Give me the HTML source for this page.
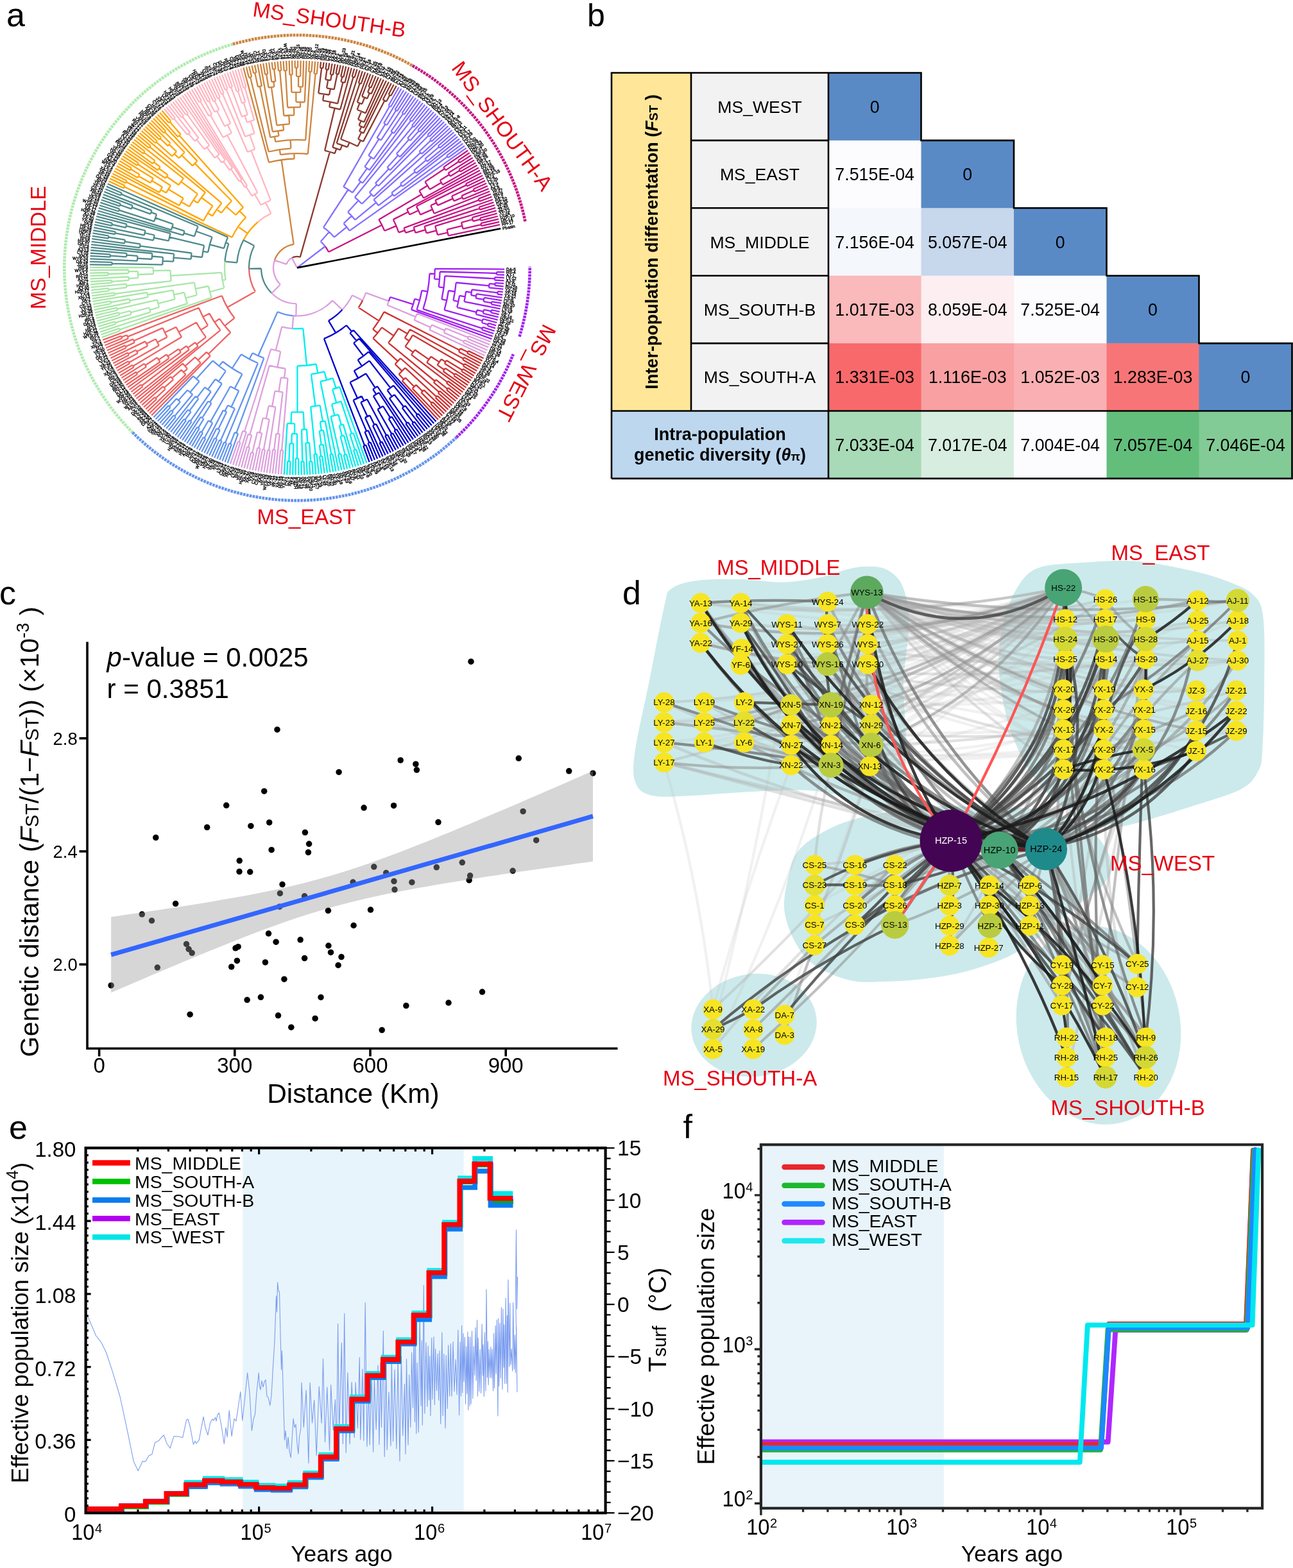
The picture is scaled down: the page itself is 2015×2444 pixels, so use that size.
<!DOCTYPE html>
<html><head><meta charset="utf-8"><style>
html,body{margin:0;padding:0;background:#fff;}
svg{display:block;}
text{font-family:'Liberation Sans', Arial, sans-serif;}
</style></head><body>
<svg xmlns="http://www.w3.org/2000/svg" width="2015" height="2444" viewBox="0 0 2015 2444" font-family="'Liberation Sans', Arial, sans-serif">
<rect width="2015" height="2444" fill="#fff"/>
<g id="pa">
<path d="M750.1,352.2L778.0,345.8M749.1,348.1L776.9,341.4M750.1,352.2A294.4,294.4 0 0 0 749.1,348.1M749.1,343.9L775.8,337.0M748.0,339.9L774.7,332.6M749.1,343.9A295.4,295.4 0 0 0 748.0,339.9M737.3,344.9L748.5,341.9M735.7,339.1L773.5,328.3M737.3,344.9A283.7,283.7 0 0 0 735.7,339.1M721.5,356.7L749.6,350.1M718.9,346.8L736.5,342.0M721.5,356.7A265.5,265.5 0 0 0 718.9,346.8M698.7,367.3L778.9,350.2M696.5,357.8L720.3,351.8M698.7,367.3A241.0,241.0 0 0 0 696.5,357.8M681.9,366.2L697.7,362.5M678.1,352.4L772.2,323.9M681.9,366.2A224.8,224.8 0 0 0 678.1,352.4M747.8,326.9L770.8,319.6M746.5,322.9L769.4,315.3M747.8,326.9A298.9,298.9 0 0 0 746.5,322.9M664.6,363.4L680.1,359.3M661.4,352.8L747.2,324.9M664.6,363.4A208.7,208.7 0 0 0 661.4,352.8M647.4,362.8L663.1,358.1M644.6,354.1L768.0,311.0M647.4,362.8A192.3,192.3 0 0 0 644.6,354.1M747.1,313.8L766.5,306.7M745.6,309.8L764.9,302.5M747.1,313.8A302.4,302.4 0 0 0 745.6,309.8M632.1,362.9L646.0,358.4M629.5,355.4L746.3,311.8M632.1,362.9A177.7,177.7 0 0 0 629.5,355.4M739.3,298.7L759.8,289.9M737.7,294.8L758.0,285.7M739.3,298.7A300.8,300.8 0 0 0 737.7,294.8M721.7,310.5L761.5,294.1M719.4,305.1L738.5,296.7M721.7,310.5A279.9,279.9 0 0 0 719.4,305.1M707.4,313.4L720.6,307.8M704.0,305.8L756.1,281.6M707.4,313.4A265.6,265.6 0 0 0 704.0,305.8M727.7,290.2L754.1,277.5M725.9,286.5L752.2,273.5M727.7,290.2A293.7,293.7 0 0 0 725.9,286.5M682.0,320.1L705.7,309.6M678.3,312.1L726.8,288.4M682.0,320.1A239.6,239.6 0 0 0 678.3,312.1M676.5,332.7L763.2,298.3M671.2,320.3L680.2,316.1M676.5,332.7A229.7,229.7 0 0 0 671.2,320.3M655.1,334.6L674.0,326.4M648.9,321.6L750.1,269.4M655.1,334.6A209.2,209.2 0 0 0 648.9,321.6M638.3,334.5L652.1,328.0M634.1,326.2L748.0,265.4M638.3,334.5A193.9,193.9 0 0 0 634.1,326.2M621.4,362.4L630.8,359.1M612.8,342.1L636.3,330.3M621.4,362.4A167.7,167.7 0 0 0 612.8,342.1M717.5,267.6L741.4,253.6M715.4,264.1L739.0,249.7M717.5,267.6A295.3,295.3 0 0 0 715.4,264.1M701.6,274.7L716.4,265.8M698.5,269.7L736.7,245.8M701.6,274.7A278.0,278.0 0 0 0 698.5,269.7M689.9,288.1L743.6,257.5M685.7,281.0L700.1,272.2M689.9,288.1A261.2,261.2 0 0 0 685.7,281.0M716.3,253.6L734.2,242.0M714.0,250.1L731.7,238.2M716.3,253.6A301.7,301.7 0 0 0 714.0,250.1M694.4,265.4L715.1,251.8M691.2,260.6L729.2,234.5M694.4,265.4A276.9,276.9 0 0 0 691.2,260.6M669.8,295.2L687.9,284.5M662.4,283.4L692.8,263.0M669.8,295.2A240.2,240.2 0 0 0 662.4,283.4M660.1,308.7L745.8,261.4M653.4,297.3L666.2,289.2M660.1,308.7A225.1,225.1 0 0 0 653.4,297.3M599.3,359.8L617.5,352.1M590.4,342.2L656.8,303.0M599.3,359.8A148.0,148.0 0 0 0 590.4,342.2M512.1,392.7L595.2,350.8M506.7,384.0A55.0,55.0 0 0 1 512.1,392.7" stroke="#C71585" stroke-width="2.3" fill="none" stroke-linecap="butt"/>
<path d="M698.4,245.8L724.0,227.2M696.0,242.6L721.4,223.6M698.4,245.8A291.3,291.3 0 0 0 696.0,242.6M685.3,230.6L710.3,209.6M682.7,227.6L707.4,206.2M685.3,230.6A290.3,290.3 0 0 0 682.7,227.6M665.8,251.7L713.1,213.0M662.3,247.6L684.0,229.1M665.8,251.7A261.8,261.8 0 0 0 662.3,247.6M648.6,270.0L715.9,216.5M645.0,265.6L664.0,249.7M648.6,270.0A237.0,237.0 0 0 0 645.0,265.6M627.3,290.6L718.7,220.0M623.9,286.4L646.8,267.8M627.3,290.6A207.5,207.5 0 0 0 623.9,286.4M614.1,305.7L697.2,244.2M610.2,300.7L625.6,288.5M614.1,305.7A187.9,187.9 0 0 0 610.2,300.7M589.8,320.3L612.2,303.2M582.4,311.3L704.5,202.9M589.8,320.3A159.7,159.7 0 0 0 582.4,311.3M672.8,220.4L698.4,196.3M670.0,217.5L695.4,193.0M672.8,220.4A287.8,287.8 0 0 0 670.0,217.5M657.2,239.9L701.5,199.5M653.5,236.0L671.4,218.9M657.2,239.9A263.1,263.1 0 0 0 653.5,236.0M669.0,212.9L692.2,189.9M666.2,210.1L689.1,186.7M669.0,212.9A290.3,290.3 0 0 0 666.2,210.1M654.2,205.4L679.3,177.6M651.3,202.8L676.0,174.6M654.2,205.4A285.5,285.5 0 0 0 651.3,202.8M639.3,219.2L652.8,204.1M635.1,215.6L672.6,171.7M639.3,219.2A265.2,265.2 0 0 0 635.1,215.6M623.2,244.6L682.6,180.6M617.8,239.7L637.2,217.4M623.2,244.6A235.7,235.7 0 0 0 617.8,239.7M608.0,265.3L685.9,183.6M603.5,261.1L620.5,242.1M608.0,265.3A210.2,210.2 0 0 0 603.5,261.1M589.6,290.0L667.6,211.5M585.0,285.6L605.8,263.2M589.6,290.0A179.6,179.6 0 0 0 585.0,285.6M582.1,306.3L655.4,237.9M575.8,299.8L587.3,287.8M582.1,306.3A162.9,162.9 0 0 0 575.8,299.8M644.9,198.1L669.2,168.8M641.9,195.6L665.8,166.0M644.9,198.1A285.0,285.0 0 0 0 641.9,195.6M564.0,317.7L579.0,303.0M552.9,307.5L643.4,196.8M564.0,317.7A141.9,141.9 0 0 0 552.9,307.5M553.5,342.7L586.2,315.7M542.1,330.6L558.6,312.5M553.5,342.7A117.4,117.4 0 0 0 542.1,330.6M544.7,359.6L726.6,230.8M535.5,348.4L548.0,336.4M544.7,359.6A100.0,100.0 0 0 0 535.5,348.4M641.8,189.4L662.3,163.2M638.6,186.9L658.8,160.5M641.8,189.4A289.7,289.7 0 0 0 638.6,186.9M629.9,178.4L648.0,152.6M626.6,176.1L644.3,150.1M629.9,178.4A291.5,291.5 0 0 0 626.6,176.1M613.7,207.9L651.6,155.2M609.3,204.8L628.3,177.2M613.7,207.9A258.0,258.0 0 0 0 609.3,204.8M618.9,173.2L636.8,145.2M615.5,171.1L633.1,142.8M618.9,173.2A289.7,289.7 0 0 0 615.5,171.1M602.9,195.0L617.2,172.2M598.2,192.2L629.2,140.5M602.9,195.0A262.7,262.7 0 0 0 598.2,192.2M593.7,218.7L640.6,147.6M587.5,214.8L600.5,193.6M593.7,218.7A237.8,237.8 0 0 0 587.5,214.8M582.3,247.8L611.5,206.4M574.3,242.4L590.6,216.7M582.3,247.8A207.4,207.4 0 0 0 574.3,242.4M575.8,265.1L655.2,157.8M568.4,259.9L578.4,245.1M575.8,265.1A189.5,189.5 0 0 0 568.4,259.9M565.0,285.4L640.2,188.2M559.0,281.0L572.1,262.4M565.0,285.4A166.8,166.8 0 0 0 559.0,281.0M608.9,166.5L625.4,138.2M605.5,164.5L621.5,136.0M608.9,166.5A290.2,290.2 0 0 0 605.5,164.5M549.4,300.3L562.0,283.2M535.3,291.1L607.2,165.5M549.4,300.3A145.6,145.6 0 0 0 535.3,291.1M520.9,369.7L540.3,353.8M504.0,354.6L542.5,295.5M520.9,369.7A75.0,75.0 0 0 0 504.0,354.6M499.7,376.4L513.0,361.5M506.7,384.0A55.0,55.0 0 0 0 499.7,376.4M463.0,417.4L506.7,384.0" stroke="#8470FF" stroke-width="2.3" fill="none" stroke-linecap="butt"/>
<path d="M609.3,149.2L617.7,133.8M605.6,147.2L613.7,131.7M609.3,149.2A305.5,305.5 0 0 0 605.6,147.2M602.1,158.2L607.4,148.2M596.7,155.4L609.8,129.7M602.1,158.2A294.1,294.1 0 0 0 596.7,155.4M578.3,136.6L585.7,118.6M574.4,135.1L581.5,116.9M578.3,136.6A303.5,303.5 0 0 0 574.4,135.1M578.7,146.2L589.7,120.3M573.1,143.9L576.3,135.8M578.7,146.2A294.8,294.8 0 0 0 573.1,143.9M572.3,153.6L575.9,145.1M564.1,150.4L577.4,115.3M572.3,153.6A285.5,285.5 0 0 0 564.1,150.4M564.2,162.1L568.2,152.0M556.7,159.3L573.3,113.8M564.2,162.1A274.6,274.6 0 0 0 556.7,159.3M569.7,176.4L593.8,122.1M556.6,171.0L560.5,160.7M569.7,176.4A263.6,263.6 0 0 0 556.6,171.0M567.3,190.3L597.8,123.9M558.0,186.2L563.2,173.6M567.3,190.3A249.9,249.9 0 0 0 558.0,186.2M567.0,199.0L601.9,125.8M559.5,195.5L562.7,188.2M567.0,199.0A241.9,241.9 0 0 0 559.5,195.5M566.5,207.6L605.9,127.7M560.0,204.5L563.3,197.2M566.5,207.6A233.9,233.9 0 0 0 560.0,204.5M566.0,220.6L599.4,156.8M558.1,216.7L563.2,206.0M566.0,220.6A222.1,222.1 0 0 0 558.1,216.7M562.7,130.7L569.1,112.3M558.8,129.3L564.9,110.9M562.7,130.7A303.6,303.6 0 0 0 558.8,129.3M557.4,228.0L562.1,218.6M531.1,217.0L560.7,130.0M557.4,228.0A211.7,211.7 0 0 0 531.1,217.0M541.4,229.4L544.5,222.0M524.6,223.3L560.7,109.5M541.4,229.4A203.7,203.7 0 0 0 524.6,223.3M552.6,120.7L556.4,108.2M548.6,119.5L552.2,107.0M552.6,120.7A309.9,309.9 0 0 0 548.6,119.5M530.3,233.7L533.1,226.2M518.3,229.7L550.6,120.1M530.3,233.7A195.7,195.7 0 0 0 518.3,229.7M535.3,120.2L539.3,103.5M531.2,119.2L535.0,102.5M535.3,120.2A305.9,305.9 0 0 0 531.2,119.2M537.4,128.9L543.6,104.6M531.4,127.5L533.2,119.7M537.4,128.9A297.9,297.9 0 0 0 531.4,127.5M527.6,115.8L530.7,101.6M523.5,114.9L526.3,100.7M527.6,115.8A308.4,308.4 0 0 0 523.5,114.9M518.9,116.7L522.0,99.8M514.7,115.9L517.6,99.1M518.9,116.7A305.9,305.9 0 0 0 514.7,115.9M511.6,108.7L513.3,98.3M507.4,108.1L508.9,97.7M511.6,108.7A312.5,312.5 0 0 0 507.4,108.1M515.2,125.3L516.8,116.3M507.2,124.0L509.5,108.4M515.2,125.3A296.7,296.7 0 0 0 507.2,124.0M520.6,139.4L525.6,115.4M509.1,137.3L511.2,124.7M520.6,139.4A283.9,283.9 0 0 0 509.1,137.3M503.3,106.3L504.5,97.1M499.0,105.8L500.1,96.5M503.3,106.3A313.7,313.7 0 0 0 499.0,105.8M513.1,147.9L514.9,138.3M496.3,145.4L501.2,106.0M513.1,147.9A274.1,274.1 0 0 0 496.3,145.4M526.2,161.4L534.4,128.2M503.1,156.8L504.7,146.5M526.2,161.4A263.7,263.7 0 0 0 503.1,156.8M530.2,170.7L547.9,105.8M513.2,166.6L514.7,158.8M530.2,170.7A255.7,255.7 0 0 0 513.2,166.6M521.8,239.2L524.3,231.6M506.1,234.7L521.7,168.5M521.8,239.2A187.7,187.7 0 0 0 506.1,234.7M467.8,400.6L514.0,236.8M454.8,401.9A17.5,17.5 0 0 1 467.8,400.6" stroke="#8B3A2F" stroke-width="2.3" fill="none" stroke-linecap="butt"/>
<path d="M493.7,115.2L495.6,96.1M489.5,114.8L491.2,95.6M493.7,115.2A303.8,303.8 0 0 0 489.5,114.8M485.4,112.0L486.7,95.3M481.2,111.7L482.2,95.0M485.4,112.0A306.2,306.2 0 0 0 481.2,111.7M464.1,105.6L464.1,94.4M459.7,105.7L459.6,94.4M464.1,105.6A311.8,311.8 0 0 0 459.7,105.7M468.2,119.1L468.6,94.4M462.0,119.0L461.9,105.6M468.2,119.1A298.4,298.4 0 0 0 462.0,119.0M471.9,135.3L473.1,94.6M465.0,135.2L465.1,119.0M471.9,135.3A282.2,282.2 0 0 0 465.0,135.2M455.6,116.6L455.1,94.5M451.4,116.7L450.6,94.6M455.6,116.6A300.9,300.9 0 0 0 451.4,116.7M468.3,143.9L468.4,135.2M454.4,143.9L453.5,116.6M468.3,143.9A273.6,273.6 0 0 0 454.4,143.9M474.7,159.3L477.7,94.7M461.4,159.0L461.3,143.8M474.7,159.3A258.4,258.4 0 0 0 461.4,159.0M446.9,110.2L446.1,94.8M442.6,110.4L441.6,95.1M446.9,110.2A307.7,307.7 0 0 0 442.6,110.4M467.9,167.1L468.1,159.1M448.2,167.5L444.8,110.3M467.9,167.1A250.4,250.4 0 0 0 448.2,167.5M438.3,110.0L437.1,95.4M434.0,110.4L432.6,95.8M438.3,110.0A308.4,308.4 0 0 0 434.0,110.4M458.3,179.5L458.0,167.1M442.3,180.4L436.1,110.2M458.3,179.5A237.9,237.9 0 0 0 442.3,180.4M429.3,107.5L428.1,96.3M425.0,108.0L423.6,96.8M429.3,107.5A311.7,311.7 0 0 0 425.0,108.0M429.4,127.0L427.2,107.8M423.3,127.7L419.2,97.4M429.4,127.0A292.4,292.4 0 0 0 423.3,127.7M417.3,115.4L414.7,98.0M413.1,116.0L410.2,98.7M417.3,115.4A305.5,305.5 0 0 0 413.1,116.0M427.4,135.3L426.4,127.3M418.5,136.5L415.2,115.7M427.4,135.3A284.4,284.4 0 0 0 418.5,136.5M451.0,193.4L450.3,179.8M431.4,195.4L422.9,135.9M451.0,193.4A224.3,224.3 0 0 0 431.4,195.4M442.0,203.0L441.2,194.2M424.8,205.3L405.8,99.5M442.0,203.0A215.5,215.5 0 0 0 424.8,205.3M399.5,113.2L396.9,101.2M395.2,114.2L392.5,102.2M399.5,113.2A310.7,310.7 0 0 0 395.2,114.2M407.9,134.2L401.4,100.3M402.0,135.4L397.3,113.7M407.9,134.2A288.5,288.5 0 0 0 402.0,135.4M434.5,211.9L433.4,204.0M421.3,214.2L405.0,134.8M434.5,211.9A207.5,207.5 0 0 0 421.3,214.2M476.2,218.4L483.3,111.8M429.2,220.8L427.9,212.9M476.2,218.4A199.5,199.5 0 0 0 429.2,220.8M392.1,119.8L388.1,103.2M387.9,120.8L383.8,104.3M392.1,119.8A306.0,306.0 0 0 0 387.9,120.8M453.3,231.4L452.7,218.2M418.6,236.5L390.0,120.3M453.3,231.4A186.2,186.2 0 0 0 418.6,236.5M479.8,240.0L491.6,115.0M437.0,241.1L435.8,233.2M479.8,240.0A178.2,178.2 0 0 0 437.0,241.1M458.6,247.5L458.4,239.2M419.0,253.2L379.4,105.4M458.6,247.5A170.0,170.0 0 0 0 419.0,253.2M457.7,380.8L438.6,249.2M427.9,405.7A37.0,37.0 0 0 1 457.7,380.8" stroke="#CD853F" stroke-width="2.3" fill="none" stroke-linecap="butt"/>
<path d="M383.5,136.1L375.1,106.6M379.7,137.2L370.9,107.8M383.5,136.1A292.3,292.3 0 0 0 379.7,137.2M372.7,141.4L362.5,110.4M368.9,142.7L358.4,111.8M372.7,141.4A290.4,290.4 0 0 0 368.9,142.7M382.3,159.2L366.7,109.1M377.1,160.9L370.8,142.0M382.3,159.2A270.5,270.5 0 0 0 377.1,160.9M362.1,135.3L354.2,113.3M358.3,136.7L350.1,114.8M362.1,135.3A299.6,299.6 0 0 0 358.3,136.7M385.8,178.8L379.7,160.0M376.9,181.8L360.2,136.0M385.8,178.8A250.8,250.8 0 0 0 376.9,181.8M396.2,187.1L381.6,136.7M384.9,190.6L381.4,180.3M396.2,187.1A239.8,239.8 0 0 0 384.9,190.6M354.6,138.4L346.0,116.3M350.8,139.9L341.9,117.9M354.6,138.4A299.3,299.3 0 0 0 350.8,139.9M396.5,207.8L390.5,188.8M382.0,213.0L352.7,139.1M396.5,207.8A219.9,219.9 0 0 0 382.0,213.0M348.7,145.4L337.9,119.6M345.0,146.9L333.8,121.3M348.7,145.4A295.1,295.1 0 0 0 345.0,146.9M397.2,232.6L389.2,210.2M385.8,237.0L346.8,146.1M397.2,232.6A196.2,196.2 0 0 0 385.8,237.0M342.9,152.1L329.8,123.1M339.3,153.7L325.8,125.0M342.9,152.1A291.2,291.2 0 0 0 339.3,153.7M336.4,156.7L321.9,126.9M332.8,158.4L318.0,128.8M336.4,156.7A289.9,289.9 0 0 0 332.8,158.4M327.5,156.8L314.1,130.8M324.0,158.6L310.2,132.8M327.5,156.8A293.7,293.7 0 0 0 324.0,158.6M341.4,171.2L334.6,157.5M334.7,174.6L325.8,157.7M341.4,171.2A274.6,274.6 0 0 0 334.7,174.6M359.3,192.3L341.1,152.9M350.2,196.7L338.0,172.9M359.3,192.3A247.8,247.8 0 0 0 350.2,196.7M313.9,157.1L302.5,137.1M310.4,159.1L298.7,139.3M313.9,157.1A300.0,300.0 0 0 0 310.4,159.1M330.2,178.0L306.3,134.9M325.4,180.7L312.2,158.1M330.2,178.0A273.8,273.8 0 0 0 325.4,180.7M361.0,207.3L354.7,194.5M347.6,214.3L327.8,179.4M361.0,207.3A233.6,233.6 0 0 0 347.6,214.3M293.2,177.0L276.6,153.6M289.9,179.3L273.1,156.2M293.2,177.0A294.3,294.3 0 0 0 289.9,179.3M286.2,181.0L269.5,158.8M283.0,183.4L266.0,161.4M286.2,181.0A295.2,295.2 0 0 0 283.0,183.4M272.9,183.8L259.1,166.9M269.7,186.4L255.8,169.6M272.9,183.8A301.2,301.2 0 0 0 269.7,186.4M296.1,206.5L262.6,164.1M291.8,209.9L271.3,185.1M296.1,206.5A269.0,269.0 0 0 0 291.8,209.9M309.6,215.2L284.6,182.2M303.5,220.0L293.9,208.2M309.6,215.2A253.8,253.8 0 0 0 303.5,220.0M326.3,226.7L291.5,178.2M318.3,232.7L306.5,217.6M326.3,226.7A234.6,234.6 0 0 0 318.3,232.7M341.8,240.8L280.2,151.1M334.6,246.0L322.3,229.6M341.8,240.8A214.2,214.2 0 0 0 334.6,246.0M351.1,249.5L283.9,148.6M345.4,253.5L338.2,243.4M351.1,249.5A201.7,201.7 0 0 0 345.4,253.5M362.3,261.8L287.5,146.2M357.6,265.0L348.2,251.5M362.3,261.8A185.3,185.3 0 0 0 357.6,265.0M376.9,280.3L291.2,143.9M372.9,282.8L359.9,263.4M376.9,280.3A162.0,162.0 0 0 0 372.9,282.8M385.2,289.8L294.9,141.6M381.7,292.0L374.9,281.5M385.2,289.8A149.5,149.5 0 0 0 381.7,292.0M401.4,300.3L354.2,210.7M392.6,305.4L383.5,290.9M401.4,300.3A132.3,132.3 0 0 0 392.6,305.4M421.8,312.2L391.4,234.7M406.6,319.5L396.9,302.7M421.8,312.2A113.0,113.0 0 0 0 406.6,319.5M422.3,332.7L414.0,315.6M402.0,345.8A94.0,94.0 0 0 1 422.3,332.7" stroke="#FFB6C1" stroke-width="2.3" fill="none" stroke-linecap="butt"/>
<path d="M266.1,188.5L252.4,172.5M263.0,191.3L249.0,175.5M266.1,188.5A301.9,301.9 0 0 0 263.0,191.3M281.6,209.4L264.6,189.9M277.3,213.2L245.7,178.4M281.6,209.4A276.0,276.0 0 0 0 277.3,213.2M258.2,204.3L239.1,184.6M255.2,207.2L235.9,187.7M258.2,204.3A295.6,295.6 0 0 0 255.2,207.2M251.0,214.5L229.7,194.1M248.2,217.4L226.6,197.3M251.0,214.5A293.5,293.5 0 0 0 248.2,217.4M265.7,223.3L232.8,190.8M261.7,227.4L249.6,216.0M265.7,223.3A276.8,276.8 0 0 0 261.7,227.4M245.0,220.0L223.6,200.6M242.3,223.0L220.6,203.9M245.0,220.0A294.1,294.1 0 0 0 242.3,223.0M275.0,236.2L263.7,225.3M268.2,243.5L243.6,221.5M275.0,236.2A261.1,261.1 0 0 0 268.2,243.5M287.7,237.5L256.7,205.8M278.8,246.5L271.6,239.8M287.7,237.5A251.2,251.2 0 0 0 278.8,246.5M307.5,251.1L242.4,181.5M300.0,258.4L283.2,242.0M307.5,251.1A227.7,227.7 0 0 0 300.0,258.4M234.8,227.4L214.8,210.7M232.2,230.6L211.9,214.2M234.8,227.4A296.9,296.9 0 0 0 232.2,230.6M225.6,235.9L206.4,221.2M223.2,239.3L203.7,224.8M225.6,235.9A298.8,298.8 0 0 0 223.2,239.3M241.4,250.4L224.4,237.6M238.0,255.1L201.1,228.4M241.4,250.4A277.4,277.4 0 0 0 238.0,255.1M249.6,260.1L239.7,252.8M245.9,265.3L198.5,232.1M249.6,260.1A265.1,265.1 0 0 0 245.9,265.3M261.5,272.6L247.7,262.7M257.8,277.8L195.9,235.7M261.5,272.6A248.1,248.1 0 0 0 257.8,277.8M285.9,278.1L209.1,217.7M278.4,288.3L259.7,275.2M285.9,278.1A225.3,225.3 0 0 0 278.4,288.3M215.9,254.3L193.4,239.5M213.7,257.8L191.0,243.2M215.9,254.3A296.0,296.0 0 0 0 213.7,257.8M204.9,262.0L186.3,250.8M202.8,265.6L184.0,254.7M204.9,262.0A301.2,301.2 0 0 0 202.8,265.6M217.6,272.0L203.9,263.8M214.6,277.1L181.8,258.5M217.6,272.0A285.3,285.3 0 0 0 214.6,277.1M238.7,278.1L188.6,247.0M234.4,285.1L216.1,274.5M238.7,278.1A264.1,264.1 0 0 0 234.4,285.1M253.1,291.6L236.5,281.6M248.3,300.0L179.6,262.5M253.1,291.6A244.7,244.7 0 0 0 248.3,300.0M265.9,289.3L214.8,256.0M259.0,300.6L250.7,295.8M265.9,289.3A235.0,235.0 0 0 0 259.0,300.6M285.7,309.1L262.4,294.9M279.4,320.3L177.5,266.4M285.7,309.1A207.7,207.7 0 0 0 279.4,320.3M308.0,302.4L282.1,283.1M295.2,321.9L282.5,314.7M308.0,302.4A193.1,193.1 0 0 0 295.2,321.9M320.0,300.0L233.5,229.0M308.0,316.3L301.3,311.9M320.0,300.0A185.1,185.1 0 0 0 308.0,316.3M197.6,281.7L175.4,270.4M195.7,285.4L173.4,274.4M197.6,281.7A298.1,298.1 0 0 0 195.7,285.4M331.4,320.9L313.8,308.0M317.2,344.1L196.7,283.6M331.4,320.9A163.2,163.2 0 0 0 317.2,344.1M345.4,316.7L217.7,207.3M331.0,336.6L323.8,332.2M345.4,316.7A154.8,154.8 0 0 0 331.0,336.6M361.0,313.2L303.7,254.7M345.1,331.7L337.8,326.4M361.0,313.2A145.8,145.8 0 0 0 345.1,331.7M379.1,323.2L279.5,211.3M367.6,335.0L352.6,322.1M379.1,323.2A126.1,126.1 0 0 0 367.6,335.0M194.6,289.4L171.4,278.4M192.8,293.2L169.5,282.4M194.6,289.4A297.4,297.4 0 0 0 192.8,293.2M383.2,338.8L373.2,328.9M361.6,369.9L193.7,291.3M383.2,338.8A112.0,112.0 0 0 0 361.6,369.9M385.8,363.7L371.1,353.4M402.0,345.8A94.0,94.0 0 0 0 385.8,363.7M379.4,374.3A94.0,94.0 0 0 1 402.0,345.8" stroke="#FFA500" stroke-width="2.3" fill="none" stroke-linecap="butt"/>
<path d="M189.6,300.7L165.9,290.6M188.0,304.5L164.2,294.7M189.6,300.7A297.3,297.3 0 0 0 188.0,304.5M187.9,317.6L159.4,307.3M186.6,321.4L157.9,311.5M187.9,317.6A292.6,292.6 0 0 0 186.6,321.4M206.7,320.4L160.9,303.1M204.7,325.7L187.3,319.5M206.7,320.4A274.0,274.0 0 0 0 204.7,325.7M236.6,328.1L162.5,298.9M234.5,333.6L205.7,323.1M236.6,328.1A243.3,243.3 0 0 0 234.5,333.6M186.3,325.6L156.4,315.7M185.1,329.5L155.0,320.0M186.3,325.6A291.5,291.5 0 0 0 185.1,329.5M244.1,334.1L235.6,330.9M240.2,345.2L185.7,327.6M244.1,334.1A234.2,234.2 0 0 0 240.2,345.2M269.8,349.4L242.1,339.6M266.9,358.3L153.7,324.2M269.8,349.4A204.8,204.8 0 0 0 266.9,358.3M287.6,360.1L268.3,353.8M285.6,366.6L152.5,328.5M287.6,360.1A184.5,184.5 0 0 0 285.6,366.6M308.6,352.8L188.8,302.6M303.0,368.4L286.5,363.4M308.6,352.8A167.3,167.3 0 0 0 303.0,368.4M175.0,347.8L149.0,341.5M174.1,351.8L148.0,345.9M175.0,347.8A296.3,296.3 0 0 0 174.1,351.8M197.4,349.3L150.1,337.2M196.1,354.8L174.5,349.8M197.4,349.3A274.2,274.2 0 0 0 196.1,354.8M226.5,359.4L196.7,352.1M224.8,366.7L147.1,350.2M226.5,359.4A243.6,243.6 0 0 0 224.8,366.7M179.9,361.3L146.2,354.6M179.1,365.2L145.3,359.0M179.9,361.3A288.6,288.6 0 0 0 179.1,365.2M240.7,366.5L225.6,363.0M239.0,374.6L179.5,363.3M240.7,366.5A228.0,228.0 0 0 0 239.0,374.6M265.6,363.9L151.3,332.8M262.8,375.4L239.8,370.6M265.6,363.9A204.5,204.5 0 0 0 262.8,375.4M169.5,367.6L144.5,363.4M168.8,371.7L143.8,367.8M169.5,367.6A297.7,297.7 0 0 0 168.8,371.7M195.0,373.9L169.1,369.7M194.1,379.4L143.2,372.2M195.0,373.9A271.5,271.5 0 0 0 194.1,379.4M218.6,380.3L194.5,376.6M217.8,386.2L142.6,376.7M218.6,380.3A247.2,247.2 0 0 0 217.8,386.2M172.0,396.7L140.8,394.5M171.8,400.7L140.5,398.9M172.0,396.7A291.7,291.7 0 0 0 171.8,400.7M197.5,394.8L141.2,390.0M197.1,400.3L171.9,398.7M197.5,394.8A266.5,266.5 0 0 0 197.1,400.3M214.4,398.8L197.3,397.6M213.9,406.6L140.3,403.4M214.4,398.8A249.3,249.3 0 0 0 213.9,406.6M237.3,395.0L141.6,385.6M236.6,404.0L214.1,402.7M237.3,395.0A226.8,226.8 0 0 0 236.6,404.0M174.7,408.9L140.1,407.9M174.6,412.9L140.0,412.3M174.7,408.9A288.5,288.5 0 0 0 174.6,412.9M253.9,400.9L236.9,399.5M253.3,412.7L174.6,410.9M253.9,400.9A209.8,209.8 0 0 0 253.3,412.7M271.1,395.7L142.0,381.1M270.2,407.6L253.5,406.8M271.1,395.7A193.1,193.1 0 0 0 270.2,407.6M298.6,394.5L218.2,383.3M297.6,403.9L270.6,401.7M298.6,394.5A165.9,165.9 0 0 0 297.6,403.9M318.2,382.6L264.1,369.6M315.0,401.0L298.1,399.2M318.2,382.6A148.9,148.9 0 0 0 315.0,401.0M330.5,369.5L305.6,360.5M324.2,393.2L316.3,391.8M330.5,369.5A140.9,140.9 0 0 0 324.2,393.2M355.1,369.6L167.7,286.5M349.0,387.1L326.9,381.2M355.1,369.6A118.0,118.0 0 0 0 349.0,387.1M356.4,379.9L351.7,378.2M350.4,407.7A113.0,113.0 0 0 1 356.4,379.9M369.3,409.3L350.4,407.7M379.4,374.3A94.0,94.0 0 0 0 369.3,409.3M396.3,383.0L379.4,374.3M388.0,418.9A75.0,75.0 0 0 1 396.3,383.0M407.0,418.5L388.0,418.9M423.4,457.0A56.0,56.0 0 0 1 407.0,418.5" stroke="#4F8A8B" stroke-width="2.3" fill="none" stroke-linecap="butt"/>
<path d="M168.8,425.0L140.1,425.7M168.9,429.0L140.3,430.1M168.8,425.0A294.3,294.3 0 0 0 168.9,429.0M200.2,420.5L140.0,421.2M200.3,426.0L168.8,427.0M200.2,420.5A262.8,262.8 0 0 0 200.3,426.0M174.1,436.8L140.7,439.0M174.4,440.7L141.1,443.4M174.1,436.8A289.6,289.6 0 0 0 174.4,440.7M200.5,431.4L140.5,434.6M200.8,436.8L174.2,438.8M200.5,431.4A262.9,262.9 0 0 0 200.8,436.8M214.8,422.9L200.3,423.2M215.3,433.2L200.6,434.1M214.8,422.9A248.2,248.2 0 0 0 215.3,433.2M238.8,417.0L140.0,416.8M239.0,427.0L215.0,428.0M238.8,417.0A224.2,224.2 0 0 0 239.0,427.0M169.2,449.3L141.9,452.3M169.7,453.4L142.4,456.7M169.2,449.3A295.5,295.5 0 0 0 169.7,453.4M196.9,442.6L141.4,447.9M197.4,448.1L169.4,451.3M196.9,442.6A267.3,267.3 0 0 0 197.4,448.1M265.6,421.5L238.9,422.0M266.7,438.1L197.1,445.4M265.6,421.5A197.4,197.4 0 0 0 266.7,438.1M178.6,456.3L143.0,461.1M179.2,460.2L143.6,465.5M178.6,456.3A287.0,287.0 0 0 0 179.2,460.2M172.3,469.4L145.0,474.3M173.0,473.4L145.9,478.7M172.3,469.4A295.3,295.3 0 0 0 173.0,473.4M201.7,466.0L172.7,471.4M202.7,471.4L146.7,483.0M201.7,466.0A265.8,265.8 0 0 0 202.7,471.4M229.3,455.9L144.3,469.9M230.6,463.1L202.2,468.7M229.3,455.9A236.9,236.9 0 0 0 230.6,463.1M182.5,479.6L147.7,487.4M183.3,483.5L148.7,491.7M182.5,479.6A287.4,287.4 0 0 0 183.3,483.5M185.1,487.1L149.7,496.0M186.1,491.0L150.8,500.3M185.1,487.1A286.5,286.5 0 0 0 186.1,491.0M203.0,484.5L185.6,489.0M204.4,489.9L152.0,504.6M203.0,484.5A268.5,268.5 0 0 0 204.4,489.9M179.0,501.3L153.2,508.9M180.2,505.2L154.5,513.1M179.0,501.3A296.1,296.1 0 0 0 180.2,505.2M232.4,479.5L203.7,487.2M234.4,486.6L179.6,503.2M232.4,479.5A238.8,238.8 0 0 0 234.4,486.6M245.0,467.3L182.9,481.6M248.0,478.9L233.4,483.1M245.0,467.3A223.7,223.7 0 0 0 248.0,478.9M269.6,452.3L229.9,459.5M272.7,466.4L246.4,473.1M269.6,452.3A196.5,196.5 0 0 0 272.7,466.4M287.2,455.9L271.0,459.4M291.9,473.1L155.9,517.4M287.2,455.9A180.0,180.0 0 0 0 291.9,473.1M302.9,440.4L178.9,458.2M306.9,459.8L289.3,464.5M302.9,440.4A161.8,161.8 0 0 0 306.9,459.8M185.8,511.8L157.3,521.6M187.2,515.7L158.7,525.8M185.8,511.8A292.8,292.8 0 0 0 187.2,515.7M324.8,446.0L304.6,450.1M329.7,463.8L186.5,513.8M324.8,446.0A141.1,141.1 0 0 0 329.7,463.8M345.2,424.8L266.0,429.8M349.3,448.8L327.0,455.0M345.2,424.8A118.0,118.0 0 0 0 349.3,448.8M351.6,436.1L346.6,436.9M350.4,407.7A113.0,113.0 0 0 0 351.6,436.1" stroke="#A8E6A8" stroke-width="2.3" fill="none" stroke-linecap="butt"/>
<path d="M188.9,523.6L161.8,534.1M190.3,527.3L163.4,538.2M188.9,523.6A294.0,294.0 0 0 0 190.3,527.3M197.7,522.2L189.6,525.4M199.9,527.6L165.1,542.2M197.7,522.2A285.2,285.2 0 0 0 199.9,527.6M195.1,538.4L168.6,550.3M196.8,542.0L170.5,554.3M195.1,538.4A294.0,294.0 0 0 0 196.8,542.0M207.4,528.6L166.8,546.3M209.7,533.9L195.9,540.2M207.4,528.6A278.8,278.8 0 0 0 209.7,533.9M199.1,549.8L174.3,562.3M200.9,553.4L176.3,566.2M199.1,549.8A295.3,295.3 0 0 0 200.9,553.4M212.1,545.4L200.0,551.6M214.8,550.6L178.4,570.1M212.1,545.4A281.7,281.7 0 0 0 214.8,550.6M226.4,532.1L172.4,558.3M230.1,539.3L213.4,548.0M226.4,532.1A262.9,262.9 0 0 0 230.1,539.3M200.1,563.1L180.5,573.9M202.1,566.6L182.6,577.8M200.1,563.1A300.6,300.6 0 0 0 202.1,566.6M242.6,528.5L228.2,535.7M247.9,538.5L201.1,564.9M242.6,528.5A246.9,246.9 0 0 0 247.9,538.5M253.5,511.1L208.5,531.3M260.5,525.4L245.2,533.5M253.5,511.1A229.5,229.5 0 0 0 260.5,525.4M206.4,568.9L184.8,581.6M208.5,572.3L187.1,585.4M206.4,568.9A297.9,297.9 0 0 0 208.5,572.3M274.5,509.7L256.9,518.3M283.0,525.3L207.5,570.6M274.5,509.7A209.9,209.9 0 0 0 283.0,525.3M212.1,579.7L191.8,592.8M214.3,583.1L194.2,596.5M212.1,579.7A298.8,298.8 0 0 0 214.3,583.1M225.0,566.8L189.4,589.1M228.1,571.6L213.2,581.4M225.0,566.8A281.0,281.0 0 0 0 228.1,571.6M245.1,557.3L226.6,569.2M249.5,564.0L196.7,600.2M245.1,557.3A259.0,259.0 0 0 0 249.5,564.0M259.6,552.5L247.2,560.7M263.6,558.3L199.2,603.8M259.6,552.5A244.2,244.2 0 0 0 263.6,558.3M278.3,544.0L261.5,555.4M281.9,549.1L201.8,607.4M278.3,544.0A223.9,223.9 0 0 0 281.9,549.1M219.8,599.4L204.4,610.9M222.3,602.7L207.1,614.4M219.8,599.4A303.7,303.7 0 0 0 222.3,602.7M290.5,539.2L280.1,546.6M294.8,545.0L221.1,601.0M290.5,539.2A211.1,211.1 0 0 0 294.8,545.0M304.2,533.7L292.7,542.1M308.7,539.6L209.8,617.9M304.2,533.7A196.8,196.8 0 0 0 308.7,539.6M306.1,502.6L278.5,517.6M321.0,525.6L306.4,536.7M306.1,502.6A178.5,178.5 0 0 0 321.0,525.6M309.7,479.8L198.8,524.9M324.0,507.3L313.1,514.4M309.7,479.8A165.5,165.5 0 0 0 324.0,507.3M326.4,488.6L316.2,493.9M343.5,514.7L212.5,621.3M326.4,488.6A154.1,154.1 0 0 0 343.5,514.7M241.2,619.1L224.0,634.7M244.0,622.1L227.0,637.9M241.2,619.1A299.8,299.8 0 0 0 244.0,622.1M254.0,602.3L221.1,631.4M257.8,606.5L242.6,620.6M254.0,602.3A279.0,279.0 0 0 0 257.8,606.5M266.0,587.0L218.2,628.1M270.1,591.6L255.9,604.4M266.0,587.0A260.0,260.0 0 0 0 270.1,591.6M282.7,576.4L268.0,589.3M289.6,583.9L230.0,641.1M282.7,576.4A240.4,240.4 0 0 0 289.6,583.9M284.8,566.6L215.3,624.7M292.0,574.8L286.1,580.2M284.8,566.6A232.4,232.4 0 0 0 292.0,574.8M304.3,556.7L288.4,570.7M312.8,565.7L233.1,644.3M304.3,556.7A211.1,211.1 0 0 0 312.8,565.7M322.0,548.7L308.5,561.3M327.7,554.6L236.2,647.4M322.0,548.7A192.7,192.7 0 0 0 327.7,554.6M342.2,496.8L334.3,502.1M359.3,518.1L324.8,551.7M342.2,496.8A144.5,144.5 0 0 0 359.3,518.1M345.8,461.0L160.2,529.9M365.5,495.7L350.3,507.9M345.8,461.0A125.0,125.0 0 0 0 365.5,495.7M397.8,454.4L354.3,479.1M388.0,418.9A75.0,75.0 0 0 0 397.8,454.4" stroke="#EE6363" stroke-width="2.3" fill="none" stroke-linecap="butt"/>
<path d="M262.6,632.1L242.6,653.5M265.5,634.9L245.8,656.5M262.6,632.1A293.8,293.8 0 0 0 265.5,634.9M266.8,639.4L249.1,659.4M269.9,642.1L252.4,662.3M266.8,639.4A296.3,296.3 0 0 0 269.9,642.1M275.2,621.3L264.0,633.5M280.9,626.4L268.3,640.7M275.2,621.3A277.2,277.2 0 0 0 280.9,626.4M270.7,647.3L255.8,665.2M273.9,649.9L259.2,668.0M270.7,647.3A299.7,299.7 0 0 0 273.9,649.9M292.2,608.0L278.0,623.9M300.2,614.8L272.3,648.6M292.2,608.0A255.9,255.9 0 0 0 300.2,614.8M301.2,586.1L239.4,650.5M310.6,594.6L296.2,611.5M301.2,586.1A233.7,233.7 0 0 0 310.6,594.6M286.8,653.1L269.6,676.1M290.0,655.5L273.2,678.7M286.8,653.1A294.3,294.3 0 0 0 290.0,655.5M292.9,638.6L266.1,673.4M297.5,642.0L288.4,654.3M292.9,638.6A279.0,279.0 0 0 0 297.5,642.0M304.7,617.6L262.6,670.7M309.5,621.3L295.2,640.3M304.7,617.6A255.2,255.2 0 0 0 309.5,621.3M295.3,655.0L276.7,681.3M298.5,657.3L280.4,683.8M295.3,655.0A290.9,290.9 0 0 0 298.5,657.3M319.3,603.6L307.1,619.5M328.7,610.5L296.9,656.2M319.3,603.6A235.2,235.2 0 0 0 328.7,610.5M307.3,665.7L291.4,691.0M310.7,667.8L295.2,693.4M307.3,665.7A293.1,293.1 0 0 0 310.7,667.8M312.8,649.9L287.7,688.7M317.5,652.9L309.0,666.8M312.8,649.9A276.8,276.8 0 0 0 317.5,652.9M324.5,625.4L284.0,686.3M329.5,628.6L315.1,651.4M324.5,625.4A249.9,249.9 0 0 0 329.5,628.6M335.7,591.0L323.9,607.1M345.8,598.0L327.0,627.0M335.7,591.0A215.3,215.3 0 0 0 345.8,598.0M331.5,562.2L305.9,590.4M351.9,578.4L340.7,594.6M331.5,562.2A195.6,195.6 0 0 0 351.9,578.4M312.6,672.4L298.9,695.6M316.1,674.4L302.7,697.8M312.6,672.4A296.0,296.0 0 0 0 316.1,674.4M316.7,681.7L306.6,700.0M320.3,683.7L310.4,702.1M316.7,681.7A302.1,302.1 0 0 0 320.3,683.7M324.8,655.5L314.4,673.4M331.3,659.2L318.5,682.7M324.8,655.5A275.3,275.3 0 0 0 331.3,659.2M334.5,682.8L322.2,708.1M338.1,684.5L326.2,710.0M334.5,682.8A294.9,294.9 0 0 0 338.1,684.5M337.5,667.7L318.3,706.2M342.7,670.3L336.3,683.7M337.5,667.7A280.0,280.0 0 0 0 342.7,670.3M347.9,639.4L314.3,704.2M353.2,642.1L340.1,669.0M347.9,639.4A250.1,250.1 0 0 0 353.2,642.1M341.9,685.9L330.2,711.8M345.6,687.5L334.2,713.6M341.9,685.9A294.5,294.5 0 0 0 345.6,687.5M355.1,631.7L350.5,640.8M365.9,636.7L343.7,686.7M355.1,631.7A239.9,239.9 0 0 0 365.9,636.7M359.0,602.3L328.0,657.4M372.3,609.1L360.5,634.3M359.0,602.3A212.1,212.1 0 0 0 372.3,609.1M347.1,563.5L341.4,570.6M377.4,583.1L365.6,605.8M347.1,563.5A186.5,186.5 0 0 0 377.4,583.1M349.2,689.2L338.3,715.3M353.0,690.7L342.3,717.0M349.2,689.2A294.6,294.6 0 0 0 353.0,690.7M375.8,552.3L361.8,574.0M402.0,566.0L351.1,689.9M375.8,552.3A160.7,160.7 0 0 0 402.0,566.0M357.2,690.9L346.4,718.6M360.9,692.3L350.6,720.2M357.2,690.9A293.3,293.3 0 0 0 360.9,692.3M365.8,673.9L359.0,691.6M371.0,675.8L354.7,721.7M365.8,673.9A274.3,274.3 0 0 0 371.0,675.8M393.5,550.3L388.6,559.8M411.3,558.2L368.4,674.9M393.5,550.3A150.0,150.0 0 0 0 411.3,558.2M432.6,486.0L402.3,554.5M461.3,492.4A75.0,75.0 0 0 1 432.6,486.0" stroke="#6495ED" stroke-width="2.3" fill="none" stroke-linecap="butt"/>
<path d="M370.7,688.5L358.9,723.2M374.5,689.7L363.2,724.6M370.7,688.5A286.3,286.3 0 0 0 374.5,689.7M378.4,671.6L372.6,689.1M383.8,673.3L367.5,726.0M378.4,671.6A267.9,267.9 0 0 0 383.8,673.3M385.1,696.4L376.1,728.5M389.0,697.4L380.5,729.7M385.1,696.4A289.6,289.6 0 0 0 389.0,697.4M386.7,676.6L371.8,727.3M392.2,678.1L387.1,696.9M386.7,676.6A270.2,270.2 0 0 0 392.2,678.1M391.3,705.1L384.9,730.8M395.3,706.1L389.2,731.9M391.3,705.1A296.5,296.5 0 0 0 395.3,706.1M401.3,697.9L393.6,732.9M405.3,698.7L398.1,733.8M401.3,697.9A287.2,287.2 0 0 0 405.3,698.7M401.0,673.6L393.3,705.6M408.2,675.2L403.3,698.3M401.0,673.6A263.6,263.6 0 0 0 408.2,675.2M409.1,700.1L402.5,734.7M413.0,700.8L406.9,735.5M409.1,700.1A287.8,287.8 0 0 0 413.0,700.8M409.8,651.5L404.6,674.4M419.7,653.6L411.0,700.5M409.8,651.5A240.1,240.1 0 0 0 419.7,653.6M417.0,701.7L411.4,736.2M420.9,702.3L415.8,736.9M417.0,701.7A288.0,288.0 0 0 0 420.9,702.3M418.8,632.5L414.7,652.6M429.4,634.4L418.9,702.0M418.8,632.5A219.6,219.6 0 0 0 429.4,634.4M425.2,700.9L420.3,737.6M429.1,701.4L424.8,738.1M425.2,700.9A286.0,286.0 0 0 0 429.1,701.4M430.3,675.9L427.2,701.2M435.8,676.5L429.2,738.6M430.3,675.9A260.6,260.6 0 0 0 435.8,676.5M428.5,609.4L424.1,633.5M440.6,611.2L433.1,676.2M428.5,609.4A195.1,195.1 0 0 0 440.6,611.2M437.1,701.7L433.7,739.1M441.1,702.0L438.2,739.4M437.1,701.7A285.4,285.4 0 0 0 441.1,702.0M437.8,588.3L434.5,610.4M448.5,589.6L439.1,701.8M437.8,588.3A172.8,172.8 0 0 0 448.5,589.6M419.9,569.6L389.4,677.4M444.8,574.5L443.1,589.0M419.9,569.6A158.2,158.2 0 0 0 444.8,574.5M422.3,544.0L381.1,672.5M437.2,547.9L432.3,572.5M422.3,544.0A133.0,133.0 0 0 0 437.2,547.9M721.9,534.0L757.5,550.1M723.6,530.3L759.4,545.8M721.9,534.0A284.0,284.0 0 0 0 723.6,530.3M728.6,527.9L761.2,541.4M730.2,524.0L763.0,537.1M728.6,527.9A287.7,287.7 0 0 0 730.2,524.0M691.6,518.4L722.8,532.2M694.5,511.7L729.4,525.9M691.6,518.4A249.9,249.9 0 0 0 694.5,511.7M669.3,514.0L755.5,554.3M672.7,506.4L693.1,515.1M669.3,514.0A227.8,227.8 0 0 0 672.7,506.4M645.6,498.9L671.1,510.2M649.8,488.8L764.7,532.7M645.6,498.9A200.0,200.0 0 0 0 649.8,488.8M439.2,509.4L429.7,546.2M455.7,512.1A95.0,95.0 0 0 1 439.2,509.4M603.5,475.5L647.8,493.9M605.9,469.3A152.0,152.0 0 0 1 603.5,475.5M570.1,456.3L605.9,469.3M565.1,468.2A114.0,114.0 0 0 0 570.1,456.3M548.9,460.2L565.1,468.2M533.4,482.7A96.0,96.0 0 0 0 548.9,460.2M457.2,492.2L455.7,512.1M490.3,487.3A75.0,75.0 0 0 1 457.2,492.2M518.0,468.4L533.4,482.7M490.3,487.3A75.0,75.0 0 0 0 518.0,468.4M461.3,492.4A75.0,75.0 0 0 0 490.3,487.3M461.8,473.4L461.3,492.4M423.4,457.0A56.0,56.0 0 0 0 461.8,473.4M436.8,443.5L423.4,457.0M427.9,405.7A37.0,37.0 0 0 0 436.8,443.5M446.4,411.9L427.9,405.7M454.8,401.9A17.5,17.5 0 0 0 446.4,411.9M463.0,417.4L454.8,401.9" stroke="#DDA0DD" stroke-width="2.3" fill="none" stroke-linecap="butt"/>
<path d="M448.3,718.9L447.2,740.0M452.5,719.1L451.7,740.2M448.3,718.9A301.8,301.8 0 0 0 452.5,719.1M451.5,691.3L450.4,719.0M457.3,691.4L456.2,740.3M451.5,691.3A274.1,274.1 0 0 0 457.3,691.4M460.9,714.5L460.7,740.4M465.1,714.5L465.3,740.4M460.9,714.5A297.1,297.1 0 0 0 465.1,714.5M454.9,676.0L454.4,691.4M463.0,676.1L463.0,714.5M454.9,676.0A258.7,258.7 0 0 0 463.0,676.1M447.7,659.8L442.7,739.8M459.2,660.3L458.9,676.1M447.7,659.8A242.9,242.9 0 0 0 459.2,660.3M469.3,719.5L469.8,740.3M473.5,719.3L474.3,740.2M469.3,719.5A302.1,302.1 0 0 0 473.5,719.3M482.0,719.4L483.3,739.8M486.2,719.1L487.8,739.4M482.0,719.4A302.6,302.6 0 0 0 486.2,719.1M476.3,690.4L478.8,740.0M482.1,690.0L484.1,719.3M476.3,690.4A273.3,273.3 0 0 0 482.1,690.0M470.0,669.5L471.4,719.4M478.0,669.1L479.2,690.2M470.0,669.5A252.2,252.2 0 0 0 478.0,669.1M454.2,642.3L453.5,660.1M472.8,642.2L474.0,669.3M454.2,642.3A225.0,225.0 0 0 0 472.8,642.2M489.4,707.9L492.3,739.1M493.5,707.5L496.8,738.6M489.4,707.9A291.7,291.7 0 0 0 493.5,707.5M498.1,711.4L501.2,738.1M502.2,710.9L505.7,737.6M498.1,711.4A296.1,296.1 0 0 0 502.2,710.9M497.9,693.7L500.1,711.2M503.7,692.9L510.2,736.9M497.9,693.7A278.5,278.5 0 0 0 503.7,692.9M497.8,671.6L500.8,693.3M504.0,670.6L514.6,736.2M497.8,671.6A256.5,256.5 0 0 0 504.0,670.6M514.3,708.3L519.1,735.5M518.4,707.6L523.5,734.7M514.3,708.3A295.4,295.4 0 0 0 518.4,707.6M498.9,657.5L500.9,671.1M506.8,656.2L516.3,707.9M498.9,657.5A242.8,242.8 0 0 0 506.8,656.2M484.2,633.8L491.5,707.7M498.7,631.9L502.9,656.9M484.2,633.8A217.4,217.4 0 0 0 498.7,631.9M526.9,707.8L532.4,732.9M530.9,706.9L536.8,731.9M526.9,707.8A297.4,297.4 0 0 0 530.9,706.9M535.7,709.2L541.1,730.8M539.8,708.1L545.5,729.7M535.7,709.2A300.7,300.7 0 0 0 539.8,708.1M530.5,680.2L537.8,708.6M536.0,678.7L549.9,728.5M530.5,680.2A271.3,271.3 0 0 0 536.0,678.7M528.8,663.1L533.2,679.5M534.8,661.4L554.2,727.3M528.8,663.1A254.4,254.4 0 0 0 534.8,661.4M515.6,649.1L528.9,707.4M527.3,646.1L531.8,662.3M515.6,649.1A237.6,237.6 0 0 0 527.3,646.1M551.0,701.6L558.5,726.0M554.9,700.4L562.8,724.6M551.0,701.6A297.5,297.5 0 0 0 554.9,700.4M545.3,676.8L553.0,701.0M550.7,675.0L567.1,723.2M545.3,676.8A272.1,272.1 0 0 0 550.7,675.0M517.0,630.0L521.5,647.7M531.5,625.7L548.0,675.9M517.0,630.0A219.3,219.3 0 0 0 531.5,625.7M518.1,606.8L524.3,628.0M529.2,603.2L571.4,721.7M518.1,606.8A197.3,197.3 0 0 0 529.2,603.2M499.3,594.5L527.9,733.8M518.6,589.4L523.7,605.1M499.3,594.5A180.8,180.8 0 0 0 518.6,589.4M484.9,583.3L491.5,633.0M505.6,579.2L509.0,592.2M484.9,583.3A167.3,167.3 0 0 0 505.6,579.2M463.3,570.4L463.5,642.4M492.6,567.5L495.3,581.5M463.3,570.4A153.0,153.0 0 0 0 492.6,567.5M472.3,511.9L478.0,569.7M455.7,512.1A95.0,95.0 0 0 0 472.3,511.9" stroke="#00EEEE" stroke-width="2.3" fill="none" stroke-linecap="butt"/>
<path d="M566.3,695.1L575.6,720.1M570.2,693.6L579.8,718.5M566.3,695.1A296.3,296.3 0 0 0 570.2,693.6M573.5,690.8L584.0,716.9M577.3,689.2L588.2,715.1M573.5,690.8A294.9,294.9 0 0 0 577.3,689.2M568.5,673.2L575.4,690.0M573.9,671.0L592.4,713.3M568.5,673.2A276.7,276.7 0 0 0 573.9,671.0M591.5,690.3L600.6,709.6M595.3,688.4L604.7,707.6M591.5,690.3A301.6,301.6 0 0 0 595.3,688.4M580.9,663.2L593.4,689.4M586.1,660.7L608.8,705.6M580.9,663.2A272.6,272.6 0 0 0 586.1,660.7M569.0,650.9L596.5,711.5M576.3,647.4L583.5,662.0M569.0,650.9A256.4,256.4 0 0 0 576.3,647.4M600.2,679.4L612.8,703.6M603.9,677.5L616.8,701.4M600.2,679.4A295.8,295.8 0 0 0 603.9,677.5M562.3,627.1L572.7,649.2M572.1,622.2L602.0,678.5M562.3,627.1A232.0,232.0 0 0 0 572.1,622.2M550.6,623.6L571.2,672.1M563.6,617.6L567.2,624.7M550.6,623.6A224.0,224.0 0 0 0 563.6,617.6M608.6,677.4L620.8,699.2M612.2,675.3L624.7,697.0M608.6,677.4A298.0,298.0 0 0 0 612.2,675.3M614.5,671.1L628.6,694.7M618.1,669.0L632.5,692.4M614.5,671.1A295.5,295.5 0 0 0 618.1,669.0M605.7,652.6L616.3,670.1M610.6,649.5L636.3,690.0M605.7,652.6A275.1,275.1 0 0 0 610.6,649.5M588.5,638.0L610.4,676.4M596.9,633.0L608.2,651.1M588.5,638.0A253.8,253.8 0 0 0 596.9,633.0M581.9,617.3L592.8,635.5M590.6,611.9L640.1,687.5M581.9,617.3A232.6,232.6 0 0 0 590.6,611.9M581.2,606.6L586.3,614.6M588.0,602.2L643.9,685.0M581.2,606.6A223.1,223.1 0 0 0 588.0,602.2M545.6,595.8L557.1,620.7M570.2,582.2L584.6,604.4M545.6,595.8A196.6,196.6 0 0 0 570.2,582.2M632.4,660.5L647.6,682.4M635.8,658.1L651.3,679.8M632.4,660.5A296.3,296.3 0 0 0 635.8,658.1M642.2,659.9L655.0,677.1M645.6,657.3L658.6,674.4M642.2,659.9A301.5,301.5 0 0 0 645.6,657.3M626.8,635.8L643.9,658.6M631.4,632.3L662.2,671.6M626.8,635.8A273.0,273.0 0 0 0 631.4,632.3M606.9,620.9L634.1,659.3M614.7,615.2L629.1,634.0M606.9,620.9A249.3,249.3 0 0 0 614.7,615.2M648.5,647.4L665.8,668.8M651.7,644.8L669.3,666.0M648.5,647.4A295.5,295.5 0 0 0 651.7,644.8M603.5,608.2L610.8,618.1M613.1,600.8L650.1,646.1M603.5,608.2A237.0,237.0 0 0 0 613.1,600.8M551.8,577.9L558.1,589.4M575.5,562.3L608.4,604.6M551.8,577.9A183.4,183.4 0 0 0 575.5,562.3M557.7,561.0L563.9,570.6M574.7,548.2L672.7,663.0M557.7,561.0A172.0,172.0 0 0 0 574.7,548.2M551.2,534.7L566.4,554.9M559.8,527.7L676.2,660.1M551.2,534.7A146.7,146.7 0 0 0 559.8,527.7M545.5,518.9L555.6,531.3M550.7,514.5L679.5,657.1M545.5,518.9A130.8,130.8 0 0 0 550.7,514.5M504.9,527.7L568.2,694.4M539.8,507.0L548.2,516.7M504.9,527.7A118.0,118.0 0 0 0 539.8,507.0M512.0,499.9L523.3,518.9M533.4,482.7A96.0,96.0 0 0 1 512.0,499.9" stroke="#0000CD" stroke-width="2.3" fill="none" stroke-linecap="butt"/>
<path d="M671.2,629.5L689.3,647.9M674.1,626.6L692.4,644.8M671.2,629.5A297.2,297.2 0 0 0 674.1,626.6M656.5,611.9L672.6,628.1M660.5,607.9L695.5,641.6M656.5,611.9A274.4,274.4 0 0 0 660.5,607.9M642.6,605.5L686.1,651.0M648.4,599.9L658.5,609.9M642.6,605.5A260.1,260.1 0 0 0 648.4,599.9M626.7,593.6L682.8,654.0M631.8,588.8L645.5,602.7M626.7,593.6A240.6,240.6 0 0 0 631.8,588.8M678.7,619.8L698.5,638.4M681.5,616.8L701.5,635.2M678.7,619.8A295.8,295.8 0 0 0 681.5,616.8M621.6,583.3L629.3,591.2M631.4,573.3L680.1,618.3M621.6,583.3A229.5,229.5 0 0 0 631.4,573.3M682.8,612.6L704.5,631.9M685.5,609.6L707.4,628.5M682.8,612.6A294.0,294.0 0 0 0 685.5,609.6M615.6,567.5L626.6,578.4M624.0,558.5L684.2,611.1M615.6,567.5A214.1,214.1 0 0 0 624.0,558.5M695.9,607.7L713.1,621.8M698.5,604.5L715.9,618.3M695.9,607.7A300.8,300.8 0 0 0 698.5,604.5M675.9,596.2L710.3,625.2M679.5,591.8L697.2,606.1M675.9,596.2A278.0,278.0 0 0 0 679.5,591.8M695.9,597.2L718.6,614.8M698.3,594.0L721.3,611.3M695.9,597.2A294.2,294.2 0 0 0 698.3,594.0M707.3,585.5L729.1,600.5M709.5,582.1L731.6,596.8M707.3,585.5A296.5,296.5 0 0 0 709.5,582.1M690.6,578.7L726.5,604.1M693.8,573.9L708.4,583.8M690.6,578.7A278.9,278.9 0 0 0 693.8,573.9M719.2,578.6L736.4,589.4M721.4,575.1L738.7,585.7M719.2,578.6A302.7,302.7 0 0 0 721.4,575.1M692.8,566.5L734.0,593.1M695.8,561.7L720.3,576.8M692.8,566.5A273.9,273.9 0 0 0 695.8,561.7M681.5,568.9L692.2,576.3M687.6,559.8L694.4,564.1M681.5,568.9A265.9,265.9 0 0 0 687.6,559.8M665.2,564.9L724.0,607.7M671.6,555.7L684.6,564.4M665.2,564.9A250.3,250.3 0 0 0 671.6,555.7M641.0,552.9L697.1,595.6M646.7,545.2L668.5,560.4M641.0,552.9A223.7,223.7 0 0 0 646.7,545.2M721.8,570.5L741.0,581.9M723.9,566.9L743.2,578.0M721.8,570.5A300.7,300.7 0 0 0 723.9,566.9M631.5,540.1L643.9,549.1M643.1,522.3L722.9,568.7M631.5,540.1A208.4,208.4 0 0 0 643.1,522.3M721.1,560.7L745.4,574.2M723.0,557.1L747.5,570.3M721.1,560.7A295.1,295.1 0 0 0 723.0,557.1M630.8,526.9L637.5,531.3M638.9,513.5L722.0,558.9M630.8,526.9A200.4,200.4 0 0 0 638.9,513.5M605.2,534.4L677.7,594.0M621.0,511.9L635.0,520.3M605.2,534.4A184.1,184.1 0 0 0 621.0,511.9M581.4,527.3L619.9,563.1M595.0,510.4L613.5,523.4M581.4,527.3A161.5,161.5 0 0 0 595.0,510.4M728.0,550.5L751.6,562.4M729.8,546.9L753.6,558.5M728.0,550.5A296.5,296.5 0 0 0 729.8,546.9M714.8,548.3L749.6,566.4M717.4,543.1L728.9,548.7M714.8,548.3A283.7,283.7 0 0 0 717.4,543.1M581.1,513.1L588.5,519.1M598.6,486.1L716.1,545.7M581.1,513.1A152.0,152.0 0 0 0 598.6,486.1M558.7,479.4L590.6,500.1M565.1,468.2A114.0,114.0 0 0 1 558.7,479.4" stroke="#CD3333" stroke-width="2.3" fill="none" stroke-linecap="butt"/>
<path d="M750.9,513.9L769.3,520.0M752.2,509.9L770.6,515.8M750.9,513.9A303.6,303.6 0 0 0 752.2,509.9M759.9,507.9L772.0,511.6M761.1,503.8L773.2,507.3M759.9,507.9A310.3,310.3 0 0 0 761.1,503.8M750.9,503.0L760.5,505.8M752.6,497.0L774.4,503.0M750.9,503.0A300.3,300.3 0 0 0 752.6,497.0M764.9,487.2L777.7,490.1M765.9,483.0L778.7,485.8M764.9,487.2A309.9,309.9 0 0 0 765.9,483.0M752.7,488.5L776.7,494.4M754.1,482.6L765.4,485.1M752.7,488.5A298.3,298.3 0 0 0 754.1,482.6M741.7,489.9L775.6,498.7M743.4,483.2L753.4,485.6M741.7,489.9A288.0,288.0 0 0 0 743.4,483.2M765.6,474.3L780.4,477.1M766.4,470.1L781.2,472.7M765.6,474.3A307.9,307.9 0 0 0 766.4,470.1M753.5,469.9L766.0,472.2M754.6,463.9L782.0,468.3M753.5,469.9A295.2,295.2 0 0 0 754.6,463.9M741.5,464.8L754.1,466.9M742.5,458.1L782.6,463.9M741.5,464.8A282.5,282.5 0 0 0 742.5,458.1M775.3,458.5L783.2,459.5M775.8,454.2L783.8,455.1M775.3,458.5A315.0,315.0 0 0 0 775.8,454.2M734.1,460.2L742.0,461.4M735.4,451.3L775.6,456.3M734.1,460.2A274.5,274.5 0 0 0 735.4,451.3M723.4,470.1L779.6,481.4M726.1,454.5L734.8,455.8M723.4,470.1A265.7,265.7 0 0 0 726.1,454.5M712.2,479.1L742.6,486.6M716.1,460.8L724.9,462.3M712.2,479.1A256.8,256.8 0 0 0 716.1,460.8M771.3,445.0L784.7,446.3M771.6,440.8L785.1,441.8M771.3,445.0A309.5,309.5 0 0 0 771.6,440.8M761.9,448.4L784.3,450.7M762.5,442.2L771.5,442.9M761.9,448.4A300.5,300.5 0 0 0 762.5,442.2M706.5,468.3L714.3,470.0M710.7,440.5L762.2,445.3M706.5,468.3A248.8,248.8 0 0 0 710.7,440.5M692.5,483.1L751.8,500.0M699.0,453.0L709.0,454.5M692.5,483.1A238.7,238.7 0 0 0 699.0,453.0M770.8,436.5L785.4,437.4M771.1,432.2L785.6,433.0M770.8,436.5A308.4,308.4 0 0 0 771.1,432.2M688.4,466.4L696.2,468.1M693.3,430.1L771.0,434.4M688.4,466.4A230.7,230.7 0 0 0 693.3,430.1M774.0,428.1L785.8,428.5M774.1,423.8L785.9,424.1M774.0,428.1A311.2,311.2 0 0 0 774.1,423.8M683.7,447.3L691.6,448.4M685.6,423.5L774.0,426.0M683.7,447.3A222.7,222.7 0 0 0 685.6,423.5M677.0,434.8L684.9,435.4M677.7,418.9L786.0,419.6M677.0,434.8A214.7,214.7 0 0 0 677.7,418.9M659.4,481.7L751.5,511.9M669.5,426.5L677.5,426.8M659.4,481.7A206.7,206.7 0 0 0 669.5,426.5M649.5,482.8L767.8,524.2M657.4,452.8L666.3,454.4M649.5,482.8A197.6,197.6 0 0 0 657.4,452.8M641.1,482.6L766.3,528.4M646.3,465.9L654.0,468.0M641.1,482.6A189.6,189.6 0 0 0 646.3,465.9M608.0,463.0L643.9,474.3M605.9,469.3A152.0,152.0 0 0 0 608.0,463.0" stroke="#A020F0" stroke-width="2.3" fill="none" stroke-linecap="butt"/>
<line x1="463.0" y1="417.4" x2="780.2" y2="356.3" stroke="#000" stroke-width="2.6"/>
<g font-size="6.5" fill="#000" stroke="#000" stroke-width="0.4" dominant-baseline="central"><text transform="translate(781.9,349.6) rotate(-12.0)">RH-17</text><text transform="translate(780.9,345.1) rotate(-12.8)">HS-14</text><text transform="translate(779.8,340.7) rotate(-13.6)">HZP-10</text><text transform="translate(778.7,336.3) rotate(-14.4)">LY-24</text><text transform="translate(777.6,331.8) rotate(-15.2)">YF-12</text><text transform="translate(776.3,327.4) rotate(-16.0)">JZ-20</text><text transform="translate(775.0,323.1) rotate(-16.8)">JZ-25</text><text transform="translate(773.7,318.7) rotate(-17.6)">DA-15</text><text transform="translate(772.3,314.3) rotate(-18.4)">DA-22</text><text transform="translate(770.8,310.0) rotate(-19.2)">XA-2</text><text transform="translate(769.3,305.7) rotate(-20.0)">RH-9</text><text transform="translate(767.7,301.4) rotate(-20.8)">JZ-27</text><text transform="translate(766.0,297.2) rotate(-21.6)">YA-5</text><text transform="translate(764.3,292.9) rotate(-22.4)">AJ-2</text><text transform="translate(762.5,288.7) rotate(-23.2)">YX-1</text><text transform="translate(760.7,284.5) rotate(-24.1)">LY-25</text><text transform="translate(758.8,280.4) rotate(-24.9)">LY-4</text><text transform="translate(756.8,276.2) rotate(-25.7)">WYS-15</text><text transform="translate(754.8,272.1) rotate(-26.5)">RH-15</text><text transform="translate(752.8,268.0) rotate(-27.3)">RH-26</text><text transform="translate(750.7,264.0) rotate(-28.1)">YX-16</text><text transform="translate(748.5,260.0) rotate(-28.9)">XN-17</text><text transform="translate(746.2,256.0) rotate(-29.7)">YF-1</text><text transform="translate(743.9,252.0) rotate(-30.5)">DA-26</text><text transform="translate(741.6,248.1) rotate(-31.3)">XA-25</text><text transform="translate(739.2,244.2) rotate(-32.1)">HZP-20</text><text transform="translate(736.7,240.4) rotate(-32.9)">YX-27</text><text transform="translate(734.2,236.5) rotate(-33.7)">HZP-20</text><text transform="translate(731.7,232.8) rotate(-34.5)">HZP-23</text><text transform="translate(729.1,229.0) rotate(-35.3)">RH-28</text><text transform="translate(726.5,225.4) rotate(-36.1)">CY-20</text><text transform="translate(723.8,221.8) rotate(-36.9)">LY-1</text><text transform="translate(721.0,218.2) rotate(-37.7)">CS-29</text><text transform="translate(718.3,214.6) rotate(-38.5)">YX-17</text><text transform="translate(715.5,211.1) rotate(-39.2)">LY-3</text><text transform="translate(712.6,207.7) rotate(-40.0)">XA-11</text><text transform="translate(709.7,204.2) rotate(-40.8)">LY-4</text><text transform="translate(706.7,200.9) rotate(-41.6)">JZ-12</text><text transform="translate(703.7,197.5) rotate(-42.4)">RH-3</text><text transform="translate(700.6,194.2) rotate(-43.2)">WYS-8</text><text transform="translate(697.5,191.0) rotate(-44.0)">AJ-1</text><text transform="translate(694.4,187.7) rotate(-44.8)">YA-14</text><text transform="translate(691.2,184.6) rotate(-45.6)">YA-10</text><text transform="translate(687.9,181.4) rotate(-46.4)">LY-24</text><text transform="translate(684.7,178.4) rotate(-47.2)">CY-13</text><text transform="translate(681.3,175.3) rotate(-48.0)">AJ-6</text><text transform="translate(678.0,172.3) rotate(-48.7)">DA-4</text><text transform="translate(674.6,169.4) rotate(-49.5)">RH-13</text><text transform="translate(671.1,166.5) rotate(-50.3)">XA-7</text><text transform="translate(667.7,163.6) rotate(-51.1)">LY-5</text><text transform="translate(664.1,160.8) rotate(-51.9)">AJ-29</text><text transform="translate(660.6,158.1) rotate(-52.7)">YX-5</text><text transform="translate(657.0,155.4) rotate(-53.5)">AJ-1</text><text transform="translate(653.3,152.7) rotate(-54.3)">XN-15</text><text transform="translate(649.7,150.1) rotate(-55.1)">JZ-25</text><text transform="translate(646.0,147.6) rotate(-55.9)">LY-23</text><text transform="translate(642.2,145.1) rotate(-56.7)">XA-28</text><text transform="translate(638.4,142.6) rotate(-57.4)">CY-22</text><text transform="translate(634.6,140.2) rotate(-58.2)">XN-25</text><text transform="translate(630.8,137.9) rotate(-59.0)">YF-28</text><text transform="translate(626.9,135.6) rotate(-59.8)">LY-30</text><text transform="translate(623.0,133.4) rotate(-60.6)">AJ-26</text><text transform="translate(619.1,131.2) rotate(-61.4)">CY-14</text><text transform="translate(615.1,129.1) rotate(-62.2)">CY-22</text><text transform="translate(611.2,127.0) rotate(-63.0)">RH-22</text><text transform="translate(607.2,125.0) rotate(-63.8)">JZ-29</text><text transform="translate(603.2,123.1) rotate(-64.5)">CY-23</text><text transform="translate(599.1,121.2) rotate(-65.3)">XA-15</text><text transform="translate(595.0,119.3) rotate(-66.1)">XA-7</text><text transform="translate(590.9,117.5) rotate(-66.9)">LY-11</text><text transform="translate(586.8,115.8) rotate(-67.7)">HZP-9</text><text transform="translate(582.6,114.1) rotate(-68.5)">XA-22</text><text transform="translate(578.5,112.5) rotate(-69.3)">CY-25</text><text transform="translate(574.3,111.0) rotate(-70.0)">YA-7</text><text transform="translate(570.1,109.5) rotate(-70.8)">CY-18</text><text transform="translate(565.8,108.0) rotate(-71.6)">CY-6</text><text transform="translate(561.6,106.7) rotate(-72.4)">HS-21</text><text transform="translate(557.3,105.3) rotate(-73.2)">YF-23</text><text transform="translate(553.0,104.1) rotate(-74.0)">HZP-14</text><text transform="translate(548.7,102.9) rotate(-74.8)">HS-27</text><text transform="translate(544.4,101.7) rotate(-75.5)">WYS-21</text><text transform="translate(540.0,100.6) rotate(-76.3)">XN-6</text><text transform="translate(535.7,99.6) rotate(-77.1)">YA-18</text><text transform="translate(531.3,98.6) rotate(-77.9)">WYS-23</text><text transform="translate(526.9,97.7) rotate(-78.7)">AJ-4</text><text transform="translate(522.5,96.9) rotate(-79.5)">XA-1</text><text transform="translate(518.1,96.1) rotate(-80.3)">XA-18</text><text transform="translate(513.7,95.4) rotate(-81.0)">YX-27</text><text transform="translate(509.3,94.7) rotate(-81.8)">CY-29</text><text transform="translate(504.9,94.1) rotate(-82.6)">HS-24</text><text transform="translate(500.4,93.6) rotate(-83.4)">RH-29</text><text transform="translate(495.9,93.1) rotate(-84.2)">YF-16</text><text transform="translate(491.4,92.6) rotate(-85.0)">WYS-12</text><text transform="translate(486.9,92.3) rotate(-85.8)">YA-2</text><text transform="translate(482.3,92.0) rotate(-86.6)">XA-20</text><text transform="translate(477.8,91.7) rotate(-87.4)">HS-25</text><text transform="translate(473.2,91.6) rotate(-88.2)">RH-16</text><text transform="translate(468.7,91.4) rotate(-89.0)">XN-26</text><text transform="translate(464.1,91.4) rotate(-89.8)">HZP-15</text><text transform="translate(459.6,91.4) rotate(89.4)" text-anchor="end">RH-30</text><text transform="translate(455.0,91.5) rotate(88.6)" text-anchor="end">HS-20</text><text transform="translate(450.5,91.6) rotate(87.8)" text-anchor="end">JZ-14</text><text transform="translate(445.9,91.8) rotate(87.0)" text-anchor="end">WYS-13</text><text transform="translate(441.4,92.1) rotate(86.2)" text-anchor="end">AJ-18</text><text transform="translate(436.9,92.5) rotate(85.4)" text-anchor="end">YX-27</text><text transform="translate(432.3,92.8) rotate(84.6)" text-anchor="end">YA-8</text><text transform="translate(427.8,93.3) rotate(83.8)" text-anchor="end">YX-10</text><text transform="translate(423.3,93.8) rotate(83.0)" text-anchor="end">YF-27</text><text transform="translate(418.8,94.4) rotate(82.2)" text-anchor="end">JZ-3</text><text transform="translate(414.3,95.1) rotate(81.4)" text-anchor="end">DA-18</text><text transform="translate(409.8,95.8) rotate(80.6)" text-anchor="end">YX-8</text><text transform="translate(405.3,96.6) rotate(79.8)" text-anchor="end">YF-22</text><text transform="translate(400.8,97.4) rotate(79.0)" text-anchor="end">CS-20</text><text transform="translate(396.3,98.3) rotate(78.2)" text-anchor="end">HS-4</text><text transform="translate(391.9,99.3) rotate(77.4)" text-anchor="end">YF-24</text><text transform="translate(387.5,100.3) rotate(76.6)" text-anchor="end">HS-14</text><text transform="translate(383.0,101.4) rotate(75.8)" text-anchor="end">WYS-11</text><text transform="translate(378.6,102.5) rotate(75.0)" text-anchor="end">HS-28</text><text transform="translate(374.3,103.7) rotate(74.2)" text-anchor="end">DA-25</text><text transform="translate(370.0,104.9) rotate(73.4)" text-anchor="end">YA-10</text><text transform="translate(365.8,106.2) rotate(72.7)" text-anchor="end">CS-22</text><text transform="translate(361.6,107.6) rotate(71.9)" text-anchor="end">DA-4</text><text transform="translate(357.4,109.0) rotate(71.1)" text-anchor="end">RH-17</text><text transform="translate(353.2,110.4) rotate(70.3)" text-anchor="end">RH-3</text><text transform="translate(349.1,112.0) rotate(69.5)" text-anchor="end">DA-21</text><text transform="translate(344.9,113.5) rotate(68.8)" text-anchor="end">CY-30</text><text transform="translate(340.8,115.2) rotate(68.0)" text-anchor="end">CS-21</text><text transform="translate(336.7,116.9) rotate(67.2)" text-anchor="end">YF-2</text><text transform="translate(332.6,118.6) rotate(66.4)" text-anchor="end">YX-17</text><text transform="translate(328.6,120.4) rotate(65.7)" text-anchor="end">RH-16</text><text transform="translate(324.6,122.2) rotate(64.9)" text-anchor="end">LY-15</text><text transform="translate(320.6,124.2) rotate(64.1)" text-anchor="end">XN-5</text><text transform="translate(316.6,126.1) rotate(63.3)" text-anchor="end">AJ-9</text><text transform="translate(312.7,128.1) rotate(62.5)" text-anchor="end">HZP-15</text><text transform="translate(308.8,130.2) rotate(61.8)" text-anchor="end">HZP-3</text><text transform="translate(304.9,132.3) rotate(61.0)" text-anchor="end">CS-17</text><text transform="translate(301.0,134.5) rotate(60.2)" text-anchor="end">LY-29</text><text transform="translate(297.2,136.7) rotate(59.4)" text-anchor="end">XN-27</text><text transform="translate(293.4,139.0) rotate(58.6)" text-anchor="end">YF-19</text><text transform="translate(289.6,141.3) rotate(57.9)" text-anchor="end">XN-3</text><text transform="translate(285.9,143.7) rotate(57.1)" text-anchor="end">RH-13</text><text transform="translate(282.2,146.1) rotate(56.3)" text-anchor="end">XN-14</text><text transform="translate(278.5,148.6) rotate(55.5)" text-anchor="end">YF-6</text><text transform="translate(274.9,151.1) rotate(54.8)" text-anchor="end">HS-21</text><text transform="translate(271.3,153.7) rotate(54.0)" text-anchor="end">AJ-3</text><text transform="translate(267.7,156.4) rotate(53.2)" text-anchor="end">HS-28</text><text transform="translate(264.2,159.0) rotate(52.4)" text-anchor="end">LY-12</text><text transform="translate(260.7,161.8) rotate(51.6)" text-anchor="end">CS-4</text><text transform="translate(257.3,164.5) rotate(50.9)" text-anchor="end">YX-11</text><text transform="translate(253.8,167.3) rotate(50.1)" text-anchor="end">YF-27</text><text transform="translate(250.4,170.2) rotate(49.3)" text-anchor="end">CY-16</text><text transform="translate(247.0,173.2) rotate(48.5)" text-anchor="end">HS-2</text><text transform="translate(243.7,176.2) rotate(47.7)" text-anchor="end">CS-15</text><text transform="translate(240.3,179.3) rotate(46.9)" text-anchor="end">XA-28</text><text transform="translate(237.1,182.4) rotate(46.1)" text-anchor="end">RH-2</text><text transform="translate(233.8,185.5) rotate(45.3)" text-anchor="end">HZP-8</text><text transform="translate(230.6,188.7) rotate(44.5)" text-anchor="end">RH-10</text><text transform="translate(227.5,192.0) rotate(43.7)" text-anchor="end">XN-9</text><text transform="translate(224.4,195.3) rotate(43.0)" text-anchor="end">YX-27</text><text transform="translate(221.3,198.6) rotate(42.2)" text-anchor="end">RH-17</text><text transform="translate(218.3,202.0) rotate(41.4)" text-anchor="end">JZ-12</text><text transform="translate(215.4,205.4) rotate(40.6)" text-anchor="end">JZ-17</text><text transform="translate(212.5,208.8) rotate(39.8)" text-anchor="end">YF-28</text><text transform="translate(209.6,212.3) rotate(39.0)" text-anchor="end">JZ-19</text><text transform="translate(206.8,215.8) rotate(38.2)" text-anchor="end">RH-15</text><text transform="translate(204.0,219.4) rotate(37.4)" text-anchor="end">AJ-22</text><text transform="translate(201.3,223.0) rotate(36.6)" text-anchor="end">LY-20</text><text transform="translate(198.6,226.7) rotate(35.8)" text-anchor="end">XA-13</text><text transform="translate(196.0,230.3) rotate(35.0)" text-anchor="end">RH-14</text><text transform="translate(193.4,234.1) rotate(34.2)" text-anchor="end">YF-5</text><text transform="translate(190.9,237.8) rotate(33.4)" text-anchor="end">YF-15</text><text transform="translate(188.5,241.6) rotate(32.6)" text-anchor="end">HS-29</text><text transform="translate(186.1,245.4) rotate(31.8)" text-anchor="end">YA-10</text><text transform="translate(183.7,249.3) rotate(31.0)" text-anchor="end">DA-12</text><text transform="translate(181.4,253.2) rotate(30.3)" text-anchor="end">AJ-20</text><text transform="translate(179.2,257.1) rotate(29.5)" text-anchor="end">HZP-4</text><text transform="translate(177.0,261.0) rotate(28.7)" text-anchor="end">WYS-1</text><text transform="translate(174.8,265.0) rotate(27.9)" text-anchor="end">YX-5</text><text transform="translate(172.7,269.0) rotate(27.1)" text-anchor="end">XA-10</text><text transform="translate(170.7,273.0) rotate(26.3)" text-anchor="end">YA-19</text><text transform="translate(168.7,277.1) rotate(25.5)" text-anchor="end">YF-19</text><text transform="translate(166.8,281.2) rotate(24.7)" text-anchor="end">DA-23</text><text transform="translate(165.0,285.3) rotate(23.9)" text-anchor="end">RH-2</text><text transform="translate(163.2,289.4) rotate(23.1)" text-anchor="end">YF-30</text><text transform="translate(161.4,293.6) rotate(22.3)" text-anchor="end">YF-10</text><text transform="translate(159.7,297.8) rotate(21.5)" text-anchor="end">CS-10</text><text transform="translate(158.1,302.0) rotate(20.7)" text-anchor="end">XN-14</text><text transform="translate(156.5,306.2) rotate(19.9)" text-anchor="end">CS-8</text><text transform="translate(155.0,310.5) rotate(19.1)" text-anchor="end">YA-14</text><text transform="translate(153.6,314.8) rotate(18.4)" text-anchor="end">YX-10</text><text transform="translate(152.2,319.1) rotate(17.6)" text-anchor="end">WYS-23</text><text transform="translate(150.9,323.4) rotate(16.8)" text-anchor="end">HS-17</text><text transform="translate(149.6,327.7) rotate(16.0)" text-anchor="end">XA-17</text><text transform="translate(148.4,332.1) rotate(15.2)" text-anchor="end">HZP-28</text><text transform="translate(147.2,336.4) rotate(14.4)" text-anchor="end">AJ-27</text><text transform="translate(146.1,340.8) rotate(13.6)" text-anchor="end">YX-20</text><text transform="translate(145.1,345.2) rotate(12.8)" text-anchor="end">YX-28</text><text transform="translate(144.1,349.6) rotate(12.0)" text-anchor="end">YA-6</text><text transform="translate(143.2,354.0) rotate(11.2)" text-anchor="end">HS-16</text><text transform="translate(142.4,358.5) rotate(10.4)" text-anchor="end">HS-28</text><text transform="translate(141.6,362.9) rotate(9.6)" text-anchor="end">HZP-3</text><text transform="translate(140.9,367.4) rotate(8.8)" text-anchor="end">YF-15</text><text transform="translate(140.2,371.8) rotate(8.0)" text-anchor="end">RH-9</text><text transform="translate(139.6,376.3) rotate(7.2)" text-anchor="end">HS-30</text><text transform="translate(139.1,380.8) rotate(6.4)" text-anchor="end">DA-11</text><text transform="translate(138.6,385.3) rotate(5.7)" text-anchor="end">CS-4</text><text transform="translate(138.2,389.8) rotate(4.9)" text-anchor="end">AJ-13</text><text transform="translate(137.8,394.3) rotate(4.1)" text-anchor="end">CY-15</text><text transform="translate(137.5,398.8) rotate(3.3)" text-anchor="end">XN-5</text><text transform="translate(137.3,403.3) rotate(2.5)" text-anchor="end">WYS-24</text><text transform="translate(137.1,407.8) rotate(1.7)" text-anchor="end">DA-24</text><text transform="translate(137.0,412.3) rotate(0.9)" text-anchor="end">JZ-15</text><text transform="translate(137.0,416.8) rotate(0.1)" text-anchor="end">HS-9</text><text transform="translate(137.0,421.3) rotate(-0.7)" text-anchor="end">WYS-6</text><text transform="translate(137.1,425.8) rotate(-1.5)" text-anchor="end">AJ-1</text><text transform="translate(137.3,430.3) rotate(-2.3)" text-anchor="end">RH-22</text><text transform="translate(137.5,434.7) rotate(-3.0)" text-anchor="end">AJ-11</text><text transform="translate(137.7,439.2) rotate(-3.8)" text-anchor="end">XN-7</text><text transform="translate(138.1,443.7) rotate(-4.6)" text-anchor="end">HZP-5</text><text transform="translate(138.5,448.2) rotate(-5.4)" text-anchor="end">AJ-30</text><text transform="translate(138.9,452.6) rotate(-6.2)" text-anchor="end">HZP-17</text><text transform="translate(139.4,457.1) rotate(-7.0)" text-anchor="end">YX-4</text><text transform="translate(140.0,461.5) rotate(-7.8)" text-anchor="end">XN-13</text><text transform="translate(140.6,466.0) rotate(-8.6)" text-anchor="end">YA-7</text><text transform="translate(141.3,470.4) rotate(-9.4)" text-anchor="end">CY-7</text><text transform="translate(142.1,474.8) rotate(-10.1)" text-anchor="end">CS-13</text><text transform="translate(142.9,479.2) rotate(-10.9)" text-anchor="end">LY-23</text><text transform="translate(143.8,483.6) rotate(-11.7)" text-anchor="end">YX-29</text><text transform="translate(144.7,488.0) rotate(-12.5)" text-anchor="end">HZP-22</text><text transform="translate(145.7,492.4) rotate(-13.3)" text-anchor="end">JZ-1</text><text transform="translate(146.8,496.7) rotate(-14.1)" text-anchor="end">RH-4</text><text transform="translate(147.9,501.1) rotate(-14.9)" text-anchor="end">DA-18</text><text transform="translate(149.1,505.4) rotate(-15.7)" text-anchor="end">XN-4</text><text transform="translate(150.3,509.7) rotate(-16.5)" text-anchor="end">HS-11</text><text transform="translate(151.6,514.0) rotate(-17.2)" text-anchor="end">HZP-12</text><text transform="translate(153.0,518.3) rotate(-18.0)" text-anchor="end">WYS-28</text><text transform="translate(154.4,522.6) rotate(-18.8)" text-anchor="end">RH-1</text><text transform="translate(155.9,526.8) rotate(-19.6)" text-anchor="end">YA-7</text><text transform="translate(157.4,531.0) rotate(-20.4)" text-anchor="end">YX-2</text><text transform="translate(159.0,535.1) rotate(-21.2)" text-anchor="end">XN-16</text><text transform="translate(160.6,539.3) rotate(-22.0)" text-anchor="end">JZ-7</text><text transform="translate(162.3,543.4) rotate(-22.7)" text-anchor="end">YA-30</text><text transform="translate(164.1,547.5) rotate(-23.5)" text-anchor="end">LY-11</text><text transform="translate(165.9,551.6) rotate(-24.3)" text-anchor="end">DA-11</text><text transform="translate(167.7,555.6) rotate(-25.1)" text-anchor="end">LY-12</text><text transform="translate(169.7,559.6) rotate(-25.9)" text-anchor="end">YX-1</text><text transform="translate(171.6,563.6) rotate(-26.6)" text-anchor="end">YA-23</text><text transform="translate(173.6,567.6) rotate(-27.4)" text-anchor="end">YF-25</text><text transform="translate(175.7,571.5) rotate(-28.2)" text-anchor="end">LY-4</text><text transform="translate(177.8,575.4) rotate(-29.0)" text-anchor="end">XA-10</text><text transform="translate(180.0,579.3) rotate(-29.8)" text-anchor="end">YF-8</text><text transform="translate(182.3,583.1) rotate(-30.6)" text-anchor="end">RH-3</text><text transform="translate(184.6,586.9) rotate(-31.3)" text-anchor="end">CS-4</text><text transform="translate(186.9,590.7) rotate(-32.1)" text-anchor="end">DA-29</text><text transform="translate(189.3,594.5) rotate(-32.9)" text-anchor="end">XA-19</text><text transform="translate(191.7,598.2) rotate(-33.7)" text-anchor="end">RH-30</text><text transform="translate(194.2,601.9) rotate(-34.5)" text-anchor="end">CY-12</text><text transform="translate(196.8,605.5) rotate(-35.2)" text-anchor="end">DA-11</text><text transform="translate(199.4,609.1) rotate(-36.0)" text-anchor="end">XN-14</text><text transform="translate(202.0,612.7) rotate(-36.8)" text-anchor="end">WYS-25</text><text transform="translate(204.7,616.3) rotate(-37.6)" text-anchor="end">XN-10</text><text transform="translate(207.4,619.8) rotate(-38.4)" text-anchor="end">YF-13</text><text transform="translate(210.2,623.2) rotate(-39.2)" text-anchor="end">WYS-8</text><text transform="translate(213.0,626.7) rotate(-39.9)" text-anchor="end">XA-16</text><text transform="translate(215.9,630.1) rotate(-40.7)" text-anchor="end">CY-1</text><text transform="translate(218.8,633.4) rotate(-41.5)" text-anchor="end">DA-10</text><text transform="translate(221.8,636.7) rotate(-42.3)" text-anchor="end">YX-28</text><text transform="translate(224.8,640.0) rotate(-43.1)" text-anchor="end">LY-28</text><text transform="translate(227.9,643.2) rotate(-43.8)" text-anchor="end">YA-24</text><text transform="translate(231.0,646.4) rotate(-44.6)" text-anchor="end">XA-24</text><text transform="translate(234.1,649.6) rotate(-45.4)" text-anchor="end">DA-30</text><text transform="translate(237.3,652.7) rotate(-46.2)" text-anchor="end">JZ-7</text><text transform="translate(240.6,655.7) rotate(-47.0)" text-anchor="end">AJ-22</text><text transform="translate(243.8,658.7) rotate(-47.8)" text-anchor="end">HZP-4</text><text transform="translate(247.1,661.7) rotate(-48.5)" text-anchor="end">XN-16</text><text transform="translate(250.5,664.6) rotate(-49.3)" text-anchor="end">YA-23</text><text transform="translate(253.9,667.5) rotate(-50.1)" text-anchor="end">XN-1</text><text transform="translate(257.3,670.3) rotate(-50.9)" text-anchor="end">YX-5</text><text transform="translate(260.8,673.1) rotate(-51.7)" text-anchor="end">YF-24</text><text transform="translate(264.3,675.8) rotate(-52.4)" text-anchor="end">YF-30</text><text transform="translate(267.8,678.5) rotate(-53.2)" text-anchor="end">LY-11</text><text transform="translate(271.4,681.1) rotate(-54.0)" text-anchor="end">HS-8</text><text transform="translate(275.0,683.7) rotate(-54.8)" text-anchor="end">HZP-16</text><text transform="translate(278.7,686.3) rotate(-55.6)" text-anchor="end">YA-27</text><text transform="translate(282.3,688.8) rotate(-56.3)" text-anchor="end">XA-24</text><text transform="translate(286.1,691.2) rotate(-57.1)" text-anchor="end">YA-19</text><text transform="translate(289.8,693.6) rotate(-57.9)" text-anchor="end">HS-17</text><text transform="translate(293.6,695.9) rotate(-58.7)" text-anchor="end">AJ-12</text><text transform="translate(297.4,698.2) rotate(-59.5)" text-anchor="end">HS-9</text><text transform="translate(301.2,700.4) rotate(-60.3)" text-anchor="end">CS-7</text><text transform="translate(305.1,702.6) rotate(-61.0)" text-anchor="end">CY-27</text><text transform="translate(309.0,704.7) rotate(-61.8)" text-anchor="end">DA-19</text><text transform="translate(313.0,706.8) rotate(-62.6)" text-anchor="end">XN-15</text><text transform="translate(316.9,708.8) rotate(-63.4)" text-anchor="end">WYS-22</text><text transform="translate(320.9,710.8) rotate(-64.2)" text-anchor="end">YA-19</text><text transform="translate(324.9,712.7) rotate(-64.9)" text-anchor="end">HZP-7</text><text transform="translate(329.0,714.6) rotate(-65.7)" text-anchor="end">LY-30</text><text transform="translate(333.0,716.4) rotate(-66.5)" text-anchor="end">YA-19</text><text transform="translate(337.1,718.1) rotate(-67.3)" text-anchor="end">XN-3</text><text transform="translate(341.2,719.8) rotate(-68.1)" text-anchor="end">LY-8</text><text transform="translate(345.4,721.4) rotate(-68.8)" text-anchor="end">LY-13</text><text transform="translate(349.5,723.0) rotate(-69.6)" text-anchor="end">CS-21</text><text transform="translate(353.7,724.5) rotate(-70.4)" text-anchor="end">HZP-7</text><text transform="translate(357.9,726.0) rotate(-71.2)" text-anchor="end">XN-27</text><text transform="translate(362.3,727.4) rotate(-72.0)" text-anchor="end">XA-5</text><text transform="translate(366.6,728.8) rotate(-72.8)" text-anchor="end">LY-25</text><text transform="translate(371.0,730.1) rotate(-73.6)" text-anchor="end">RH-6</text><text transform="translate(375.3,731.4) rotate(-74.4)" text-anchor="end">YF-20</text><text transform="translate(379.7,732.6) rotate(-75.2)" text-anchor="end">HZP-20</text><text transform="translate(384.1,733.7) rotate(-76.0)" text-anchor="end">XA-27</text><text transform="translate(388.6,734.8) rotate(-76.8)" text-anchor="end">XA-20</text><text transform="translate(393.0,735.8) rotate(-77.6)" text-anchor="end">YX-8</text><text transform="translate(397.4,736.7) rotate(-78.4)" text-anchor="end">CY-15</text><text transform="translate(401.9,737.6) rotate(-79.2)" text-anchor="end">CS-10</text><text transform="translate(406.4,738.4) rotate(-80.0)" text-anchor="end">XA-9</text><text transform="translate(410.9,739.2) rotate(-80.8)" text-anchor="end">YF-20</text><text transform="translate(415.4,739.9) rotate(-81.6)" text-anchor="end">WYS-19</text><text transform="translate(419.9,740.5) rotate(-82.4)" text-anchor="end">YX-26</text><text transform="translate(424.4,741.1) rotate(-83.2)" text-anchor="end">JZ-21</text><text transform="translate(428.9,741.6) rotate(-84.0)" text-anchor="end">YF-22</text><text transform="translate(433.5,742.1) rotate(-84.8)" text-anchor="end">XA-21</text><text transform="translate(438.0,742.4) rotate(-85.6)" text-anchor="end">HS-19</text><text transform="translate(442.5,742.8) rotate(-86.4)" text-anchor="end">YX-17</text><text transform="translate(447.1,743.0) rotate(-87.2)" text-anchor="end">CY-1</text><text transform="translate(451.6,743.2) rotate(-88.0)" text-anchor="end">XN-1</text><text transform="translate(456.2,743.3) rotate(-88.8)" text-anchor="end">JZ-6</text><text transform="translate(460.7,743.4) rotate(-89.6)" text-anchor="end">HZP-6</text><text transform="translate(465.3,743.4) rotate(-270.4)">CS-26</text><text transform="translate(469.8,743.3) rotate(-271.2)">XN-13</text><text transform="translate(474.4,743.2) rotate(-272.0)">XN-27</text><text transform="translate(478.9,743.0) rotate(-272.8)">YX-28</text><text transform="translate(483.5,742.8) rotate(-273.6)">HZP-20</text><text transform="translate(488.0,742.4) rotate(-274.4)">CS-11</text><text transform="translate(492.5,742.1) rotate(-275.2)">WYS-7</text><text transform="translate(497.1,741.6) rotate(-276.0)">YX-18</text><text transform="translate(501.6,741.1) rotate(-276.8)">JZ-21</text><text transform="translate(506.1,740.5) rotate(-277.6)">LY-24</text><text transform="translate(510.6,739.9) rotate(-278.4)">YF-20</text><text transform="translate(515.1,739.2) rotate(-279.2)">RH-27</text><text transform="translate(519.6,738.4) rotate(-280.0)">YA-30</text><text transform="translate(524.1,737.6) rotate(-280.8)">YX-6</text><text transform="translate(528.6,736.7) rotate(-281.6)">XN-18</text><text transform="translate(533.0,735.8) rotate(-282.4)">YA-7</text><text transform="translate(537.4,734.8) rotate(-283.2)">XN-23</text><text transform="translate(541.9,733.7) rotate(-284.0)">WYS-9</text><text transform="translate(546.3,732.6) rotate(-284.8)">AJ-27</text><text transform="translate(550.7,731.4) rotate(-285.6)">RH-9</text><text transform="translate(555.0,730.1) rotate(-286.4)">YF-21</text><text transform="translate(559.4,728.8) rotate(-287.2)">HS-10</text><text transform="translate(563.7,727.4) rotate(-288.0)">XA-4</text><text transform="translate(568.1,726.0) rotate(-288.8)">HZP-8</text><text transform="translate(572.4,724.5) rotate(-289.6)">YA-20</text><text transform="translate(576.6,723.0) rotate(-290.4)">LY-9</text><text transform="translate(580.9,721.3) rotate(-291.2)">DA-29</text><text transform="translate(585.2,719.6) rotate(-292.0)">AJ-15</text><text transform="translate(589.4,717.9) rotate(-292.8)">DA-9</text><text transform="translate(593.6,716.1) rotate(-293.6)">YF-16</text><text transform="translate(597.8,714.2) rotate(-294.4)">AJ-16</text><text transform="translate(601.9,712.3) rotate(-295.2)">WYS-13</text><text transform="translate(606.0,710.3) rotate(-296.0)">CS-29</text><text transform="translate(610.1,708.3) rotate(-296.8)">XA-16</text><text transform="translate(614.2,706.2) rotate(-297.6)">JZ-2</text><text transform="translate(618.2,704.1) rotate(-298.4)">DA-13</text><text transform="translate(622.2,701.9) rotate(-299.2)">HZP-20</text><text transform="translate(626.2,699.6) rotate(-300.0)">YA-7</text><text transform="translate(630.2,697.3) rotate(-300.8)">JZ-25</text><text transform="translate(634.1,694.9) rotate(-301.7)">CS-9</text><text transform="translate(637.9,692.5) rotate(-302.5)">HS-17</text><text transform="translate(641.8,690.0) rotate(-303.3)">CS-6</text><text transform="translate(645.6,687.5) rotate(-304.1)">HS-14</text><text transform="translate(649.4,684.9) rotate(-304.9)">HZP-26</text><text transform="translate(653.1,682.2) rotate(-305.7)">HZP-22</text><text transform="translate(656.8,679.5) rotate(-306.5)">CS-6</text><text transform="translate(660.4,676.8) rotate(-307.3)">RH-13</text><text transform="translate(664.1,674.0) rotate(-308.1)">XA-27</text><text transform="translate(667.6,671.2) rotate(-308.9)">XA-28</text><text transform="translate(671.2,668.3) rotate(-309.7)">XA-30</text><text transform="translate(674.7,665.3) rotate(-310.5)">LY-19</text><text transform="translate(678.1,662.3) rotate(-311.3)">HZP-26</text><text transform="translate(681.6,659.3) rotate(-312.1)">HZP-22</text><text transform="translate(684.9,656.2) rotate(-312.9)">YA-10</text><text transform="translate(688.1,653.2) rotate(-313.7)">DA-8</text><text transform="translate(691.4,650.1) rotate(-314.5)">AJ-16</text><text transform="translate(694.5,646.9) rotate(-315.2)">YX-17</text><text transform="translate(697.6,643.7) rotate(-316.0)">CY-24</text><text transform="translate(700.7,640.5) rotate(-316.8)">WYS-25</text><text transform="translate(703.8,637.2) rotate(-317.6)">DA-15</text><text transform="translate(706.8,633.9) rotate(-318.4)">YX-16</text><text transform="translate(709.7,630.5) rotate(-319.2)">YX-21</text><text transform="translate(712.6,627.1) rotate(-320.0)">HZP-8</text><text transform="translate(715.5,623.7) rotate(-320.8)">LY-11</text><text transform="translate(718.3,620.2) rotate(-321.5)">XA-23</text><text transform="translate(721.0,616.7) rotate(-322.3)">LY-5</text><text transform="translate(723.7,613.1) rotate(-323.1)">YF-4</text><text transform="translate(726.4,609.5) rotate(-323.9)">DA-15</text><text transform="translate(729.0,605.9) rotate(-324.7)">CS-15</text><text transform="translate(731.5,602.2) rotate(-325.5)">JZ-21</text><text transform="translate(734.1,598.5) rotate(-326.2)">DA-1</text><text transform="translate(736.5,594.8) rotate(-327.0)">CY-22</text><text transform="translate(738.9,591.0) rotate(-327.8)">WYS-1</text><text transform="translate(741.3,587.2) rotate(-328.6)">YX-23</text><text transform="translate(743.6,583.4) rotate(-329.4)">HZP-22</text><text transform="translate(745.8,579.5) rotate(-330.2)">XA-5</text><text transform="translate(748.0,575.6) rotate(-331.0)">YF-26</text><text transform="translate(750.2,571.7) rotate(-331.8)">YA-27</text><text transform="translate(752.3,567.7) rotate(-332.5)">DA-3</text><text transform="translate(754.3,563.8) rotate(-333.3)">CY-14</text><text transform="translate(756.3,559.8) rotate(-334.1)">YX-30</text><text transform="translate(758.3,555.6) rotate(-334.9)">WYS-4</text><text transform="translate(760.2,551.3) rotate(-335.8)">DA-1</text><text transform="translate(762.2,547.0) rotate(-336.6)">HS-26</text><text transform="translate(764.0,542.6) rotate(-337.4)">DA-14</text><text transform="translate(765.8,538.2) rotate(-338.2)">JZ-22</text><text transform="translate(767.5,533.8) rotate(-339.1)">JZ-21</text><text transform="translate(769.1,529.5) rotate(-339.9)">DA-28</text><text transform="translate(770.6,525.2) rotate(-340.7)">HS-23</text><text transform="translate(772.1,521.0) rotate(-341.5)">LY-6</text><text transform="translate(773.5,516.7) rotate(-342.3)">YX-17</text><text transform="translate(774.8,512.5) rotate(-343.0)">YX-28</text><text transform="translate(776.1,508.2) rotate(-343.8)">CS-29</text><text transform="translate(777.3,503.8) rotate(-344.6)">JZ-11</text><text transform="translate(778.5,499.5) rotate(-345.4)">YA-25</text><text transform="translate(779.6,495.2) rotate(-346.2)">HZP-11</text><text transform="translate(780.6,490.8) rotate(-347.0)">YA-16</text><text transform="translate(781.6,486.4) rotate(-347.8)">YA-7</text><text transform="translate(782.5,482.0) rotate(-348.6)">LY-18</text><text transform="translate(783.4,477.6) rotate(-349.4)">RH-9</text><text transform="translate(784.2,473.2) rotate(-350.1)">XN-10</text><text transform="translate(784.9,468.8) rotate(-350.9)">LY-26</text><text transform="translate(785.6,464.3) rotate(-351.7)">CS-8</text><text transform="translate(786.2,459.9) rotate(-352.5)">YX-22</text><text transform="translate(786.8,455.4) rotate(-353.3)">YF-19</text><text transform="translate(787.3,451.0) rotate(-354.1)">YX-29</text><text transform="translate(787.7,446.5) rotate(-354.9)">RH-16</text><text transform="translate(788.1,442.1) rotate(-355.7)">LY-11</text><text transform="translate(788.4,437.6) rotate(-356.5)">AJ-9</text><text transform="translate(788.6,433.1) rotate(-357.2)">LY-12</text><text transform="translate(788.8,428.6) rotate(-358.0)">AJ-1</text><text transform="translate(788.9,424.1) rotate(-358.8)">HS-4</text><text transform="translate(789.0,419.6) rotate(-359.6)">DA-5</text><text transform="translate(783.1,355.8) rotate(-10.9)">Pbasin</text></g>
<path d="M363.0,68.8A362.7,362.7 0 0 0 206.5,673.9" stroke="#AFEBAF" stroke-width="4.6" stroke-dasharray="3.8 1.2" fill="none"/>
<path d="M642.2,102.0A362.7,362.7 0 0 0 363.0,68.8" stroke="#CD853F" stroke-width="4.6" stroke-dasharray="3.8 1.2" fill="none"/>
<path d="M818.4,345.1A362.7,362.7 0 0 0 642.2,102.0" stroke="#C71585" stroke-width="4.6" stroke-dasharray="3.8 1.2" fill="none"/>
<path d="M809.5,524.7A362.7,362.7 0 0 0 825.7,415.5" stroke="#A020F0" stroke-width="4.6" stroke-dasharray="3.8 1.2" fill="none"/>
<path d="M711.3,681.8A362.7,362.7 0 0 0 799.8,552.1" stroke="#A020F0" stroke-width="4.6" stroke-dasharray="3.8 1.2" fill="none"/>
<path d="M206.5,673.9A362.7,362.7 0 0 0 711.3,681.8" stroke="#6495ED" stroke-width="4.6" stroke-dasharray="3.8 1.2" fill="none"/>
<text transform="translate(511.6,41.7) rotate(7.9)" font-size="33" fill="#E60012" text-anchor="middle">MS_SHOUTH-B</text>
<text transform="translate(773.5,203) rotate(53.7)" font-size="33" fill="#E60012" text-anchor="middle">MS_SHOUTH-A</text>
<text transform="translate(810.2,576) rotate(117)" font-size="33" fill="#E60012" text-anchor="middle">MS_WEST</text>
<text transform="translate(70.8,386) rotate(-90)" font-size="33" fill="#E60012" text-anchor="middle">MS_MIDDLE</text>
<text x="477.5" y="817.4" font-size="33" fill="#E60012" text-anchor="middle">MS_EAST</text>
</g><g id="pb">
<rect x="953" y="113.5" width="124" height="527.0" fill="#FFE699"/>
<rect x="1077" y="113.5" width="214" height="527.0" fill="#F2F2F2"/>
<rect x="953" y="640.5" width="338" height="105.40000000000009" fill="#BDD7EE"/>
<text x="1184.0" y="175.8" font-size="26.6" text-anchor="middle">MS_WEST</text>
<rect x="1291" y="113.5" width="145.0" height="105.9" fill="#5a8ac6"/>
<text x="1184.0" y="281.2" font-size="26.6" text-anchor="middle">MS_EAST</text>
<rect x="1291" y="218.9" width="145.0" height="105.9" fill="#fcfcff"/>
<rect x="1435.5" y="218.9" width="145.0" height="105.9" fill="#5a8ac6"/>
<text x="1184.0" y="386.6" font-size="26.6" text-anchor="middle">MS_MIDDLE</text>
<rect x="1291" y="324.3" width="145.0" height="105.90000000000003" fill="#f4f7fc"/>
<rect x="1435.5" y="324.3" width="145.0" height="105.90000000000003" fill="#c7d7ec"/>
<rect x="1580" y="324.3" width="145.0" height="105.90000000000003" fill="#5a8ac6"/>
<text x="1184.0" y="492.0" font-size="26.6" text-anchor="middle">MS_SOUTH-B</text>
<rect x="1291" y="429.70000000000005" width="145.0" height="105.89999999999998" fill="#fab9bb"/>
<rect x="1435.5" y="429.70000000000005" width="145.0" height="105.89999999999998" fill="#fceef1"/>
<rect x="1580" y="429.70000000000005" width="145.0" height="105.89999999999998" fill="#fcfcff"/>
<rect x="1724.5" y="429.70000000000005" width="144.5" height="105.89999999999998" fill="#5a8ac6"/>
<text x="1184.0" y="597.4" font-size="26.6" text-anchor="middle">MS_SOUTH-A</text>
<rect x="1291" y="535.1" width="145.0" height="105.89999999999998" fill="#f8696b"/>
<rect x="1435.5" y="535.1" width="145.0" height="105.89999999999998" fill="#f9a0a2"/>
<rect x="1580" y="535.1" width="145.0" height="105.89999999999998" fill="#fab0b2"/>
<rect x="1724.5" y="535.1" width="144.5" height="105.89999999999998" fill="#f87577"/>
<rect x="1868.5" y="535.1" width="145.5" height="105.89999999999998" fill="#5a8ac6"/>
<text x="1363.2" y="175.8" font-size="26.8" text-anchor="middle">0</text>
<text x="1363.2" y="281.2" font-size="26.8" text-anchor="middle">7.515E-04</text>
<text x="1507.8" y="281.2" font-size="26.8" text-anchor="middle">0</text>
<text x="1363.2" y="386.6" font-size="26.8" text-anchor="middle">7.156E-04</text>
<text x="1507.8" y="386.6" font-size="26.8" text-anchor="middle">5.057E-04</text>
<text x="1652.2" y="386.6" font-size="26.8" text-anchor="middle">0</text>
<text x="1363.2" y="492.0" font-size="26.8" text-anchor="middle">1.017E-03</text>
<text x="1507.8" y="492.0" font-size="26.8" text-anchor="middle">8.059E-04</text>
<text x="1652.2" y="492.0" font-size="26.8" text-anchor="middle">7.525E-04</text>
<text x="1796.5" y="492.0" font-size="26.8" text-anchor="middle">0</text>
<text x="1363.2" y="597.4" font-size="26.8" text-anchor="middle">1.331E-03</text>
<text x="1507.8" y="597.4" font-size="26.8" text-anchor="middle">1.116E-03</text>
<text x="1652.2" y="597.4" font-size="26.8" text-anchor="middle">1.052E-03</text>
<text x="1796.5" y="597.4" font-size="26.8" text-anchor="middle">1.283E-03</text>
<text x="1941.0" y="597.4" font-size="26.8" text-anchor="middle">0</text>
<rect x="1291" y="640.5" width="145.0" height="105.40000000000009" fill="#a8dab7"/>
<text x="1363.2" y="702.8" font-size="26.8" text-anchor="middle">7.033E-04</text>
<rect x="1435.5" y="640.5" width="145.0" height="105.40000000000009" fill="#d6eddf"/>
<text x="1507.8" y="702.8" font-size="26.8" text-anchor="middle">7.017E-04</text>
<rect x="1580" y="640.5" width="145.0" height="105.40000000000009" fill="#fcfcff"/>
<text x="1652.2" y="702.8" font-size="26.8" text-anchor="middle">7.004E-04</text>
<rect x="1724.5" y="640.5" width="144.5" height="105.40000000000009" fill="#63be7b"/>
<text x="1796.5" y="702.8" font-size="26.8" text-anchor="middle">7.057E-04</text>
<rect x="1868.5" y="640.5" width="145.5" height="105.40000000000009" fill="#83cb96"/>
<text x="1941.0" y="702.8" font-size="26.8" text-anchor="middle">7.046E-04</text>
<polyline points="953,745.9 953,113.5 1435.5,113.5 1435.5,218.9 1580,218.9 1580,324.3 1724.5,324.3 1724.5,429.7 1868.5,429.7 1868.5,535.1 2013.5,535.1 2013.5,640.5 2013.5,745.9 953,745.9" stroke="#000" stroke-width="2.6" fill="none" stroke-linejoin="miter"/>
<line x1="1077" y1="113.5" x2="1077" y2="640.5" stroke="#000" stroke-width="2.6" fill="none"/>
<line x1="1291" y1="113.5" x2="1291" y2="745.9000000000001" stroke="#000" stroke-width="2.6" fill="none"/>
<line x1="1077" y1="218.9" x2="1291" y2="218.9" stroke="#000" stroke-width="2.6" fill="none"/>
<line x1="1077" y1="324.3" x2="1291" y2="324.3" stroke="#000" stroke-width="2.6" fill="none"/>
<line x1="1077" y1="429.7" x2="1291" y2="429.7" stroke="#000" stroke-width="2.6" fill="none"/>
<line x1="1077" y1="535.1" x2="1291" y2="535.1" stroke="#000" stroke-width="2.6" fill="none"/>
<line x1="953" y1="640.5" x2="2013.5" y2="640.5" stroke="#000" stroke-width="2.6" fill="none"/>
<text transform="translate(1025.0,377.0) rotate(-90)" font-size="27" font-weight="bold" text-anchor="middle">Inter-population differentation (<tspan font-style="italic">F</tspan><tspan font-size="19" dy="0">ST</tspan> )</text>
<text x="1122.0" y="685.9" font-size="27" font-weight="bold" text-anchor="middle">Intra-population</text>
<text x="1122.0" y="718" font-size="27" font-weight="bold" text-anchor="middle">genetic diversity (<tspan font-style="italic">θ</tspan><tspan font-size="19">π</tspan>)</text>
</g><g id="pc">
<g fill="#000"><circle cx="432.0" cy="1137.2" r="4.75"/><circle cx="528.1" cy="1203.5" r="4.75"/><circle cx="411.7" cy="1233.2" r="4.75"/><circle cx="352.7" cy="1255.3" r="4.75"/><circle cx="322.7" cy="1289.6" r="4.75"/><circle cx="390.9" cy="1287.4" r="4.75"/><circle cx="419.7" cy="1281.9" r="4.75"/><circle cx="242.8" cy="1305.6" r="4.75"/><circle cx="475.4" cy="1297.6" r="4.75"/><circle cx="481.6" cy="1315.3" r="4.75"/><circle cx="734.0" cy="1031.2" r="4.75"/><circle cx="624.2" cy="1184.9" r="4.75"/><circle cx="647.9" cy="1190.9" r="4.75"/><circle cx="649.4" cy="1200.1" r="4.75"/><circle cx="808.3" cy="1182.0" r="4.75"/><circle cx="886.7" cy="1201.8" r="4.75"/><circle cx="924.0" cy="1205.2" r="4.75"/><circle cx="567.1" cy="1259.1" r="4.75"/><circle cx="613.6" cy="1255.7" r="4.75"/><circle cx="683.0" cy="1281.6" r="4.75"/><circle cx="815.1" cy="1264.7" r="4.75"/><circle cx="835.7" cy="1309.7" r="4.75"/><circle cx="423.1" cy="1324.7" r="4.75"/><circle cx="480.4" cy="1328.6" r="4.75"/><circle cx="373.2" cy="1341.6" r="4.75"/><circle cx="373.0" cy="1358.6" r="4.75"/><circle cx="389.7" cy="1359.0" r="4.75"/><circle cx="440.0" cy="1378.6" r="4.75"/><circle cx="436.4" cy="1392.4" r="4.75"/><circle cx="474.6" cy="1396.8" r="4.75"/><circle cx="550.1" cy="1375.0" r="4.75"/><circle cx="273.6" cy="1408.6" r="4.75"/><circle cx="221.3" cy="1425.1" r="4.75"/><circle cx="236.5" cy="1435.0" r="4.75"/><circle cx="435.7" cy="1413.2" r="4.75"/><circle cx="511.4" cy="1419.3" r="4.75"/><circle cx="551.1" cy="1442.5" r="4.75"/><circle cx="418.5" cy="1455.1" r="4.75"/><circle cx="430.1" cy="1468.2" r="4.75"/><circle cx="468.1" cy="1464.8" r="4.75"/><circle cx="290.5" cy="1471.5" r="4.75"/><circle cx="294.1" cy="1479.3" r="4.75"/><circle cx="299.2" cy="1485.3" r="4.75"/><circle cx="367.0" cy="1477.8" r="4.75"/><circle cx="371.1" cy="1475.7" r="4.75"/><circle cx="511.9" cy="1474.0" r="4.75"/><circle cx="515.5" cy="1484.4" r="4.75"/><circle cx="532.0" cy="1491.6" r="4.75"/><circle cx="369.4" cy="1497.4" r="4.75"/><circle cx="413.4" cy="1499.9" r="4.75"/><circle cx="474.6" cy="1493.6" r="4.75"/><circle cx="360.7" cy="1506.9" r="4.75"/><circle cx="527.1" cy="1504.5" r="4.75"/><circle cx="245.3" cy="1508.1" r="4.75"/><circle cx="173.1" cy="1535.9" r="4.75"/><circle cx="442.9" cy="1526.2" r="4.75"/><circle cx="385.1" cy="1558.6" r="4.75"/><circle cx="406.4" cy="1554.3" r="4.75"/><circle cx="500.0" cy="1554.5" r="4.75"/><circle cx="296.1" cy="1581.2" r="4.75"/><circle cx="433.5" cy="1582.8" r="4.75"/><circle cx="491.1" cy="1587.4" r="4.75"/><circle cx="453.8" cy="1601.2" r="4.75"/><circle cx="582.8" cy="1351.1" r="4.75"/><circle cx="601.7" cy="1360.5" r="4.75"/><circle cx="614.0" cy="1373.6" r="4.75"/><circle cx="615.0" cy="1386.6" r="4.75"/><circle cx="641.9" cy="1375.2" r="4.75"/><circle cx="680.3" cy="1351.8" r="4.75"/><circle cx="720.3" cy="1344.3" r="4.75"/><circle cx="732.6" cy="1364.8" r="4.75"/><circle cx="731.1" cy="1371.9" r="4.75"/><circle cx="799.1" cy="1357.3" r="4.75"/><circle cx="577.5" cy="1418.1" r="4.75"/><circle cx="751.5" cy="1546.1" r="4.75"/><circle cx="699.0" cy="1563.0" r="4.75"/><circle cx="632.9" cy="1567.6" r="4.75"/><circle cx="595.2" cy="1605.6" r="4.75"/></g>
<polygon points="173.1,1429.2 185.6,1427.4 198.1,1425.6 210.6,1423.8 223.2,1421.9 235.7,1420.1 248.2,1418.2 260.7,1416.3 273.2,1414.4 285.7,1412.4 298.2,1410.4 310.8,1408.4 323.3,1406.4 335.8,1404.3 348.3,1402.1 360.8,1400.0 373.3,1397.7 385.9,1395.4 398.4,1393.0 410.9,1390.5 423.4,1387.9 435.9,1385.2 448.4,1382.4 460.9,1379.5 473.5,1376.4 486.0,1373.1 498.5,1369.8 511.0,1366.2 523.5,1362.5 536.0,1358.7 548.5,1354.7 561.1,1350.5 573.6,1346.2 586.1,1341.8 598.6,1337.2 611.1,1332.6 623.6,1327.9 636.2,1323.0 648.7,1318.1 661.2,1313.2 673.7,1308.2 686.2,1303.1 698.7,1298.0 711.2,1292.8 723.8,1287.6 736.3,1282.4 748.8,1277.1 761.3,1271.8 773.8,1266.5 786.3,1261.2 798.9,1255.9 811.4,1250.5 823.9,1245.1 836.4,1239.7 848.9,1234.3 861.4,1228.9 873.9,1223.5 886.5,1218.0 899.0,1212.6 911.5,1207.1 924.0,1201.7 924.0,1342.7 911.5,1344.4 899.0,1346.1 886.5,1347.9 873.9,1349.7 861.4,1351.4 848.9,1353.2 836.4,1355.0 823.9,1356.8 811.4,1358.6 798.9,1360.5 786.3,1362.3 773.8,1364.2 761.3,1366.1 748.8,1368.0 736.3,1370.0 723.8,1371.9 711.2,1373.9 698.7,1376.0 686.2,1378.1 673.7,1380.2 661.2,1382.4 648.7,1384.6 636.2,1386.9 623.6,1389.3 611.1,1391.8 598.6,1394.3 586.1,1397.0 573.6,1399.8 561.1,1402.7 548.5,1405.7 536.0,1408.9 523.5,1412.2 511.0,1415.7 498.5,1419.4 486.0,1423.2 473.5,1427.2 460.9,1431.3 448.4,1435.6 435.9,1440.0 423.4,1444.5 410.9,1449.1 398.4,1453.8 385.9,1458.6 373.3,1463.5 360.8,1468.4 348.3,1473.4 335.8,1478.5 323.3,1483.6 310.8,1488.8 298.2,1493.9 285.7,1499.2 273.2,1504.4 260.7,1509.7 248.2,1515.0 235.7,1520.3 223.2,1525.7 210.6,1531.0 198.1,1536.4 185.6,1541.8 173.1,1547.2" fill="#999999" fill-opacity="0.4"/>
<line x1="173.1" y1="1488.2" x2="924.0" y2="1272.2" stroke="#3366FF" stroke-width="7"/>
<path d="M136,1000.5 V1634.2 H962.5" stroke="#000" stroke-width="3.6" fill="none"/>
<line x1="154.6" y1="1634" x2="154.6" y2="1646.5" stroke="#000" stroke-width="3.6"/>
<text x="154.6" y="1671.8" font-size="33" text-anchor="middle">0</text>
<line x1="365.8" y1="1634" x2="365.8" y2="1646.5" stroke="#000" stroke-width="3.6"/>
<text x="365.8" y="1671.8" font-size="33" text-anchor="middle">300</text>
<line x1="577.0" y1="1634" x2="577.0" y2="1646.5" stroke="#000" stroke-width="3.6"/>
<text x="577.0" y="1671.8" font-size="33" text-anchor="middle">600</text>
<line x1="788.2" y1="1634" x2="788.2" y2="1646.5" stroke="#000" stroke-width="3.6"/>
<text x="788.2" y="1671.8" font-size="33" text-anchor="middle">900</text>
<line x1="123.5" y1="1503.2" x2="136" y2="1503.2" stroke="#000" stroke-width="3.6"/>
<text x="120.8" y="1513.0" font-size="27.5" text-anchor="end">2.0</text>
<line x1="123.5" y1="1327.0" x2="136" y2="1327.0" stroke="#000" stroke-width="3.6"/>
<text x="120.8" y="1336.8" font-size="27.5" text-anchor="end">2.4</text>
<line x1="123.5" y1="1150.8" x2="136" y2="1150.8" stroke="#000" stroke-width="3.6"/>
<text x="120.8" y="1160.6" font-size="27.5" text-anchor="end">2.8</text>
<text x="550.4" y="1718.9" font-size="42.4" text-anchor="middle">Distance (Km)</text>
<text transform="translate(59.5,1296.5) rotate(-90)" font-size="41.3" text-anchor="middle" xml:space="preserve">Genetic distance (<tspan font-style="italic">F</tspan><tspan font-size="29">ST</tspan>/(1−<tspan font-style="italic">F</tspan><tspan font-size="29">ST</tspan>)) (×10<tspan font-size="27" dy="-15">-3</tspan><tspan dy="15"> )</tspan></text>
<text x="166.6" y="1038.7" font-size="42"><tspan font-style="italic">p</tspan>-value = 0.0025</text>
<text x="166.6" y="1088.3" font-size="42">r = 0.3851</text>
</g><g id="pd">
<path d="M1046.4,917.6C1055.5,910.6 1070.4,907.0 1089.6,904.6C1108.8,902.2 1140.0,902.7 1161.6,903.2C1183.2,903.7 1200.0,908.0 1219.2,907.5C1238.4,907.0 1260.0,903.6 1276.8,900.3C1293.6,896.9 1308.0,890.3 1320.0,887.4C1332.0,884.5 1339.2,883.2 1348.8,883.0C1358.4,882.8 1368.9,882.6 1377.6,886.0C1386.2,889.4 1394.9,895.5 1400.7,903.2C1406.5,910.9 1409.6,920.0 1412.2,932.0C1414.8,944.0 1417.2,953.6 1416.5,975.2C1415.8,996.8 1409.0,1037.6 1408.0,1061.6C1407.0,1085.6 1409.6,1100.0 1410.3,1119.2C1411.0,1138.4 1413.9,1157.5 1412.2,1176.8C1410.5,1196.1 1405.4,1220.8 1400.0,1235.0C1394.6,1249.2 1387.1,1256.8 1380.0,1262.0C1372.9,1267.2 1365.8,1267.7 1357.5,1266.0C1349.2,1264.3 1339.6,1256.7 1330.0,1252.0C1320.4,1247.3 1313.7,1241.4 1300.0,1238.0C1286.3,1234.6 1271.1,1232.1 1248.0,1231.5C1224.9,1230.9 1190.4,1233.0 1161.6,1234.4C1132.8,1235.9 1099.2,1239.2 1075.2,1240.2C1051.2,1241.2 1031.5,1243.1 1017.6,1240.2C1003.7,1237.3 996.5,1233.5 991.7,1222.9C986.9,1212.3 985.4,1203.7 988.8,1176.8C992.1,1149.9 1004.1,1100.0 1011.8,1061.6C1019.5,1023.2 1029.1,970.4 1034.9,946.4C1040.7,922.4 1037.3,924.6 1046.4,917.6Z" fill="#CCEAEB"/>
<path d="M1618.7,884.9C1633.5,879.5 1653.3,879.2 1678.0,877.5C1702.7,875.8 1737.3,872.5 1767.0,874.5C1796.7,876.5 1831.3,883.9 1856.0,889.3C1880.7,894.7 1899.0,900.7 1915.3,907.1C1931.6,913.5 1945.0,918.5 1953.9,927.9C1962.8,937.3 1966.0,940.3 1968.7,963.5C1971.4,986.7 1970.5,1032.7 1970.2,1067.3C1970.0,1101.9 1968.9,1148.3 1967.2,1171.1C1965.5,1193.8 1965.5,1193.9 1959.8,1203.8C1954.1,1213.7 1950.4,1221.6 1933.1,1230.5C1915.8,1239.4 1883.7,1248.3 1856.0,1257.2C1828.3,1266.1 1787.8,1278.7 1767.0,1283.9C1746.2,1289.1 1744.2,1289.8 1731.4,1288.3C1718.6,1286.8 1703.8,1281.2 1690.0,1275.0C1676.2,1268.8 1662.7,1263.6 1648.3,1251.2C1633.9,1238.8 1616.6,1221.6 1603.8,1200.8C1591.0,1180.0 1579.1,1153.8 1571.2,1126.6C1563.3,1099.4 1557.4,1064.9 1556.4,1037.7C1555.4,1010.5 1559.9,984.8 1565.3,963.5C1570.7,942.2 1580.1,923.2 1589.0,910.1C1597.9,897.0 1603.9,890.3 1618.7,884.9Z" fill="#CCEAEB"/>
<path d="M1300.3,1288.0C1321.0,1278.6 1345.7,1273.1 1370.0,1268.0C1394.3,1262.9 1417.7,1259.2 1446.0,1257.5C1474.3,1255.8 1509.6,1256.9 1540.0,1258.0C1570.4,1259.1 1601.8,1257.8 1628.5,1264.0C1655.2,1270.2 1682.8,1281.9 1700.0,1295.0C1717.2,1308.1 1728.5,1328.8 1731.8,1342.6C1735.1,1356.4 1727.1,1367.9 1720.0,1378.0C1712.9,1388.1 1709.3,1387.0 1689.0,1403.4C1668.7,1419.8 1626.2,1458.5 1598.0,1476.3C1569.8,1494.1 1545.3,1501.9 1520.0,1510.0C1494.7,1518.1 1469.9,1521.7 1446.0,1525.0C1422.1,1528.3 1397.0,1529.5 1376.8,1530.0C1356.6,1530.5 1342.4,1532.2 1324.6,1528.0C1306.8,1523.8 1284.1,1514.7 1270.0,1505.0C1255.9,1495.3 1247.9,1484.2 1240.0,1470.0C1232.1,1455.8 1224.5,1436.7 1222.5,1420.0C1220.5,1403.3 1224.2,1385.9 1228.0,1370.0C1231.8,1354.1 1233.5,1338.1 1245.6,1324.4C1257.6,1310.7 1279.6,1297.4 1300.3,1288.0Z" fill="#CCEAEB"/>
<ellipse cx="1175" cy="1598" rx="98" ry="80" transform="rotate(-8 1175 1598)" fill="#CCEAEB"/>
<ellipse cx="1712" cy="1598" rx="127" ry="156" transform="rotate(-12 1712 1598)" fill="#CCEAEB"/>
<path d="M1350.9,923.4Q1525.8,1014.2 1722.5,1027.3" stroke="#c0c0c0" stroke-opacity="0.22" stroke-width="4.2" fill="none"/>
<path d="M1350.9,923.4Q1561.0,1005.4 1785.4,1027.3" stroke="#c0c0c0" stroke-opacity="0.22" stroke-width="4.2" fill="none"/>
<path d="M1350.9,923.4Q1492.1,1023.3 1657.2,1074.7" stroke="#c0c0c0" stroke-opacity="0.22" stroke-width="4.2" fill="none"/>
<path d="M1350.9,923.4Q1517.3,1043.3 1720.1,1074.7" stroke="#c0c0c0" stroke-opacity="0.22" stroke-width="4.2" fill="none"/>
<path d="M1350.9,923.4Q1546.6,1062.1 1782.4,1105.9" stroke="#c0c0c0" stroke-opacity="0.22" stroke-width="4.2" fill="none"/>
<path d="M1350.9,923.4Q1472.0,1085.9 1657.2,1168.2" stroke="#c0c0c0" stroke-opacity="0.22" stroke-width="4.2" fill="none"/>
<path d="M1350.9,923.4Q1502.3,1095.9 1720.1,1168.2" stroke="#c0c0c0" stroke-opacity="0.22" stroke-width="4.2" fill="none"/>
<path d="M1350.9,923.4Q1503.4,1104.3 1720.1,1199.3" stroke="#c0c0c0" stroke-opacity="0.22" stroke-width="4.2" fill="none"/>
<path d="M1350.9,923.4Q1539.0,1104.5 1782.4,1199.3" stroke="#c0c0c0" stroke-opacity="0.22" stroke-width="4.2" fill="none"/>
<path d="M1350.9,923.4Q1592.5,1050.4 1864.3,1076.2" stroke="#c0c0c0" stroke-opacity="0.22" stroke-width="4.2" fill="none"/>
<path d="M1350.9,923.4Q1616.6,1083.1 1926.6,1076.2" stroke="#c0c0c0" stroke-opacity="0.22" stroke-width="4.2" fill="none"/>
<path d="M1350.9,923.4Q1592.6,1057.5 1864.3,1108.0" stroke="#c0c0c0" stroke-opacity="0.22" stroke-width="4.2" fill="none"/>
<path d="M1350.9,923.4Q1619.0,1077.3 1926.6,1108.0" stroke="#c0c0c0" stroke-opacity="0.22" stroke-width="4.2" fill="none"/>
<path d="M1350.9,923.4Q1613.6,1098.4 1926.6,1139.1" stroke="#c0c0c0" stroke-opacity="0.22" stroke-width="4.2" fill="none"/>
<path d="M1350.9,923.4Q1573.5,1117.8 1864.3,1170.6" stroke="#c0c0c0" stroke-opacity="0.22" stroke-width="4.2" fill="none"/>
<path d="M1350.9,923.4Q1567.2,969.3 1785.4,933.8" stroke="#c0c0c0" stroke-opacity="0.22" stroke-width="4.2" fill="none"/>
<path d="M1350.9,923.4Q1498.8,988.6 1660.2,996.1" stroke="#c0c0c0" stroke-opacity="0.22" stroke-width="4.2" fill="none"/>
<path d="M1350.9,923.4Q1562.8,991.7 1785.4,996.1" stroke="#c0c0c0" stroke-opacity="0.22" stroke-width="4.2" fill="none"/>
<path d="M1350.9,923.4Q1597.3,1031.4 1866.4,1029.6" stroke="#c0c0c0" stroke-opacity="0.22" stroke-width="4.2" fill="none"/>
<path d="M1657.2,916.0Q1383.1,1015.2 1091.9,1002.0" stroke="#c0c0c0" stroke-opacity="0.22" stroke-width="4.2" fill="none"/>
<path d="M1657.2,916.0Q1412.3,993.7 1155.9,1011.2" stroke="#c0c0c0" stroke-opacity="0.22" stroke-width="4.2" fill="none"/>
<path d="M1657.2,916.0Q1475.3,956.7 1289.8,937.8" stroke="#c0c0c0" stroke-opacity="0.22" stroke-width="4.2" fill="none"/>
<path d="M1657.2,916.0Q1508.4,964.0 1352.3,972.9" stroke="#c0c0c0" stroke-opacity="0.22" stroke-width="4.2" fill="none"/>
<path d="M1657.2,916.0Q1449.0,995.0 1226.4,1004.0" stroke="#c0c0c0" stroke-opacity="0.22" stroke-width="4.2" fill="none"/>
<path d="M1657.2,916.0Q1478.9,982.4 1289.8,1004.0" stroke="#c0c0c0" stroke-opacity="0.22" stroke-width="4.2" fill="none"/>
<path d="M1657.2,916.0Q1453.5,1018.0 1226.4,1035.1" stroke="#c0c0c0" stroke-opacity="0.22" stroke-width="4.2" fill="none"/>
<path d="M1657.2,916.0Q1513.0,996.6 1352.3,1035.1" stroke="#c0c0c0" stroke-opacity="0.22" stroke-width="4.2" fill="none"/>
<path d="M1657.2,916.0Q1398.8,1072.6 1097.4,1094.7" stroke="#c0c0c0" stroke-opacity="0.22" stroke-width="4.2" fill="none"/>
<path d="M1657.2,916.0Q1430.2,1066.2 1159.6,1094.7" stroke="#c0c0c0" stroke-opacity="0.22" stroke-width="4.2" fill="none"/>
<path d="M1657.2,916.0Q1378.8,1117.9 1034.9,1125.8" stroke="#c0c0c0" stroke-opacity="0.22" stroke-width="4.2" fill="none"/>
<path d="M1657.2,916.0Q1381.4,1127.9 1034.9,1157.2" stroke="#c0c0c0" stroke-opacity="0.22" stroke-width="4.2" fill="none"/>
<path d="M1657.2,916.0Q1406.9,1105.3 1097.4,1157.2" stroke="#c0c0c0" stroke-opacity="0.22" stroke-width="4.2" fill="none"/>
<path d="M1657.2,916.0Q1444.8,1111.7 1159.6,1157.2" stroke="#c0c0c0" stroke-opacity="0.22" stroke-width="4.2" fill="none"/>
<path d="M1657.2,916.0Q1521.2,1030.0 1357.5,1098.5" stroke="#c0c0c0" stroke-opacity="0.22" stroke-width="4.2" fill="none"/>
<path d="M1657.2,916.0Q1503.6,1069.6 1295.0,1129.9" stroke="#c0c0c0" stroke-opacity="0.22" stroke-width="4.2" fill="none"/>
<path d="M1657.2,916.0Q1464.5,1084.2 1232.8,1192.7" stroke="#c0c0c0" stroke-opacity="0.22" stroke-width="4.2" fill="none"/>
<path d="M1657.2,916.0Q1537.3,1088.6 1355.5,1194.1" stroke="#c0c0c0" stroke-opacity="0.22" stroke-width="4.2" fill="none"/>
<path d="M1657.2,916.0Q1426.0,1062.6 1159.6,1125.8" stroke="#c0c0c0" stroke-opacity="0.22" stroke-width="4.2" fill="none"/>
<path d="M1657.2,916.0Q1499.0,1084.4 1295.0,1192.7" stroke="#c0c0c0" stroke-opacity="0.22" stroke-width="4.2" fill="none"/>
<path d="M1091.9,1002.0Q1370.3,1077.3 1657.2,1105.9" stroke="#c0c0c0" stroke-opacity="0.22" stroke-width="4.2" fill="none"/>
<path d="M1154.4,939.8Q1468.7,982.0 1785.4,965.0" stroke="#c0c0c0" stroke-opacity="0.22" stroke-width="4.2" fill="none"/>
<path d="M1352.3,1035.1Q1539.1,1009.2 1722.5,965.0" stroke="#c0c0c0" stroke-opacity="0.22" stroke-width="4.2" fill="none"/>
<path d="M1159.6,1157.2Q1544.5,1207.4 1926.6,1139.1" stroke="#c0c0c0" stroke-opacity="0.22" stroke-width="4.2" fill="none"/>
<path d="M1155.9,1011.2Q1401.2,1106.7 1657.2,1168.2" stroke="#c0c0c0" stroke-opacity="0.22" stroke-width="4.2" fill="none"/>
<path d="M1034.9,1157.2Q1482.2,1218.1 1926.6,1139.1" stroke="#c0c0c0" stroke-opacity="0.22" stroke-width="4.2" fill="none"/>
<path d="M1357.5,1161.0Q1530.9,1097.0 1660.2,965.0" stroke="#c0c0c0" stroke-opacity="0.22" stroke-width="4.2" fill="none"/>
<path d="M1097.4,1157.2Q1445.9,1211.2 1782.4,1105.9" stroke="#c0c0c0" stroke-opacity="0.22" stroke-width="4.2" fill="none"/>
<path d="M1295.0,1192.7Q1585.2,1126.9 1866.4,1029.6" stroke="#c0c0c0" stroke-opacity="0.22" stroke-width="4.2" fill="none"/>
<path d="M1034.9,1125.8Q1345.7,1152.3 1657.2,1137.0" stroke="#c0c0c0" stroke-opacity="0.22" stroke-width="4.2" fill="none"/>
<path d="M1091.9,970.9Q1482.6,1030.3 1866.4,935.9" stroke="#c0c0c0" stroke-opacity="0.22" stroke-width="4.2" fill="none"/>
<path d="M1097.4,1157.2Q1390.3,1142.1 1660.2,1027.3" stroke="#c0c0c0" stroke-opacity="0.22" stroke-width="4.2" fill="none"/>
<path d="M1091.9,939.8Q1510.6,1010.0 1928.7,935.9" stroke="#c0c0c0" stroke-opacity="0.22" stroke-width="4.2" fill="none"/>
<path d="M1357.5,1161.0Q1527.2,1062.7 1657.2,916.0" stroke="#c0c0c0" stroke-opacity="0.22" stroke-width="4.2" fill="none"/>
<path d="M1155.9,1011.2Q1510.6,1042.8 1866.4,1029.6" stroke="#c0c0c0" stroke-opacity="0.22" stroke-width="4.2" fill="none"/>
<path d="M1155.9,1011.2Q1529.1,1148.4 1926.6,1139.1" stroke="#c0c0c0" stroke-opacity="0.22" stroke-width="4.2" fill="none"/>
<path d="M1034.9,1125.8Q1413.9,1082.5 1785.4,996.1" stroke="#c0c0c0" stroke-opacity="0.22" stroke-width="4.2" fill="none"/>
<path d="M1355.5,1194.1Q1582.0,1181.2 1782.4,1074.7" stroke="#c0c0c0" stroke-opacity="0.22" stroke-width="4.2" fill="none"/>
<path d="M1034.9,1125.8Q1464.6,1119.4 1866.4,967.0" stroke="#c0c0c0" stroke-opacity="0.22" stroke-width="4.2" fill="none"/>
<path d="M1232.8,1098.5Q1593.3,1099.1 1928.7,967.0" stroke="#c0c0c0" stroke-opacity="0.22" stroke-width="4.2" fill="none"/>
<path d="M1232.8,1161.0Q1585.5,1210.2 1926.6,1108.0" stroke="#c0c0c0" stroke-opacity="0.22" stroke-width="4.2" fill="none"/>
<path d="M1357.5,1098.5Q1570.9,1103.5 1782.4,1074.7" stroke="#c0c0c0" stroke-opacity="0.22" stroke-width="4.2" fill="none"/>
<path d="M1097.4,1125.8Q1516.3,1105.6 1928.7,1029.6" stroke="#c0c0c0" stroke-opacity="0.22" stroke-width="4.2" fill="none"/>
<path d="M1111.0,1573.2Q1090.5,1377.3 1034.9,1188.3" stroke="#c0c0c0" stroke-opacity="0.22" stroke-width="4.2" fill="none"/>
<path d="M1111.0,1573.2Q1163.2,1380.2 1232.8,1192.7" stroke="#c0c0c0" stroke-opacity="0.22" stroke-width="4.2" fill="none"/>
<path d="M1111.0,1604.3Q1184.5,1322.9 1226.4,1035.1" stroke="#c0c0c0" stroke-opacity="0.22" stroke-width="4.2" fill="none"/>
<path d="M1269.4,1410.8Q1462.7,1303.9 1657.2,1199.3" stroke="#c0c0c0" stroke-opacity="0.22" stroke-width="4.2" fill="none"/>
<path d="M1111.0,1635.2Q1224.9,1406.6 1295.0,1161.0" stroke="#c0c0c0" stroke-opacity="0.22" stroke-width="4.2" fill="none"/>
<path d="M1222.7,1581.9Q1288.4,1387.7 1355.5,1194.1" stroke="#c0c0c0" stroke-opacity="0.22" stroke-width="4.2" fill="none"/>
<path d="M1350.9,923.4Q1535.2,983.1 1722.5,933.8" stroke="#a8a8a8" stroke-opacity="0.35" stroke-width="4.2" fill="none"/>
<path d="M1350.9,923.4Q1501.2,976.7 1660.2,965.0" stroke="#a8a8a8" stroke-opacity="0.35" stroke-width="4.2" fill="none"/>
<path d="M1350.9,923.4Q1533.4,973.6 1722.5,965.0" stroke="#a8a8a8" stroke-opacity="0.35" stroke-width="4.2" fill="none"/>
<path d="M1350.9,923.4Q1563.7,990.9 1785.4,965.0" stroke="#a8a8a8" stroke-opacity="0.35" stroke-width="4.2" fill="none"/>
<path d="M1350.9,923.4Q1491.1,1018.4 1660.2,1027.3" stroke="#a8a8a8" stroke-opacity="0.35" stroke-width="4.2" fill="none"/>
<path d="M1350.9,923.4Q1601.8,1026.8 1866.4,967.0" stroke="#a8a8a8" stroke-opacity="0.35" stroke-width="4.2" fill="none"/>
<path d="M1350.9,923.4Q1634.3,1017.7 1928.7,967.0" stroke="#a8a8a8" stroke-opacity="0.35" stroke-width="4.2" fill="none"/>
<path d="M1350.9,923.4Q1599.3,1025.4 1866.4,998.5" stroke="#a8a8a8" stroke-opacity="0.35" stroke-width="4.2" fill="none"/>
<path d="M1350.9,923.4Q1635.2,996.5 1928.7,998.5" stroke="#a8a8a8" stroke-opacity="0.35" stroke-width="4.2" fill="none"/>
<path d="M1350.9,923.4Q1632.8,1014.8 1928.7,1029.6" stroke="#a8a8a8" stroke-opacity="0.35" stroke-width="4.2" fill="none"/>
<path d="M1350.9,923.4Q1552.6,1039.0 1782.4,1074.7" stroke="#a8a8a8" stroke-opacity="0.35" stroke-width="4.2" fill="none"/>
<path d="M1350.9,923.4Q1477.7,1058.8 1657.2,1105.9" stroke="#a8a8a8" stroke-opacity="0.35" stroke-width="4.2" fill="none"/>
<path d="M1350.9,923.4Q1520.3,1045.4 1720.1,1105.9" stroke="#a8a8a8" stroke-opacity="0.35" stroke-width="4.2" fill="none"/>
<path d="M1350.9,923.4Q1532.6,1099.1 1782.4,1137.0" stroke="#a8a8a8" stroke-opacity="0.35" stroke-width="4.2" fill="none"/>
<path d="M1350.9,923.4Q1479.5,1088.6 1657.2,1199.3" stroke="#a8a8a8" stroke-opacity="0.35" stroke-width="4.2" fill="none"/>
<path d="M1350.9,923.4Q1527.1,1010.3 1723.1,996.1" stroke="#a8a8a8" stroke-opacity="0.35" stroke-width="4.2" fill="none"/>
<path d="M1350.9,923.4Q1547.6,1079.4 1782.4,1168.2" stroke="#a8a8a8" stroke-opacity="0.35" stroke-width="4.2" fill="none"/>
<path d="M1657.2,916.0Q1376.4,972.5 1091.9,939.8" stroke="#a8a8a8" stroke-opacity="0.35" stroke-width="4.2" fill="none"/>
<path d="M1657.2,916.0Q1407.7,967.7 1154.4,939.8" stroke="#a8a8a8" stroke-opacity="0.35" stroke-width="4.2" fill="none"/>
<path d="M1657.2,916.0Q1412.6,1006.0 1154.4,970.9" stroke="#a8a8a8" stroke-opacity="0.35" stroke-width="4.2" fill="none"/>
<path d="M1657.2,916.0Q1416.7,1021.6 1154.4,1036.3" stroke="#a8a8a8" stroke-opacity="0.35" stroke-width="4.2" fill="none"/>
<path d="M1657.2,916.0Q1450.9,1013.2 1226.4,972.9" stroke="#a8a8a8" stroke-opacity="0.35" stroke-width="4.2" fill="none"/>
<path d="M1657.2,916.0Q1480.6,990.1 1289.8,972.9" stroke="#a8a8a8" stroke-opacity="0.35" stroke-width="4.2" fill="none"/>
<path d="M1657.2,916.0Q1512.9,988.3 1352.3,1004.0" stroke="#a8a8a8" stroke-opacity="0.35" stroke-width="4.2" fill="none"/>
<path d="M1657.2,916.0Q1368.1,1082.3 1034.9,1094.7" stroke="#a8a8a8" stroke-opacity="0.35" stroke-width="4.2" fill="none"/>
<path d="M1657.2,916.0Q1407.4,1101.1 1097.4,1125.8" stroke="#a8a8a8" stroke-opacity="0.35" stroke-width="4.2" fill="none"/>
<path d="M1657.2,916.0Q1369.2,1105.0 1034.9,1188.3" stroke="#a8a8a8" stroke-opacity="0.35" stroke-width="4.2" fill="none"/>
<path d="M1657.2,916.0Q1481.3,1101.4 1232.8,1161.0" stroke="#a8a8a8" stroke-opacity="0.35" stroke-width="4.2" fill="none"/>
<path d="M1657.2,916.0Q1492.7,1063.1 1295.0,1161.0" stroke="#a8a8a8" stroke-opacity="0.35" stroke-width="4.2" fill="none"/>
<path d="M1657.2,916.0Q1537.8,1065.6 1357.5,1129.9" stroke="#a8a8a8" stroke-opacity="0.35" stroke-width="4.2" fill="none"/>
<path d="M1657.2,916.0Q1486.5,1015.6 1289.8,1035.1" stroke="#a8a8a8" stroke-opacity="0.35" stroke-width="4.2" fill="none"/>
<path d="M1657.2,916.0Q1490.3,1035.3 1295.0,1098.5" stroke="#a8a8a8" stroke-opacity="0.35" stroke-width="4.2" fill="none"/>
<path d="M1289.8,1035.1Q1522.1,1153.5 1782.4,1168.2" stroke="#a8a8a8" stroke-opacity="0.35" stroke-width="4.2" fill="none"/>
<path d="M1091.9,1002.0Q1472.6,1096.7 1864.3,1076.2" stroke="#a8a8a8" stroke-opacity="0.35" stroke-width="4.2" fill="none"/>
<path d="M1232.8,1129.9Q1498.5,1083.9 1722.5,933.8" stroke="#a8a8a8" stroke-opacity="0.35" stroke-width="4.2" fill="none"/>
<path d="M1232.8,1129.9Q1476.0,1162.1 1720.1,1137.0" stroke="#a8a8a8" stroke-opacity="0.35" stroke-width="4.2" fill="none"/>
<path d="M1357.5,1161.0Q1647.5,1155.1 1926.6,1076.2" stroke="#a8a8a8" stroke-opacity="0.35" stroke-width="4.2" fill="none"/>
<path d="M1226.4,1035.1Q1506.4,1070.2 1785.4,1027.3" stroke="#a8a8a8" stroke-opacity="0.35" stroke-width="4.2" fill="none"/>
<path d="M1289.8,1004.0Q1607.8,1054.1 1928.7,1029.6" stroke="#a8a8a8" stroke-opacity="0.35" stroke-width="4.2" fill="none"/>
<path d="M1034.9,1094.7Q1326.5,1225.1 1630.3,1323.6" stroke="#a8a8a8" stroke-opacity="0.35" stroke-width="4.6" fill="none"/>
<path d="M1097.4,1094.7Q1347.4,1247.5 1630.3,1323.6" stroke="#a8a8a8" stroke-opacity="0.35" stroke-width="4.6" fill="none"/>
<path d="M1034.9,1157.2Q1321.4,1280.6 1630.3,1323.6" stroke="#a8a8a8" stroke-opacity="0.35" stroke-width="4.6" fill="none"/>
<path d="M1034.9,1188.3Q1331.4,1261.4 1630.3,1323.6" stroke="#a8a8a8" stroke-opacity="0.35" stroke-width="4.6" fill="none"/>
<path d="M1034.9,1188.3Q1296.0,1257.8 1557.7,1325.0" stroke="#a8a8a8" stroke-opacity="0.35" stroke-width="4.6" fill="none"/>
<path d="M1269.4,1348.0Q1377.7,1340.5 1482.0,1310.5" stroke="#a8a8a8" stroke-opacity="0.35" stroke-width="4.2" fill="none"/>
<path d="M1269.4,1441.6Q1385.4,1391.7 1482.0,1310.5" stroke="#a8a8a8" stroke-opacity="0.35" stroke-width="4.2" fill="none"/>
<path d="M1479.8,1379.8Q1481.0,1345.2 1482.0,1310.5" stroke="#a8a8a8" stroke-opacity="0.35" stroke-width="4.2" fill="none"/>
<path d="M1605.0,1411.4Q1551.3,1351.4 1482.0,1310.5" stroke="#a8a8a8" stroke-opacity="0.35" stroke-width="4.2" fill="none"/>
<path d="M1605.0,1442.8Q1546.8,1373.6 1482.0,1310.5" stroke="#a8a8a8" stroke-opacity="0.35" stroke-width="4.2" fill="none"/>
<path d="M1479.8,1473.9Q1530.4,1405.5 1557.7,1325.0" stroke="#a8a8a8" stroke-opacity="0.35" stroke-width="4.2" fill="none"/>
<path d="M1542.8,1442.8Q1545.3,1383.3 1557.7,1325.0" stroke="#a8a8a8" stroke-opacity="0.35" stroke-width="4.2" fill="none"/>
<path d="M1782.4,1074.7Q1729.9,1378.5 1662.0,1679.2" stroke="#a8a8a8" stroke-opacity="0.35" stroke-width="4.2" fill="none"/>
<path d="M1720.1,1199.3Q1686.2,1382.9 1654.8,1566.9" stroke="#a8a8a8" stroke-opacity="0.35" stroke-width="4.2" fill="none"/>
<path d="M1720.1,1199.3Q1719.6,1443.8 1785.7,1679.2" stroke="#a8a8a8" stroke-opacity="0.35" stroke-width="4.2" fill="none"/>
<path d="M1782.4,1168.2Q1711.7,1349.6 1654.8,1535.8" stroke="#a8a8a8" stroke-opacity="0.35" stroke-width="4.2" fill="none"/>
<path d="M1657.2,1199.3Q1676.3,1441.1 1722.9,1679.2" stroke="#a8a8a8" stroke-opacity="0.35" stroke-width="4.2" fill="none"/>
<path d="M1111.0,1635.2Q1240.4,1479.3 1394.7,1348.0" stroke="#a8a8a8" stroke-opacity="0.35" stroke-width="4.2" fill="none"/>
<path d="M1111.0,1573.2Q1227.1,1466.0 1332.2,1348.0" stroke="#a8a8a8" stroke-opacity="0.35" stroke-width="4.2" fill="none"/>
<path d="M1269.4,1441.6Q1319.2,1320.2 1355.5,1194.1" stroke="#a8a8a8" stroke-opacity="0.35" stroke-width="4.2" fill="none"/>
<path d="M1269.4,1348.0Q1276.5,1269.4 1295.0,1192.7" stroke="#a8a8a8" stroke-opacity="0.35" stroke-width="4.2" fill="none"/>
<path d="M1350.9,923.4Q1607.1,993.3 1866.4,935.9" stroke="#8c8c8c" stroke-opacity="0.55" stroke-width="4.2" fill="none"/>
<path d="M1350.9,923.4Q1489.4,1051.2 1657.2,1137.0" stroke="#8c8c8c" stroke-opacity="0.55" stroke-width="4.2" fill="none"/>
<path d="M1350.9,923.4Q1516.7,1062.6 1720.1,1137.0" stroke="#8c8c8c" stroke-opacity="0.55" stroke-width="4.2" fill="none"/>
<path d="M1350.9,923.4Q1586.1,1082.5 1864.3,1139.1" stroke="#8c8c8c" stroke-opacity="0.55" stroke-width="4.2" fill="none"/>
<path d="M1350.9,923.4Q1638.9,970.2 1928.7,935.9" stroke="#8c8c8c" stroke-opacity="0.55" stroke-width="4.2" fill="none"/>
<path d="M1657.2,916.0Q1382.1,1020.9 1091.9,970.9" stroke="#8c8c8c" stroke-opacity="0.55" stroke-width="4.2" fill="none"/>
<path d="M1657.2,916.0Q1477.9,1088.3 1232.8,1129.9" stroke="#8c8c8c" stroke-opacity="0.55" stroke-width="4.2" fill="none"/>
<path d="M1657.2,916.0Q1463.1,1049.3 1232.8,1098.5" stroke="#8c8c8c" stroke-opacity="0.55" stroke-width="4.2" fill="none"/>
<path d="M1657.2,916.0Q1546.0,1085.8 1357.5,1161.0" stroke="#8c8c8c" stroke-opacity="0.55" stroke-width="4.2" fill="none"/>
<path d="M1154.4,939.8Q1276.1,1216.1 1557.7,1325.0" stroke="#8c8c8c" stroke-opacity="0.55" stroke-width="4.6" fill="none"/>
<path d="M1289.8,937.8Q1405.7,1178.7 1630.3,1323.6" stroke="#8c8c8c" stroke-opacity="0.55" stroke-width="4.6" fill="none"/>
<path d="M1352.3,972.9Q1448.9,1181.8 1630.3,1323.6" stroke="#8c8c8c" stroke-opacity="0.55" stroke-width="4.6" fill="none"/>
<path d="M1226.4,1035.1Q1347.2,1231.3 1557.7,1325.0" stroke="#8c8c8c" stroke-opacity="0.55" stroke-width="4.6" fill="none"/>
<path d="M1159.6,1157.2Q1382.1,1276.9 1630.3,1323.6" stroke="#8c8c8c" stroke-opacity="0.55" stroke-width="4.6" fill="none"/>
<path d="M1357.5,1098.5Q1451.8,1262.1 1630.3,1323.6" stroke="#8c8c8c" stroke-opacity="0.55" stroke-width="4.6" fill="none"/>
<path d="M1232.8,1129.9Q1399.4,1292.8 1630.3,1323.6" stroke="#8c8c8c" stroke-opacity="0.55" stroke-width="4.6" fill="none"/>
<path d="M1295.0,1129.9Q1428.0,1286.7 1630.3,1323.6" stroke="#8c8c8c" stroke-opacity="0.55" stroke-width="4.6" fill="none"/>
<path d="M1295.0,1129.9Q1390.5,1275.8 1557.7,1325.0" stroke="#8c8c8c" stroke-opacity="0.55" stroke-width="4.6" fill="none"/>
<path d="M1295.0,1129.9Q1352.6,1257.4 1482.0,1310.5" stroke="#8c8c8c" stroke-opacity="0.55" stroke-width="4.6" fill="none"/>
<path d="M1355.5,1194.1Q1462.9,1322.6 1630.3,1323.6" stroke="#8c8c8c" stroke-opacity="0.55" stroke-width="4.6" fill="none"/>
<path d="M1289.8,1035.1Q1390.3,1211.0 1557.7,1325.0" stroke="#8c8c8c" stroke-opacity="0.55" stroke-width="4.6" fill="none"/>
<path d="M1295.0,1192.7Q1374.0,1274.7 1482.0,1310.5" stroke="#8c8c8c" stroke-opacity="0.55" stroke-width="4.6" fill="none"/>
<path d="M1657.2,916.0Q1687.9,1140.1 1557.7,1325.0" stroke="#8c8c8c" stroke-opacity="0.55" stroke-width="4.6" fill="none"/>
<path d="M1660.2,965.0Q1634.9,1170.7 1482.0,1310.5" stroke="#8c8c8c" stroke-opacity="0.55" stroke-width="4.6" fill="none"/>
<path d="M1722.5,1027.3Q1643.0,1203.5 1482.0,1310.5" stroke="#8c8c8c" stroke-opacity="0.55" stroke-width="4.6" fill="none"/>
<path d="M1785.4,1027.3Q1712.7,1207.6 1557.7,1325.0" stroke="#8c8c8c" stroke-opacity="0.55" stroke-width="4.6" fill="none"/>
<path d="M1928.7,1029.6Q1764.6,1264.2 1482.0,1310.5" stroke="#8c8c8c" stroke-opacity="0.55" stroke-width="4.6" fill="none"/>
<path d="M1720.1,1105.9Q1641.1,1254.8 1482.0,1310.5" stroke="#8c8c8c" stroke-opacity="0.55" stroke-width="4.6" fill="none"/>
<path d="M1720.1,1168.2Q1670.6,1279.4 1557.7,1325.0" stroke="#8c8c8c" stroke-opacity="0.55" stroke-width="4.6" fill="none"/>
<path d="M1720.1,1199.3Q1621.7,1299.1 1482.0,1310.5" stroke="#8c8c8c" stroke-opacity="0.55" stroke-width="4.6" fill="none"/>
<path d="M1785.4,996.1Q1688.3,1206.0 1482.0,1310.5" stroke="#8c8c8c" stroke-opacity="0.55" stroke-width="4.6" fill="none"/>
<path d="M1782.4,1168.2Q1704.9,1296.6 1557.7,1325.0" stroke="#8c8c8c" stroke-opacity="0.55" stroke-width="4.6" fill="none"/>
<path d="M1482.0,1310.5Q1614.0,1390.4 1718.3,1504.2" stroke="#8c8c8c" stroke-opacity="0.55" stroke-width="4.4" fill="none"/>
<path d="M1630.3,1323.6Q1680.0,1411.1 1718.3,1504.2" stroke="#8c8c8c" stroke-opacity="0.55" stroke-width="4.4" fill="none"/>
<path d="M1482.0,1310.5Q1574.7,1434.5 1654.8,1566.9" stroke="#8c8c8c" stroke-opacity="0.55" stroke-width="4.4" fill="none"/>
<path d="M1557.7,1325.0Q1650.6,1437.6 1718.3,1566.9" stroke="#8c8c8c" stroke-opacity="0.55" stroke-width="4.4" fill="none"/>
<path d="M1630.3,1323.6Q1682.5,1442.3 1718.3,1566.9" stroke="#8c8c8c" stroke-opacity="0.55" stroke-width="4.4" fill="none"/>
<path d="M1630.3,1323.6Q1695.5,1464.3 1722.9,1617.0" stroke="#8c8c8c" stroke-opacity="0.55" stroke-width="4.4" fill="none"/>
<path d="M1482.0,1310.5Q1656.3,1441.5 1785.7,1617.0" stroke="#8c8c8c" stroke-opacity="0.55" stroke-width="4.4" fill="none"/>
<path d="M1630.3,1323.6Q1716.3,1497.8 1785.7,1679.2" stroke="#8c8c8c" stroke-opacity="0.55" stroke-width="4.4" fill="none"/>
<path d="M1332.2,1379.7Q1407.3,1345.6 1482.0,1310.5" stroke="#8c8c8c" stroke-opacity="0.55" stroke-width="4.2" fill="none"/>
<path d="M1394.7,1379.7Q1507.2,1329.2 1630.3,1323.6" stroke="#8c8c8c" stroke-opacity="0.55" stroke-width="4.2" fill="none"/>
<path d="M1269.4,1473.3Q1372.0,1387.0 1482.0,1310.5" stroke="#8c8c8c" stroke-opacity="0.55" stroke-width="4.2" fill="none"/>
<path d="M1394.7,1441.6Q1519.4,1396.3 1630.3,1323.6" stroke="#8c8c8c" stroke-opacity="0.55" stroke-width="4.2" fill="none"/>
<path d="M1542.0,1379.8Q1517.9,1340.1 1482.0,1310.5" stroke="#8c8c8c" stroke-opacity="0.55" stroke-width="4.2" fill="none"/>
<path d="M1479.8,1411.4Q1477.4,1360.9 1482.0,1310.5" stroke="#8c8c8c" stroke-opacity="0.55" stroke-width="4.2" fill="none"/>
<path d="M1542.0,1411.4Q1521.8,1355.1 1482.0,1310.5" stroke="#8c8c8c" stroke-opacity="0.55" stroke-width="4.2" fill="none"/>
<path d="M1605.0,1442.8Q1611.6,1381.9 1630.3,1323.6" stroke="#8c8c8c" stroke-opacity="0.55" stroke-width="4.2" fill="none"/>
<path d="M1479.8,1473.9Q1553.2,1396.9 1630.3,1323.6" stroke="#8c8c8c" stroke-opacity="0.55" stroke-width="4.2" fill="none"/>
<path d="M1542.8,1442.8Q1597.6,1391.3 1630.3,1323.6" stroke="#8c8c8c" stroke-opacity="0.55" stroke-width="4.2" fill="none"/>
<path d="M1657.2,1137.0Q1689.1,1327.7 1772.2,1502.4" stroke="#8c8c8c" stroke-opacity="0.55" stroke-width="4.2" fill="none"/>
<path d="M1660.2,1027.3Q1638.9,1281.4 1654.8,1535.8" stroke="#8c8c8c" stroke-opacity="0.55" stroke-width="4.2" fill="none"/>
<path d="M1720.1,1137.0Q1758.7,1376.2 1785.7,1617.0" stroke="#8c8c8c" stroke-opacity="0.55" stroke-width="4.2" fill="none"/>
<path d="M1785.4,996.1Q1743.9,1280.6 1718.3,1566.9" stroke="#8c8c8c" stroke-opacity="0.55" stroke-width="4.2" fill="none"/>
<path d="M1782.4,1137.0Q1708.6,1349.0 1654.8,1566.9" stroke="#8c8c8c" stroke-opacity="0.55" stroke-width="4.2" fill="none"/>
<path d="M1034.9,1188.3Q1164.7,1203.0 1295.0,1192.7" stroke="#8c8c8c" stroke-opacity="0.55" stroke-width="4.2" fill="none"/>
<path d="M1097.4,1125.8Q1164.8,1110.7 1232.8,1098.5" stroke="#8c8c8c" stroke-opacity="0.55" stroke-width="4.2" fill="none"/>
<path d="M1159.6,1125.8Q1198.1,1117.1 1232.8,1098.5" stroke="#8c8c8c" stroke-opacity="0.55" stroke-width="4.2" fill="none"/>
<path d="M1034.9,1125.8Q1195.9,1145.7 1357.5,1161.0" stroke="#8c8c8c" stroke-opacity="0.55" stroke-width="4.2" fill="none"/>
<path d="M1091.9,939.8Q1180.6,1062.2 1295.0,1161.0" stroke="#8c8c8c" stroke-opacity="0.55" stroke-width="4.2" fill="none"/>
<path d="M1091.9,1002.0Q1189.4,1027.0 1289.8,1035.1" stroke="#8c8c8c" stroke-opacity="0.55" stroke-width="4.2" fill="none"/>
<path d="M1154.4,1036.3Q1247.3,1125.0 1355.5,1194.1" stroke="#8c8c8c" stroke-opacity="0.55" stroke-width="4.2" fill="none"/>
<path d="M1289.8,1035.1Q1321.7,1083.9 1357.5,1129.9" stroke="#8c8c8c" stroke-opacity="0.55" stroke-width="4.2" fill="none"/>
<path d="M1155.9,1011.2Q1218.2,1107.5 1295.0,1192.7" stroke="#8c8c8c" stroke-opacity="0.55" stroke-width="4.2" fill="none"/>
<path d="M1159.6,1157.2Q1255.4,1187.3 1355.5,1194.1" stroke="#8c8c8c" stroke-opacity="0.55" stroke-width="4.2" fill="none"/>
<path d="M1352.3,1004.0Q1347.7,1082.7 1357.5,1161.0" stroke="#8c8c8c" stroke-opacity="0.55" stroke-width="4.2" fill="none"/>
<path d="M1350.9,923.4Q1316.4,1040.7 1295.0,1161.0" stroke="#8c8c8c" stroke-opacity="0.55" stroke-width="4.2" fill="none"/>
<path d="M1350.9,923.4Q1320.1,979.1 1289.8,1035.1" stroke="#8c8c8c" stroke-opacity="0.55" stroke-width="4.2" fill="none"/>
<path d="M1350.9,923.4Q1219.7,938.1 1091.9,970.9" stroke="#8c8c8c" stroke-opacity="0.55" stroke-width="4.2" fill="none"/>
<path d="M1657.2,916.0Q1690.9,921.0 1722.5,933.8" stroke="#8c8c8c" stroke-opacity="0.55" stroke-width="4.2" fill="none"/>
<path d="M1657.2,916.0Q1663.3,940.2 1660.2,965.0" stroke="#8c8c8c" stroke-opacity="0.55" stroke-width="4.2" fill="none"/>
<path d="M1657.2,916.0Q1696.7,950.7 1723.1,996.1" stroke="#8c8c8c" stroke-opacity="0.55" stroke-width="4.2" fill="none"/>
<path d="M1785.4,933.8Q1825.9,934.4 1866.4,935.9" stroke="#8c8c8c" stroke-opacity="0.55" stroke-width="4.2" fill="none"/>
<path d="M1785.4,996.1Q1778.5,1050.9 1782.4,1105.9" stroke="#8c8c8c" stroke-opacity="0.55" stroke-width="4.2" fill="none"/>
<path d="M1866.4,1029.6Q1782.8,1105.5 1720.1,1199.3" stroke="#8c8c8c" stroke-opacity="0.55" stroke-width="4.2" fill="none"/>
<path d="M1866.4,998.5Q1782.8,1074.3 1720.1,1168.2" stroke="#8c8c8c" stroke-opacity="0.55" stroke-width="4.2" fill="none"/>
<path d="M1926.6,1076.2Q1837.3,1161.2 1720.1,1199.3" stroke="#8c8c8c" stroke-opacity="0.55" stroke-width="4.2" fill="none"/>
<path d="M1864.3,1108.0Q1792.8,1139.7 1720.1,1168.2" stroke="#8c8c8c" stroke-opacity="0.55" stroke-width="4.2" fill="none"/>
<path d="M1722.5,1027.3Q1699.5,1087.9 1657.2,1137.0" stroke="#8c8c8c" stroke-opacity="0.55" stroke-width="4.2" fill="none"/>
<path d="M1660.2,996.1Q1651.4,1050.8 1657.2,1105.9" stroke="#8c8c8c" stroke-opacity="0.55" stroke-width="4.2" fill="none"/>
<path d="M1722.5,933.8Q1748.3,970.6 1785.4,996.1" stroke="#8c8c8c" stroke-opacity="0.55" stroke-width="4.2" fill="none"/>
<path d="M1772.2,1502.4Q1658.6,1438.4 1542.0,1379.8" stroke="#8c8c8c" stroke-opacity="0.55" stroke-width="4.2" fill="none"/>
<path d="M1772.2,1538.7Q1743.1,1524.9 1718.3,1504.2" stroke="#8c8c8c" stroke-opacity="0.55" stroke-width="4.2" fill="none"/>
<path d="M1785.7,1617.0Q1755.1,1573.8 1718.3,1535.8" stroke="#8c8c8c" stroke-opacity="0.55" stroke-width="4.2" fill="none"/>
<path d="M1722.9,1648.0Q1678.6,1537.0 1605.0,1442.8" stroke="#8c8c8c" stroke-opacity="0.55" stroke-width="4.2" fill="none"/>
<path d="M1269.4,1348.0Q1333.3,1359.1 1394.7,1379.7" stroke="#8c8c8c" stroke-opacity="0.55" stroke-width="4.2" fill="none"/>
<path d="M1332.2,1348.0Q1405.0,1321.0 1482.0,1310.5" stroke="#8c8c8c" stroke-opacity="0.55" stroke-width="4.2" fill="none"/>
<path d="M1332.2,1410.8Q1364.1,1380.0 1394.7,1348.0" stroke="#8c8c8c" stroke-opacity="0.55" stroke-width="4.2" fill="none"/>
<path d="M1173.8,1604.3Q1286.5,1494.2 1394.7,1379.7" stroke="#8c8c8c" stroke-opacity="0.55" stroke-width="4.2" fill="none"/>
<path d="M1173.8,1635.2Q1340.8,1485.1 1482.0,1310.5" stroke="#8c8c8c" stroke-opacity="0.55" stroke-width="4.2" fill="none"/>
<path d="M1222.7,1613.0Q1242.4,1541.9 1269.4,1473.3" stroke="#8c8c8c" stroke-opacity="0.55" stroke-width="4.2" fill="none"/>
<path d="M1269.4,1473.3Q1221.6,1523.3 1173.8,1573.2" stroke="#8c8c8c" stroke-opacity="0.55" stroke-width="4.2" fill="none"/>
<path d="M1091.9,939.8Q1243.2,1171.2 1482.0,1310.5" stroke="#666666" stroke-opacity="0.7" stroke-width="4.6" fill="none"/>
<path d="M1154.4,939.8Q1302.9,1242.6 1630.3,1323.6" stroke="#666666" stroke-opacity="0.7" stroke-width="4.6" fill="none"/>
<path d="M1154.4,970.9Q1267.4,1189.7 1482.0,1310.5" stroke="#666666" stroke-opacity="0.7" stroke-width="4.6" fill="none"/>
<path d="M1091.9,1002.0Q1244.4,1210.1 1482.0,1310.5" stroke="#666666" stroke-opacity="0.7" stroke-width="4.6" fill="none"/>
<path d="M1226.4,972.9Q1326.4,1210.7 1557.7,1325.0" stroke="#666666" stroke-opacity="0.7" stroke-width="4.6" fill="none"/>
<path d="M1289.8,972.9Q1402.9,1203.7 1630.3,1323.6" stroke="#666666" stroke-opacity="0.7" stroke-width="4.6" fill="none"/>
<path d="M1226.4,1004.0Q1336.1,1222.2 1557.7,1325.0" stroke="#666666" stroke-opacity="0.7" stroke-width="4.6" fill="none"/>
<path d="M1295.0,1161.0Q1440.0,1288.9 1630.3,1323.6" stroke="#666666" stroke-opacity="0.7" stroke-width="4.6" fill="none"/>
<path d="M1232.8,1192.7Q1403.4,1343.5 1630.3,1323.6" stroke="#666666" stroke-opacity="0.7" stroke-width="4.6" fill="none"/>
<path d="M1232.8,1098.5Q1400.7,1265.6 1630.3,1323.6" stroke="#666666" stroke-opacity="0.7" stroke-width="4.6" fill="none"/>
<path d="M1357.5,1129.9Q1410.3,1276.0 1557.7,1325.0" stroke="#666666" stroke-opacity="0.7" stroke-width="4.6" fill="none"/>
<path d="M1357.5,1129.9Q1376.0,1250.3 1482.0,1310.5" stroke="#666666" stroke-opacity="0.7" stroke-width="4.6" fill="none"/>
<path d="M1289.8,1035.1Q1425.1,1220.6 1630.3,1323.6" stroke="#666666" stroke-opacity="0.7" stroke-width="4.6" fill="none"/>
<path d="M1295.0,1098.5Q1432.9,1255.3 1630.3,1323.6" stroke="#666666" stroke-opacity="0.7" stroke-width="4.6" fill="none"/>
<path d="M1357.5,1161.0Q1453.9,1309.4 1630.3,1323.6" stroke="#666666" stroke-opacity="0.7" stroke-width="4.6" fill="none"/>
<path d="M1357.5,1161.0Q1392.8,1258.2 1482.0,1310.5" stroke="#666666" stroke-opacity="0.7" stroke-width="4.6" fill="none"/>
<path d="M1295.0,1192.7Q1432.7,1334.8 1630.3,1323.6" stroke="#666666" stroke-opacity="0.7" stroke-width="4.6" fill="none"/>
<path d="M1350.9,923.4Q1439.5,1159.2 1630.3,1323.6" stroke="#666666" stroke-opacity="0.7" stroke-width="4.6" fill="none"/>
<path d="M1350.9,923.4Q1354.6,1175.5 1557.7,1325.0" stroke="#666666" stroke-opacity="0.7" stroke-width="4.6" fill="none"/>
<path d="M1722.5,933.8Q1648.4,1151.6 1482.0,1310.5" stroke="#666666" stroke-opacity="0.7" stroke-width="4.6" fill="none"/>
<path d="M1660.2,1027.3Q1646.1,1216.1 1482.0,1310.5" stroke="#666666" stroke-opacity="0.7" stroke-width="4.6" fill="none"/>
<path d="M1722.5,1027.3Q1716.9,1218.7 1557.7,1325.0" stroke="#666666" stroke-opacity="0.7" stroke-width="4.6" fill="none"/>
<path d="M1866.4,935.9Q1860.8,1198.2 1630.3,1323.6" stroke="#666666" stroke-opacity="0.7" stroke-width="4.6" fill="none"/>
<path d="M1657.2,1074.7Q1608.5,1221.5 1482.0,1310.5" stroke="#666666" stroke-opacity="0.7" stroke-width="4.6" fill="none"/>
<path d="M1782.4,1105.9Q1674.5,1270.4 1482.0,1310.5" stroke="#666666" stroke-opacity="0.7" stroke-width="4.6" fill="none"/>
<path d="M1782.4,1105.9Q1722.5,1269.3 1557.7,1325.0" stroke="#666666" stroke-opacity="0.7" stroke-width="4.6" fill="none"/>
<path d="M1657.2,1137.0Q1608.7,1263.2 1482.0,1310.5" stroke="#666666" stroke-opacity="0.7" stroke-width="4.6" fill="none"/>
<path d="M1720.1,1137.0Q1700.1,1242.3 1630.3,1323.6" stroke="#666666" stroke-opacity="0.7" stroke-width="4.6" fill="none"/>
<path d="M1720.1,1168.2Q1633.6,1293.8 1482.0,1310.5" stroke="#666666" stroke-opacity="0.7" stroke-width="4.6" fill="none"/>
<path d="M1657.2,1199.3Q1591.8,1289.9 1482.0,1310.5" stroke="#666666" stroke-opacity="0.7" stroke-width="4.6" fill="none"/>
<path d="M1782.4,1199.3Q1660.2,1330.7 1482.0,1310.5" stroke="#666666" stroke-opacity="0.7" stroke-width="4.6" fill="none"/>
<path d="M1782.4,1199.3Q1727.4,1287.2 1630.3,1323.6" stroke="#666666" stroke-opacity="0.7" stroke-width="4.6" fill="none"/>
<path d="M1926.6,1076.2Q1764.2,1307.0 1482.0,1310.5" stroke="#666666" stroke-opacity="0.7" stroke-width="4.6" fill="none"/>
<path d="M1926.6,1139.1Q1739.8,1316.9 1482.0,1310.5" stroke="#666666" stroke-opacity="0.7" stroke-width="4.6" fill="none"/>
<path d="M1785.4,933.8Q1709.0,1182.8 1482.0,1310.5" stroke="#666666" stroke-opacity="0.7" stroke-width="4.6" fill="none"/>
<path d="M1785.4,996.1Q1800.8,1203.9 1630.3,1323.6" stroke="#666666" stroke-opacity="0.7" stroke-width="4.6" fill="none"/>
<path d="M1782.4,1168.2Q1658.7,1295.2 1482.0,1310.5" stroke="#666666" stroke-opacity="0.7" stroke-width="4.6" fill="none"/>
<path d="M1630.3,1323.6Q1649.2,1413.0 1654.8,1504.2" stroke="#666666" stroke-opacity="0.7" stroke-width="4.4" fill="none"/>
<path d="M1557.7,1325.0Q1649.9,1404.0 1718.3,1504.2" stroke="#666666" stroke-opacity="0.7" stroke-width="4.4" fill="none"/>
<path d="M1557.7,1325.0Q1672.6,1404.4 1772.2,1502.4" stroke="#666666" stroke-opacity="0.7" stroke-width="4.4" fill="none"/>
<path d="M1630.3,1323.6Q1656.9,1443.8 1654.8,1566.9" stroke="#666666" stroke-opacity="0.7" stroke-width="4.4" fill="none"/>
<path d="M1482.0,1310.5Q1612.1,1456.1 1722.9,1617.0" stroke="#666666" stroke-opacity="0.7" stroke-width="4.4" fill="none"/>
<path d="M1557.7,1325.0Q1656.0,1462.1 1722.9,1617.0" stroke="#666666" stroke-opacity="0.7" stroke-width="4.4" fill="none"/>
<path d="M1630.3,1323.6Q1672.2,1499.1 1662.0,1679.2" stroke="#666666" stroke-opacity="0.7" stroke-width="4.4" fill="none"/>
<path d="M1557.7,1325.0Q1690.6,1473.2 1785.7,1648.0" stroke="#666666" stroke-opacity="0.7" stroke-width="4.4" fill="none"/>
<path d="M1557.7,1325.0Q1666.1,1490.1 1722.9,1679.2" stroke="#666666" stroke-opacity="0.7" stroke-width="4.4" fill="none"/>
<path d="M1332.2,1348.0Q1404.1,1317.4 1482.0,1310.5" stroke="#666666" stroke-opacity="0.7" stroke-width="4.2" fill="none"/>
<path d="M1332.2,1410.8Q1399.2,1348.9 1482.0,1310.5" stroke="#666666" stroke-opacity="0.7" stroke-width="4.2" fill="none"/>
<path d="M1394.7,1410.8Q1434.1,1356.9 1482.0,1310.5" stroke="#666666" stroke-opacity="0.7" stroke-width="4.2" fill="none"/>
<path d="M1394.7,1410.8Q1507.8,1354.4 1630.3,1323.6" stroke="#666666" stroke-opacity="0.7" stroke-width="4.2" fill="none"/>
<path d="M1332.2,1441.6Q1473.6,1363.4 1630.3,1323.6" stroke="#666666" stroke-opacity="0.7" stroke-width="4.2" fill="none"/>
<path d="M1394.7,1441.6Q1440.5,1377.5 1482.0,1310.5" stroke="#666666" stroke-opacity="0.7" stroke-width="4.2" fill="none"/>
<path d="M1542.8,1442.8Q1509.2,1378.1 1482.0,1310.5" stroke="#666666" stroke-opacity="0.7" stroke-width="4.2" fill="none"/>
<path d="M1660.2,996.1Q1679.4,1323.2 1722.9,1648.0" stroke="#666666" stroke-opacity="0.7" stroke-width="4.2" fill="none"/>
<path d="M1657.2,1074.7Q1688.3,1353.7 1785.7,1617.0" stroke="#666666" stroke-opacity="0.7" stroke-width="4.2" fill="none"/>
<path d="M1722.5,1027.3Q1692.2,1353.3 1722.9,1679.2" stroke="#666666" stroke-opacity="0.7" stroke-width="4.2" fill="none"/>
<path d="M1657.2,1074.7Q1676.4,1347.5 1722.9,1617.0" stroke="#666666" stroke-opacity="0.7" stroke-width="4.2" fill="none"/>
<path d="M1034.9,1094.7Q1134.0,1127.5 1232.8,1161.0" stroke="#666666" stroke-opacity="0.7" stroke-width="4.2" fill="none"/>
<path d="M1034.9,1157.2Q1165.7,1169.5 1295.0,1192.7" stroke="#666666" stroke-opacity="0.7" stroke-width="4.2" fill="none"/>
<path d="M1097.4,1094.7Q1194.8,1132.0 1295.0,1161.0" stroke="#666666" stroke-opacity="0.7" stroke-width="4.2" fill="none"/>
<path d="M1091.9,939.8Q1190.8,933.3 1289.8,937.8" stroke="#666666" stroke-opacity="0.7" stroke-width="4.2" fill="none"/>
<path d="M1091.9,970.9Q1184.5,1061.9 1295.0,1129.9" stroke="#666666" stroke-opacity="0.7" stroke-width="4.2" fill="none"/>
<path d="M1226.4,972.9Q1257.1,1068.3 1295.0,1161.0" stroke="#666666" stroke-opacity="0.7" stroke-width="4.2" fill="none"/>
<path d="M1289.8,972.9Q1321.3,1083.9 1355.5,1194.1" stroke="#666666" stroke-opacity="0.7" stroke-width="4.2" fill="none"/>
<path d="M1352.3,972.9Q1315.7,1080.7 1295.0,1192.7" stroke="#666666" stroke-opacity="0.7" stroke-width="4.2" fill="none"/>
<path d="M1350.9,923.4Q1325.8,1027.4 1295.0,1129.9" stroke="#666666" stroke-opacity="0.7" stroke-width="4.2" fill="none"/>
<path d="M1657.2,916.0Q1659.7,995.4 1657.2,1074.7" stroke="#666666" stroke-opacity="0.7" stroke-width="4.2" fill="none"/>
<path d="M1928.7,935.9Q1833.9,1032.5 1720.1,1105.9" stroke="#666666" stroke-opacity="0.7" stroke-width="4.2" fill="none"/>
<path d="M1928.7,935.9Q1897.6,939.7 1866.4,935.9" stroke="#666666" stroke-opacity="0.7" stroke-width="4.2" fill="none"/>
<path d="M1722.5,965.0Q1734.4,1020.1 1720.1,1074.7" stroke="#666666" stroke-opacity="0.7" stroke-width="4.2" fill="none"/>
<path d="M1722.9,1679.2Q1666.4,1544.2 1605.0,1411.4" stroke="#666666" stroke-opacity="0.7" stroke-width="4.2" fill="none"/>
<path d="M1785.7,1648.0Q1756.9,1603.3 1718.3,1566.9" stroke="#666666" stroke-opacity="0.7" stroke-width="4.2" fill="none"/>
<path d="M1332.2,1379.7Q1363.5,1381.2 1394.7,1379.7" stroke="#666666" stroke-opacity="0.7" stroke-width="4.2" fill="none"/>
<path d="M1155.9,1011.2Q1293.8,1248.8 1557.7,1325.0" stroke="#404040" stroke-opacity="0.8" stroke-width="4.6" fill="none"/>
<path d="M1289.8,1004.0Q1417.2,1209.5 1630.3,1323.6" stroke="#404040" stroke-opacity="0.8" stroke-width="4.6" fill="none"/>
<path d="M1357.5,1098.5Q1375.1,1230.7 1482.0,1310.5" stroke="#404040" stroke-opacity="0.8" stroke-width="4.6" fill="none"/>
<path d="M1657.2,916.0Q1671.2,1158.4 1482.0,1310.5" stroke="#404040" stroke-opacity="0.8" stroke-width="4.6" fill="none"/>
<path d="M1722.5,965.0Q1675.6,1188.8 1482.0,1310.5" stroke="#404040" stroke-opacity="0.8" stroke-width="4.6" fill="none"/>
<path d="M1722.5,965.0Q1735.3,1188.6 1557.7,1325.0" stroke="#404040" stroke-opacity="0.8" stroke-width="4.6" fill="none"/>
<path d="M1660.2,1027.3Q1684.6,1202.2 1557.7,1325.0" stroke="#404040" stroke-opacity="0.8" stroke-width="4.6" fill="none"/>
<path d="M1785.4,1027.3Q1671.3,1209.2 1482.0,1310.5" stroke="#404040" stroke-opacity="0.8" stroke-width="4.6" fill="none"/>
<path d="M1928.7,998.5Q1861.7,1236.5 1630.3,1323.6" stroke="#404040" stroke-opacity="0.8" stroke-width="4.6" fill="none"/>
<path d="M1720.1,1074.7Q1656.4,1248.5 1482.0,1310.5" stroke="#404040" stroke-opacity="0.8" stroke-width="4.6" fill="none"/>
<path d="M1657.2,1168.2Q1652.7,1275.3 1557.7,1325.0" stroke="#404040" stroke-opacity="0.8" stroke-width="4.6" fill="none"/>
<path d="M1782.4,1199.3Q1696.5,1309.5 1557.7,1325.0" stroke="#404040" stroke-opacity="0.8" stroke-width="4.6" fill="none"/>
<path d="M1864.3,1139.1Q1763.9,1319.2 1557.7,1325.0" stroke="#404040" stroke-opacity="0.8" stroke-width="4.6" fill="none"/>
<path d="M1864.3,1170.6Q1751.8,1328.9 1557.7,1325.0" stroke="#404040" stroke-opacity="0.8" stroke-width="4.6" fill="none"/>
<path d="M1660.2,996.1Q1645.8,1195.7 1482.0,1310.5" stroke="#404040" stroke-opacity="0.8" stroke-width="4.6" fill="none"/>
<path d="M1660.2,996.1Q1709.8,1165.7 1630.3,1323.6" stroke="#404040" stroke-opacity="0.8" stroke-width="4.6" fill="none"/>
<path d="M1723.1,996.1Q1666.4,1202.3 1482.0,1310.5" stroke="#404040" stroke-opacity="0.8" stroke-width="4.6" fill="none"/>
<path d="M1723.1,996.1Q1705.4,1193.3 1557.7,1325.0" stroke="#404040" stroke-opacity="0.8" stroke-width="4.6" fill="none"/>
<path d="M1482.0,1310.5Q1638.4,1389.3 1772.2,1502.4" stroke="#404040" stroke-opacity="0.8" stroke-width="4.4" fill="none"/>
<path d="M1482.0,1310.5Q1570.0,1421.9 1654.8,1535.8" stroke="#404040" stroke-opacity="0.8" stroke-width="4.4" fill="none"/>
<path d="M1482.0,1310.5Q1663.1,1470.8 1785.7,1679.2" stroke="#404040" stroke-opacity="0.8" stroke-width="4.4" fill="none"/>
<path d="M1557.7,1325.0Q1680.8,1496.2 1785.7,1679.2" stroke="#404040" stroke-opacity="0.8" stroke-width="4.4" fill="none"/>
<path d="M1630.3,1323.6Q1728.1,1476.2 1785.7,1648.0" stroke="#404040" stroke-opacity="0.8" stroke-width="4.4" fill="none"/>
<path d="M1394.7,1379.7Q1438.6,1345.4 1482.0,1310.5" stroke="#404040" stroke-opacity="0.8" stroke-width="4.2" fill="none"/>
<path d="M1394.7,1379.7Q1479.3,1361.6 1557.7,1325.0" stroke="#404040" stroke-opacity="0.8" stroke-width="4.2" fill="none"/>
<path d="M1332.2,1441.6Q1416.3,1386.5 1482.0,1310.5" stroke="#404040" stroke-opacity="0.8" stroke-width="4.2" fill="none"/>
<path d="M1269.4,1379.7Q1369.4,1325.7 1482.0,1310.5" stroke="#404040" stroke-opacity="0.8" stroke-width="4.2" fill="none"/>
<path d="M1479.8,1473.9Q1488.9,1392.3 1482.0,1310.5" stroke="#404040" stroke-opacity="0.8" stroke-width="4.2" fill="none"/>
<path d="M1097.4,1157.2Q1163.5,1181.1 1232.8,1192.7" stroke="#404040" stroke-opacity="0.8" stroke-width="4.2" fill="none"/>
<path d="M1159.6,1125.8Q1224.0,1165.9 1295.0,1192.7" stroke="#404040" stroke-opacity="0.8" stroke-width="4.2" fill="none"/>
<path d="M1154.4,939.8Q1255.6,1050.8 1357.5,1161.0" stroke="#404040" stroke-opacity="0.8" stroke-width="4.2" fill="none"/>
<path d="M1154.4,970.9Q1233.9,1076.0 1295.0,1192.7" stroke="#404040" stroke-opacity="0.8" stroke-width="4.2" fill="none"/>
<path d="M1226.4,1004.0Q1291.6,1082.8 1357.5,1161.0" stroke="#404040" stroke-opacity="0.8" stroke-width="4.2" fill="none"/>
<path d="M1159.6,1094.7Q1227.3,1096.6 1295.0,1098.5" stroke="#404040" stroke-opacity="0.8" stroke-width="4.2" fill="none"/>
<path d="M1226.4,1035.1Q1290.9,1084.0 1357.5,1129.9" stroke="#404040" stroke-opacity="0.8" stroke-width="4.2" fill="none"/>
<path d="M1289.8,937.8Q1280.7,1018.5 1295.0,1098.5" stroke="#404040" stroke-opacity="0.8" stroke-width="4.2" fill="none"/>
<path d="M1926.6,1139.1Q1857.3,1175.9 1782.4,1199.3" stroke="#404040" stroke-opacity="0.8" stroke-width="4.2" fill="none"/>
<path d="M1723.1,996.1Q1692.8,1083.2 1657.2,1168.2" stroke="#404040" stroke-opacity="0.8" stroke-width="4.2" fill="none"/>
<path d="M1785.4,965.0Q1736.2,1044.7 1720.1,1137.0" stroke="#404040" stroke-opacity="0.8" stroke-width="4.2" fill="none"/>
<path d="M1722.5,965.0Q1746.5,1003.7 1785.4,1027.3" stroke="#404040" stroke-opacity="0.8" stroke-width="4.2" fill="none"/>
<path d="M1785.7,1679.2Q1683.1,1527.8 1542.0,1411.4" stroke="#404040" stroke-opacity="0.8" stroke-width="4.2" fill="none"/>
<path d="M1722.9,1617.0Q1680.3,1565.8 1654.8,1504.2" stroke="#404040" stroke-opacity="0.8" stroke-width="4.2" fill="none"/>
<path d="M1785.7,1617.0Q1811.5,1407.9 1782.4,1199.3" stroke="#404040" stroke-opacity="0.8" stroke-width="4.2" fill="none"/>
<path d="M1772.2,1502.4Q1774.9,1319.6 1782.4,1137.0" stroke="#404040" stroke-opacity="0.8" stroke-width="4.2" fill="none"/>
<path d="M1269.4,1379.7Q1300.8,1378.6 1332.2,1379.7" stroke="#404040" stroke-opacity="0.8" stroke-width="4.2" fill="none"/>
<path d="M1332.2,1441.6Q1365.1,1412.3 1394.7,1379.7" stroke="#404040" stroke-opacity="0.8" stroke-width="4.2" fill="none"/>
<path d="M1173.8,1573.2Q1278.3,1497.4 1394.7,1441.6" stroke="#404040" stroke-opacity="0.8" stroke-width="4.2" fill="none"/>
<path d="M1111.0,1604.3Q1143.0,1590.0 1173.8,1573.2" stroke="#404040" stroke-opacity="0.8" stroke-width="4.2" fill="none"/>
<path d="M1111.0,1604.3Q1242.2,1492.0 1394.7,1410.8" stroke="#404040" stroke-opacity="0.8" stroke-width="4.2" fill="none"/>
<path d="M1222.7,1581.9Q1343.3,1437.5 1482.0,1310.5" stroke="#404040" stroke-opacity="0.8" stroke-width="4.2" fill="none"/>
<path d="M1657.2,916.0Q1506.2,1008.5 1350.9,923.4" stroke="#404040" stroke-opacity="0.8" stroke-width="4.6" fill="none"/>
<path d="M1091.9,939.8Q1279.0,1246.8 1630.3,1323.6" stroke="#1a1a1a" stroke-opacity="0.85" stroke-width="4.6" fill="none"/>
<path d="M1154.4,970.9Q1282.2,1232.0 1557.7,1325.0" stroke="#1a1a1a" stroke-opacity="0.85" stroke-width="4.6" fill="none"/>
<path d="M1091.9,1002.0Q1296.0,1271.9 1630.3,1323.6" stroke="#1a1a1a" stroke-opacity="0.85" stroke-width="4.6" fill="none"/>
<path d="M1155.9,1011.2Q1312.7,1289.5 1630.3,1323.6" stroke="#1a1a1a" stroke-opacity="0.85" stroke-width="4.6" fill="none"/>
<path d="M1226.4,972.9Q1383.2,1200.2 1630.3,1323.6" stroke="#1a1a1a" stroke-opacity="0.85" stroke-width="4.6" fill="none"/>
<path d="M1226.4,1035.1Q1383.4,1242.3 1630.3,1323.6" stroke="#1a1a1a" stroke-opacity="0.85" stroke-width="4.6" fill="none"/>
<path d="M1352.3,1035.1Q1452.4,1216.9 1630.3,1323.6" stroke="#1a1a1a" stroke-opacity="0.85" stroke-width="4.6" fill="none"/>
<path d="M1232.8,1161.0Q1377.9,1277.3 1557.7,1325.0" stroke="#1a1a1a" stroke-opacity="0.85" stroke-width="4.6" fill="none"/>
<path d="M1232.8,1161.0Q1326.0,1288.1 1482.0,1310.5" stroke="#1a1a1a" stroke-opacity="0.85" stroke-width="4.6" fill="none"/>
<path d="M1350.9,923.4Q1369.4,1132.9 1482.0,1310.5" stroke="#1a1a1a" stroke-opacity="0.85" stroke-width="4.6" fill="none"/>
<path d="M1720.1,1074.7Q1722.4,1216.2 1630.3,1323.6" stroke="#1a1a1a" stroke-opacity="0.85" stroke-width="4.6" fill="none"/>
<path d="M1720.1,1137.0Q1649.9,1290.8 1482.0,1310.5" stroke="#1a1a1a" stroke-opacity="0.85" stroke-width="4.6" fill="none"/>
<path d="M1720.1,1168.2Q1703.8,1262.4 1630.3,1323.6" stroke="#1a1a1a" stroke-opacity="0.85" stroke-width="4.6" fill="none"/>
<path d="M1926.6,1108.0Q1728.9,1263.4 1482.0,1310.5" stroke="#1a1a1a" stroke-opacity="0.85" stroke-width="4.6" fill="none"/>
<path d="M1926.6,1108.0Q1808.3,1256.8 1630.3,1323.6" stroke="#1a1a1a" stroke-opacity="0.85" stroke-width="4.6" fill="none"/>
<path d="M1557.7,1325.0Q1647.2,1423.4 1718.3,1535.8" stroke="#1a1a1a" stroke-opacity="0.85" stroke-width="4.4" fill="none"/>
<path d="M1482.0,1310.5Q1593.8,1467.6 1662.0,1648.0" stroke="#1a1a1a" stroke-opacity="0.85" stroke-width="4.4" fill="none"/>
<path d="M1482.0,1310.5Q1624.7,1480.3 1722.9,1679.2" stroke="#1a1a1a" stroke-opacity="0.85" stroke-width="4.4" fill="none"/>
<path d="M1630.3,1323.6Q1682.2,1499.9 1722.9,1679.2" stroke="#1a1a1a" stroke-opacity="0.85" stroke-width="4.4" fill="none"/>
<path d="M1657.2,916.0Q1679.3,1057.7 1657.2,1199.3" stroke="#1a1a1a" stroke-opacity="0.85" stroke-width="4.2" fill="none"/>
<path d="M1785.4,933.8Q1784.8,949.4 1785.4,965.0" stroke="#1a1a1a" stroke-opacity="0.85" stroke-width="4.2" fill="none"/>
<path d="M1785.4,996.1Q1828.5,969.5 1866.4,935.9" stroke="#1a1a1a" stroke-opacity="0.85" stroke-width="4.2" fill="none"/>
<path d="M1928.7,967.0Q1865.4,1034.3 1782.4,1074.7" stroke="#1a1a1a" stroke-opacity="0.85" stroke-width="4.2" fill="none"/>
<path d="M1864.3,1170.6Q1763.8,1206.8 1657.2,1199.3" stroke="#1a1a1a" stroke-opacity="0.85" stroke-width="4.2" fill="none"/>
<path d="M1785.4,1027.3Q1786.2,1097.8 1782.4,1168.2" stroke="#1a1a1a" stroke-opacity="0.85" stroke-width="4.2" fill="none"/>
<path d="M1660.2,965.0Q1668.1,1051.2 1657.2,1137.0" stroke="#1a1a1a" stroke-opacity="0.85" stroke-width="4.2" fill="none"/>
<path d="M1782.4,1168.2Q1718.5,1178.5 1657.2,1199.3" stroke="#1a1a1a" stroke-opacity="0.85" stroke-width="4.2" fill="none"/>
<path d="M1785.7,1648.0Q1688.2,1491.8 1542.0,1379.8" stroke="#1a1a1a" stroke-opacity="0.85" stroke-width="4.2" fill="none"/>
<path d="M1662.0,1617.0Q1660.5,1591.7 1654.8,1566.9" stroke="#1a1a1a" stroke-opacity="0.85" stroke-width="4.2" fill="none"/>
<path d="M1654.8,1535.8Q1588.5,1482.6 1542.0,1411.4" stroke="#1a1a1a" stroke-opacity="0.85" stroke-width="4.2" fill="none"/>
<path d="M1785.7,1679.2Q1782.5,1435.2 1720.1,1199.3" stroke="#1a1a1a" stroke-opacity="0.85" stroke-width="4.2" fill="none"/>
<path d="M1482.0,1310.5Q1348.3,1140.0 1350.9,923.4" stroke="#FF5555" stroke-width="4.2" fill="none"/>
<path d="M1482.0,1310.5Q1585.4,1120.3 1657.2,916.0" stroke="#FF5555" stroke-width="4.2" fill="none"/>
<path d="M1482.0,1310.5Q1438.3,1376.0 1394.7,1441.6" stroke="#FF5555" stroke-width="4.2" fill="none"/>
<path d="M1482.0,1310.5Q1516.9,1332.9 1557.7,1325.0" stroke="#FF5555" stroke-width="4.2" fill="none"/>
<path d="M1557.7,1325.0Q1594.0,1324.3 1630.3,1323.6" stroke="#6b1e22" stroke-width="5" fill="none"/>
<circle cx="1091.9" cy="939.8" r="15.6" fill="#F7E523"/>
<circle cx="1154.4" cy="939.8" r="15.6" fill="#F7E523"/>
<circle cx="1091.9" cy="970.9" r="15.6" fill="#F7E523"/>
<circle cx="1154.4" cy="970.9" r="15.6" fill="#F7E523"/>
<circle cx="1091.9" cy="1002" r="15.6" fill="#F7E523"/>
<circle cx="1155.9" cy="1011.2" r="15.6" fill="#F7E523"/>
<circle cx="1154.4" cy="1036.3" r="15.6" fill="#F7E523"/>
<circle cx="1289.8" cy="937.8" r="15.6" fill="#F7E523"/>
<circle cx="1226.4" cy="972.9" r="15.6" fill="#F7E523"/>
<circle cx="1289.8" cy="972.9" r="15.6" fill="#F7E523"/>
<circle cx="1352.3" cy="972.9" r="15.6" fill="#F7E523"/>
<circle cx="1226.4" cy="1004" r="15.6" fill="#F7E523"/>
<circle cx="1289.8" cy="1004" r="15.6" fill="#F7E523"/>
<circle cx="1352.3" cy="1004" r="15.6" fill="#F7E523"/>
<circle cx="1226.4" cy="1035.1" r="15.6" fill="#F7E523"/>
<circle cx="1352.3" cy="1035.1" r="15.6" fill="#F7E523"/>
<circle cx="1034.9" cy="1094.7" r="15.6" fill="#F7E523"/>
<circle cx="1097.4" cy="1094.7" r="15.6" fill="#F7E523"/>
<circle cx="1159.6" cy="1094.7" r="15.6" fill="#F7E523"/>
<circle cx="1034.9" cy="1125.8" r="15.6" fill="#F7E523"/>
<circle cx="1097.4" cy="1125.8" r="15.6" fill="#F7E523"/>
<circle cx="1034.9" cy="1157.2" r="15.6" fill="#F7E523"/>
<circle cx="1097.4" cy="1157.2" r="15.6" fill="#F7E523"/>
<circle cx="1159.6" cy="1157.2" r="15.6" fill="#F7E523"/>
<circle cx="1034.9" cy="1188.3" r="15.6" fill="#F7E523"/>
<circle cx="1357.5" cy="1098.5" r="15.6" fill="#F7E523"/>
<circle cx="1232.8" cy="1129.9" r="15.6" fill="#F7E523"/>
<circle cx="1295" cy="1129.9" r="15.6" fill="#F7E523"/>
<circle cx="1232.8" cy="1161" r="15.6" fill="#F7E523"/>
<circle cx="1295" cy="1161" r="15.6" fill="#F7E523"/>
<circle cx="1232.8" cy="1192.7" r="15.6" fill="#F7E523"/>
<circle cx="1355.5" cy="1194.1" r="15.6" fill="#F7E523"/>
<circle cx="1159.6" cy="1125.8" r="16.5" fill="#E6DF2C"/>
<circle cx="1232.8" cy="1098.5" r="16.5" fill="#E6DF2C"/>
<circle cx="1357.5" cy="1129.9" r="16.5" fill="#E6DF2C"/>
<circle cx="1289.8" cy="1035.1" r="18.5" fill="#B9CC40"/>
<circle cx="1295" cy="1098.5" r="19.7" fill="#B9CC40"/>
<circle cx="1357.5" cy="1161" r="19" fill="#B9CC40"/>
<circle cx="1295" cy="1192.7" r="19.5" fill="#B9CC40"/>
<circle cx="1350.9" cy="923.4" r="25.8" fill="#5DA95E"/>
<circle cx="1657.2" cy="916" r="29" fill="#48A474"/>
<circle cx="1722.5" cy="933.8" r="15.6" fill="#F7E523"/>
<circle cx="1660.2" cy="965" r="15.6" fill="#F7E523"/>
<circle cx="1722.5" cy="965" r="15.6" fill="#F7E523"/>
<circle cx="1785.4" cy="965" r="15.6" fill="#F7E523"/>
<circle cx="1660.2" cy="1027.3" r="15.6" fill="#F7E523"/>
<circle cx="1722.5" cy="1027.3" r="15.6" fill="#F7E523"/>
<circle cx="1785.4" cy="1027.3" r="15.6" fill="#F7E523"/>
<circle cx="1866.4" cy="935.9" r="15.6" fill="#F7E523"/>
<circle cx="1866.4" cy="967" r="15.6" fill="#F7E523"/>
<circle cx="1928.7" cy="967" r="15.6" fill="#F7E523"/>
<circle cx="1866.4" cy="998.5" r="15.6" fill="#F7E523"/>
<circle cx="1928.7" cy="998.5" r="15.6" fill="#F7E523"/>
<circle cx="1928.7" cy="1029.6" r="15.6" fill="#F7E523"/>
<circle cx="1657.2" cy="1074.7" r="15.6" fill="#F7E523"/>
<circle cx="1720.1" cy="1074.7" r="15.6" fill="#F7E523"/>
<circle cx="1782.4" cy="1074.7" r="15.6" fill="#F7E523"/>
<circle cx="1657.2" cy="1105.9" r="15.6" fill="#F7E523"/>
<circle cx="1720.1" cy="1105.9" r="15.6" fill="#F7E523"/>
<circle cx="1782.4" cy="1105.9" r="15.6" fill="#F7E523"/>
<circle cx="1657.2" cy="1137" r="15.6" fill="#F7E523"/>
<circle cx="1720.1" cy="1137" r="15.6" fill="#F7E523"/>
<circle cx="1782.4" cy="1137" r="15.6" fill="#F7E523"/>
<circle cx="1657.2" cy="1168.2" r="15.6" fill="#F7E523"/>
<circle cx="1720.1" cy="1168.2" r="15.6" fill="#F7E523"/>
<circle cx="1657.2" cy="1199.3" r="15.6" fill="#F7E523"/>
<circle cx="1720.1" cy="1199.3" r="15.6" fill="#F7E523"/>
<circle cx="1782.4" cy="1199.3" r="15.6" fill="#F7E523"/>
<circle cx="1864.3" cy="1076.2" r="15.6" fill="#F7E523"/>
<circle cx="1926.6" cy="1076.2" r="15.6" fill="#F7E523"/>
<circle cx="1864.3" cy="1108" r="15.6" fill="#F7E523"/>
<circle cx="1926.6" cy="1108" r="15.6" fill="#F7E523"/>
<circle cx="1864.3" cy="1139.1" r="15.6" fill="#F7E523"/>
<circle cx="1926.6" cy="1139.1" r="15.6" fill="#F7E523"/>
<circle cx="1864.3" cy="1170.6" r="15.6" fill="#F7E523"/>
<circle cx="1785.4" cy="933.8" r="20.5" fill="#B9CC40"/>
<circle cx="1660.2" cy="996.1" r="19" fill="#D3D835"/>
<circle cx="1723.1" cy="996.1" r="21" fill="#B9CC40"/>
<circle cx="1785.4" cy="996.1" r="19" fill="#D3D835"/>
<circle cx="1928.7" cy="935.9" r="18" fill="#D3D835"/>
<circle cx="1866.4" cy="1029.6" r="16.5" fill="#E6DF2C"/>
<circle cx="1782.4" cy="1168.2" r="17.5" fill="#D3D835"/>
<circle cx="1482" cy="1310.5" r="48.5" fill="#430453"/>
<circle cx="1557.7" cy="1325" r="29" fill="#48A474"/>
<circle cx="1630.3" cy="1323.6" r="32.8" fill="#1F8A8A"/>
<circle cx="1269.4" cy="1348" r="15.6" fill="#F7E523"/>
<circle cx="1332.2" cy="1348" r="15.6" fill="#F7E523"/>
<circle cx="1394.7" cy="1348" r="15.6" fill="#F7E523"/>
<circle cx="1332.2" cy="1379.7" r="15.6" fill="#F7E523"/>
<circle cx="1394.7" cy="1379.7" r="15.6" fill="#F7E523"/>
<circle cx="1269.4" cy="1410.8" r="15.6" fill="#F7E523"/>
<circle cx="1332.2" cy="1410.8" r="15.6" fill="#F7E523"/>
<circle cx="1394.7" cy="1410.8" r="15.6" fill="#F7E523"/>
<circle cx="1269.4" cy="1441.6" r="15.6" fill="#F7E523"/>
<circle cx="1332.2" cy="1441.6" r="15.6" fill="#F7E523"/>
<circle cx="1269.4" cy="1473.3" r="15.6" fill="#F7E523"/>
<circle cx="1479.8" cy="1379.8" r="16.5" fill="#E6DF2C"/>
<circle cx="1542" cy="1379.8" r="15.6" fill="#F7E523"/>
<circle cx="1605" cy="1379.8" r="15.6" fill="#F7E523"/>
<circle cx="1479.8" cy="1411.4" r="15.6" fill="#F7E523"/>
<circle cx="1542" cy="1411.4" r="15.6" fill="#F7E523"/>
<circle cx="1605" cy="1411.4" r="15.6" fill="#F7E523"/>
<circle cx="1479.8" cy="1442.8" r="15.6" fill="#F7E523"/>
<circle cx="1605" cy="1442.8" r="15.6" fill="#F7E523"/>
<circle cx="1479.8" cy="1473.9" r="15.6" fill="#F7E523"/>
<circle cx="1540.7" cy="1477" r="15.6" fill="#F7E523"/>
<circle cx="1269.4" cy="1379.7" r="16.5" fill="#E6DF2C"/>
<circle cx="1394.7" cy="1441.6" r="21.6" fill="#B9CC40"/>
<circle cx="1542.8" cy="1442.8" r="19.4" fill="#B9CC40"/>
<circle cx="1111" cy="1573.2" r="15.6" fill="#F7E523"/>
<circle cx="1173.8" cy="1573.2" r="15.6" fill="#F7E523"/>
<circle cx="1222.7" cy="1581.9" r="15.6" fill="#F7E523"/>
<circle cx="1173.8" cy="1604.3" r="15.6" fill="#F7E523"/>
<circle cx="1222.7" cy="1613" r="15.6" fill="#F7E523"/>
<circle cx="1111" cy="1635.2" r="15.6" fill="#F7E523"/>
<circle cx="1173.8" cy="1635.2" r="15.6" fill="#F7E523"/>
<circle cx="1111" cy="1604.3" r="16" fill="#E6DF2C"/>
<circle cx="1654.8" cy="1504.2" r="15.6" fill="#F7E523"/>
<circle cx="1718.3" cy="1504.2" r="15.6" fill="#F7E523"/>
<circle cx="1772.2" cy="1502.4" r="15.6" fill="#F7E523"/>
<circle cx="1654.8" cy="1535.8" r="15.6" fill="#F7E523"/>
<circle cx="1718.3" cy="1535.8" r="15.6" fill="#F7E523"/>
<circle cx="1772.2" cy="1538.7" r="15.6" fill="#F7E523"/>
<circle cx="1654.8" cy="1566.9" r="15.6" fill="#F7E523"/>
<circle cx="1718.3" cy="1566.9" r="15.6" fill="#F7E523"/>
<circle cx="1662" cy="1617" r="15.6" fill="#F7E523"/>
<circle cx="1722.9" cy="1617" r="15.6" fill="#F7E523"/>
<circle cx="1785.7" cy="1617" r="15.6" fill="#F7E523"/>
<circle cx="1662" cy="1648" r="15.6" fill="#F7E523"/>
<circle cx="1722.9" cy="1648" r="15.6" fill="#F7E523"/>
<circle cx="1662" cy="1679.2" r="15.6" fill="#F7E523"/>
<circle cx="1785.7" cy="1679.2" r="15.6" fill="#F7E523"/>
<circle cx="1785.7" cy="1648" r="17.5" fill="#D3D835"/>
<circle cx="1722.9" cy="1679.2" r="17.5" fill="#D3D835"/>
<text x="1091.9" y="944.5" font-size="13.3" fill="#000" text-anchor="middle">YA-13</text>
<text x="1154.4" y="944.5" font-size="13.3" fill="#000" text-anchor="middle">YA-14</text>
<text x="1091.9" y="975.6" font-size="13.3" fill="#000" text-anchor="middle">YA-16</text>
<text x="1154.4" y="975.6" font-size="13.3" fill="#000" text-anchor="middle">YA-29</text>
<text x="1091.9" y="1006.7" font-size="13.3" fill="#000" text-anchor="middle">YA-22</text>
<text x="1155.9" y="1015.9" font-size="13.3" fill="#000" text-anchor="middle">YF-14</text>
<text x="1154.4" y="1041.0" font-size="13.3" fill="#000" text-anchor="middle">YF-6</text>
<text x="1289.8" y="942.5" font-size="13.3" fill="#000" text-anchor="middle">WYS-24</text>
<text x="1226.4" y="977.6" font-size="13.3" fill="#000" text-anchor="middle">WYS-11</text>
<text x="1289.8" y="977.6" font-size="13.3" fill="#000" text-anchor="middle">WYS-7</text>
<text x="1352.3" y="977.6" font-size="13.3" fill="#000" text-anchor="middle">WYS-22</text>
<text x="1226.4" y="1008.7" font-size="13.3" fill="#000" text-anchor="middle">WYS-27</text>
<text x="1289.8" y="1008.7" font-size="13.3" fill="#000" text-anchor="middle">WYS-26</text>
<text x="1352.3" y="1008.7" font-size="13.3" fill="#000" text-anchor="middle">WYS-1</text>
<text x="1226.4" y="1039.8" font-size="13.3" fill="#000" text-anchor="middle">WYS-10</text>
<text x="1352.3" y="1039.8" font-size="13.3" fill="#000" text-anchor="middle">WYS-30</text>
<text x="1034.9" y="1099.4" font-size="13.3" fill="#000" text-anchor="middle">LY-28</text>
<text x="1097.4" y="1099.4" font-size="13.3" fill="#000" text-anchor="middle">LY-19</text>
<text x="1159.6" y="1099.4" font-size="13.3" fill="#000" text-anchor="middle">LY-2</text>
<text x="1034.9" y="1130.5" font-size="13.3" fill="#000" text-anchor="middle">LY-23</text>
<text x="1097.4" y="1130.5" font-size="13.3" fill="#000" text-anchor="middle">LY-25</text>
<text x="1034.9" y="1161.9" font-size="13.3" fill="#000" text-anchor="middle">LY-27</text>
<text x="1097.4" y="1161.9" font-size="13.3" fill="#000" text-anchor="middle">LY-1</text>
<text x="1159.6" y="1161.9" font-size="13.3" fill="#000" text-anchor="middle">LY-6</text>
<text x="1034.9" y="1193.0" font-size="13.3" fill="#000" text-anchor="middle">LY-17</text>
<text x="1357.5" y="1103.2" font-size="13.3" fill="#000" text-anchor="middle">XN-12</text>
<text x="1232.8" y="1134.6" font-size="13.3" fill="#000" text-anchor="middle">XN-7</text>
<text x="1295" y="1134.6" font-size="13.3" fill="#000" text-anchor="middle">XN-21</text>
<text x="1232.8" y="1165.7" font-size="13.3" fill="#000" text-anchor="middle">XN-27</text>
<text x="1295" y="1165.7" font-size="13.3" fill="#000" text-anchor="middle">XN-14</text>
<text x="1232.8" y="1197.4" font-size="13.3" fill="#000" text-anchor="middle">XN-22</text>
<text x="1355.5" y="1198.8" font-size="13.3" fill="#000" text-anchor="middle">XN-13</text>
<text x="1159.6" y="1130.5" font-size="13.3" fill="#000" text-anchor="middle">LY-22</text>
<text x="1232.8" y="1103.2" font-size="13.3" fill="#000" text-anchor="middle">XN-5</text>
<text x="1357.5" y="1134.6" font-size="13.3" fill="#000" text-anchor="middle">XN-29</text>
<text x="1289.8" y="1039.8" font-size="13.3" fill="#000" text-anchor="middle">WYS-16</text>
<text x="1295" y="1103.2" font-size="13.3" fill="#000" text-anchor="middle">XN-19</text>
<text x="1357.5" y="1165.7" font-size="13.3" fill="#000" text-anchor="middle">XN-6</text>
<text x="1295" y="1197.4" font-size="13.3" fill="#000" text-anchor="middle">XN-3</text>
<text x="1350.9" y="928.1" font-size="13.3" fill="#000" text-anchor="middle">WYS-13</text>
<text x="1657.2" y="920.7" font-size="13.3" fill="#000" text-anchor="middle">HS-22</text>
<text x="1722.5" y="938.5" font-size="13.3" fill="#000" text-anchor="middle">HS-26</text>
<text x="1660.2" y="969.7" font-size="13.3" fill="#000" text-anchor="middle">HS-12</text>
<text x="1722.5" y="969.7" font-size="13.3" fill="#000" text-anchor="middle">HS-17</text>
<text x="1785.4" y="969.7" font-size="13.3" fill="#000" text-anchor="middle">HS-9</text>
<text x="1660.2" y="1032.0" font-size="13.3" fill="#000" text-anchor="middle">HS-25</text>
<text x="1722.5" y="1032.0" font-size="13.3" fill="#000" text-anchor="middle">HS-14</text>
<text x="1785.4" y="1032.0" font-size="13.3" fill="#000" text-anchor="middle">HS-29</text>
<text x="1866.4" y="940.6" font-size="13.3" fill="#000" text-anchor="middle">AJ-12</text>
<text x="1866.4" y="971.7" font-size="13.3" fill="#000" text-anchor="middle">AJ-25</text>
<text x="1928.7" y="971.7" font-size="13.3" fill="#000" text-anchor="middle">AJ-18</text>
<text x="1866.4" y="1003.2" font-size="13.3" fill="#000" text-anchor="middle">AJ-15</text>
<text x="1928.7" y="1003.2" font-size="13.3" fill="#000" text-anchor="middle">AJ-1</text>
<text x="1928.7" y="1034.3" font-size="13.3" fill="#000" text-anchor="middle">AJ-30</text>
<text x="1657.2" y="1079.4" font-size="13.3" fill="#000" text-anchor="middle">YX-20</text>
<text x="1720.1" y="1079.4" font-size="13.3" fill="#000" text-anchor="middle">YX-19</text>
<text x="1782.4" y="1079.4" font-size="13.3" fill="#000" text-anchor="middle">YX-3</text>
<text x="1657.2" y="1110.6" font-size="13.3" fill="#000" text-anchor="middle">YX-26</text>
<text x="1720.1" y="1110.6" font-size="13.3" fill="#000" text-anchor="middle">YX-27</text>
<text x="1782.4" y="1110.6" font-size="13.3" fill="#000" text-anchor="middle">YX-21</text>
<text x="1657.2" y="1141.7" font-size="13.3" fill="#000" text-anchor="middle">YX-13</text>
<text x="1720.1" y="1141.7" font-size="13.3" fill="#000" text-anchor="middle">YX-2</text>
<text x="1782.4" y="1141.7" font-size="13.3" fill="#000" text-anchor="middle">YX-15</text>
<text x="1657.2" y="1172.9" font-size="13.3" fill="#000" text-anchor="middle">YX-17</text>
<text x="1720.1" y="1172.9" font-size="13.3" fill="#000" text-anchor="middle">YX-29</text>
<text x="1657.2" y="1204.0" font-size="13.3" fill="#000" text-anchor="middle">YX-14</text>
<text x="1720.1" y="1204.0" font-size="13.3" fill="#000" text-anchor="middle">YX-22</text>
<text x="1782.4" y="1204.0" font-size="13.3" fill="#000" text-anchor="middle">YX-16</text>
<text x="1864.3" y="1080.9" font-size="13.3" fill="#000" text-anchor="middle">JZ-3</text>
<text x="1926.6" y="1080.9" font-size="13.3" fill="#000" text-anchor="middle">JZ-21</text>
<text x="1864.3" y="1112.7" font-size="13.3" fill="#000" text-anchor="middle">JZ-16</text>
<text x="1926.6" y="1112.7" font-size="13.3" fill="#000" text-anchor="middle">JZ-22</text>
<text x="1864.3" y="1143.8" font-size="13.3" fill="#000" text-anchor="middle">JZ-15</text>
<text x="1926.6" y="1143.8" font-size="13.3" fill="#000" text-anchor="middle">JZ-29</text>
<text x="1864.3" y="1175.3" font-size="13.3" fill="#000" text-anchor="middle">JZ-1</text>
<text x="1785.4" y="938.5" font-size="13.3" fill="#000" text-anchor="middle">HS-15</text>
<text x="1660.2" y="1000.8" font-size="13.3" fill="#000" text-anchor="middle">HS-24</text>
<text x="1723.1" y="1000.8" font-size="13.3" fill="#000" text-anchor="middle">HS-30</text>
<text x="1785.4" y="1000.8" font-size="13.3" fill="#000" text-anchor="middle">HS-28</text>
<text x="1928.7" y="940.6" font-size="13.3" fill="#000" text-anchor="middle">AJ-11</text>
<text x="1866.4" y="1034.3" font-size="13.3" fill="#000" text-anchor="middle">AJ-27</text>
<text x="1782.4" y="1172.9" font-size="13.3" fill="#000" text-anchor="middle">YX-5</text>
<text x="1482" y="1315.2" font-size="14.5" fill="#fff" text-anchor="middle">HZP-15</text>
<text x="1557.7" y="1329.7" font-size="14.5" fill="#000" text-anchor="middle">HZP-10</text>
<text x="1630.3" y="1328.3" font-size="14.5" fill="#000" text-anchor="middle">HZP-24</text>
<text x="1269.4" y="1352.7" font-size="13.3" fill="#000" text-anchor="middle">CS-25</text>
<text x="1332.2" y="1352.7" font-size="13.3" fill="#000" text-anchor="middle">CS-16</text>
<text x="1394.7" y="1352.7" font-size="13.3" fill="#000" text-anchor="middle">CS-22</text>
<text x="1332.2" y="1384.4" font-size="13.3" fill="#000" text-anchor="middle">CS-19</text>
<text x="1394.7" y="1384.4" font-size="13.3" fill="#000" text-anchor="middle">CS-18</text>
<text x="1269.4" y="1415.5" font-size="13.3" fill="#000" text-anchor="middle">CS-1</text>
<text x="1332.2" y="1415.5" font-size="13.3" fill="#000" text-anchor="middle">CS-20</text>
<text x="1394.7" y="1415.5" font-size="13.3" fill="#000" text-anchor="middle">CS-26</text>
<text x="1269.4" y="1446.3" font-size="13.3" fill="#000" text-anchor="middle">CS-7</text>
<text x="1332.2" y="1446.3" font-size="13.3" fill="#000" text-anchor="middle">CS-3</text>
<text x="1269.4" y="1478.0" font-size="13.3" fill="#000" text-anchor="middle">CS-27</text>
<text x="1479.8" y="1384.5" font-size="13.3" fill="#000" text-anchor="middle">HZP-7</text>
<text x="1542" y="1384.5" font-size="13.3" fill="#000" text-anchor="middle">HZP-14</text>
<text x="1605" y="1384.5" font-size="13.3" fill="#000" text-anchor="middle">HZP-6</text>
<text x="1479.8" y="1416.1" font-size="13.3" fill="#000" text-anchor="middle">HZP-3</text>
<text x="1542" y="1416.1" font-size="13.3" fill="#000" text-anchor="middle">HZP-30</text>
<text x="1605" y="1416.1" font-size="13.3" fill="#000" text-anchor="middle">HZP-13</text>
<text x="1479.8" y="1447.5" font-size="13.3" fill="#000" text-anchor="middle">HZP-29</text>
<text x="1605" y="1447.5" font-size="13.3" fill="#000" text-anchor="middle">HZP-11</text>
<text x="1479.8" y="1478.6" font-size="13.3" fill="#000" text-anchor="middle">HZP-28</text>
<text x="1540.7" y="1481.7" font-size="13.3" fill="#000" text-anchor="middle">HZP-27</text>
<text x="1269.4" y="1384.4" font-size="13.3" fill="#000" text-anchor="middle">CS-23</text>
<text x="1394.7" y="1446.3" font-size="13.3" fill="#000" text-anchor="middle">CS-13</text>
<text x="1542.8" y="1447.5" font-size="13.3" fill="#000" text-anchor="middle">HZP-1</text>
<text x="1111" y="1577.9" font-size="13.3" fill="#000" text-anchor="middle">XA-9</text>
<text x="1173.8" y="1577.9" font-size="13.3" fill="#000" text-anchor="middle">XA-22</text>
<text x="1222.7" y="1586.6" font-size="13.3" fill="#000" text-anchor="middle">DA-7</text>
<text x="1173.8" y="1609.0" font-size="13.3" fill="#000" text-anchor="middle">XA-8</text>
<text x="1222.7" y="1617.7" font-size="13.3" fill="#000" text-anchor="middle">DA-3</text>
<text x="1111" y="1639.9" font-size="13.3" fill="#000" text-anchor="middle">XA-5</text>
<text x="1173.8" y="1639.9" font-size="13.3" fill="#000" text-anchor="middle">XA-19</text>
<text x="1111" y="1609.0" font-size="13.3" fill="#000" text-anchor="middle">XA-29</text>
<text x="1654.8" y="1508.9" font-size="13.3" fill="#000" text-anchor="middle">CY-19</text>
<text x="1718.3" y="1508.9" font-size="13.3" fill="#000" text-anchor="middle">CY-15</text>
<text x="1772.2" y="1507.1" font-size="13.3" fill="#000" text-anchor="middle">CY-25</text>
<text x="1654.8" y="1540.5" font-size="13.3" fill="#000" text-anchor="middle">CY-28</text>
<text x="1718.3" y="1540.5" font-size="13.3" fill="#000" text-anchor="middle">CY-7</text>
<text x="1772.2" y="1543.4" font-size="13.3" fill="#000" text-anchor="middle">CY-12</text>
<text x="1654.8" y="1571.6" font-size="13.3" fill="#000" text-anchor="middle">CY-17</text>
<text x="1718.3" y="1571.6" font-size="13.3" fill="#000" text-anchor="middle">CY-22</text>
<text x="1662" y="1621.7" font-size="13.3" fill="#000" text-anchor="middle">RH-22</text>
<text x="1722.9" y="1621.7" font-size="13.3" fill="#000" text-anchor="middle">RH-18</text>
<text x="1785.7" y="1621.7" font-size="13.3" fill="#000" text-anchor="middle">RH-9</text>
<text x="1662" y="1652.7" font-size="13.3" fill="#000" text-anchor="middle">RH-28</text>
<text x="1722.9" y="1652.7" font-size="13.3" fill="#000" text-anchor="middle">RH-25</text>
<text x="1662" y="1683.9" font-size="13.3" fill="#000" text-anchor="middle">RH-15</text>
<text x="1785.7" y="1683.9" font-size="13.3" fill="#000" text-anchor="middle">RH-20</text>
<text x="1785.7" y="1652.7" font-size="13.3" fill="#000" text-anchor="middle">RH-26</text>
<text x="1722.9" y="1683.9" font-size="13.3" fill="#000" text-anchor="middle">RH-17</text>
<text x="1117" y="896" font-size="33" fill="#E60012">MS_MIDDLE</text>
<text x="1731.4" y="873" font-size="33" fill="#E60012">MS_EAST</text>
<text x="1730" y="1356.5" font-size="33" fill="#E60012">MS_WEST</text>
<text x="1033" y="1692" font-size="33" fill="#E60012">MS_SHOUTH-A</text>
<text x="1637.6" y="1737.6" font-size="33" fill="#E60012">MS_SHOUTH-B</text>
</g><g id="pe">
<rect x="378.2" y="1789.3" width="344.50000000000006" height="568.8999999999999" fill="#E8F4FB"/>
<path d="M132.9,2042.9 149.6,2082.0 157.4,2091.8 165.3,2107.5 175.0,2136.9 186.8,2176.0 196.6,2221.1 208.3,2277.9 215.2,2292.6 222.0,2277.9 226.9,2277.9 231.8,2269.1 236.7,2267.1 241.6,2248.5 247.5,2245.6 251.0,2241.0 255.3,2236.8 260.0,2250.0 265.1,2257.3 271.0,2238.7 278.0,2239.0 284.7,2240.7 290.6,2213.3 293.0,2212.0 296.5,2225.0 301.4,2251.5 304.0,2246.0 306.0,2250.0 310.2,2244.6 317.0,2208.4 320.0,2225.0 323.9,2236.8 327.8,2217.2 331.0,2212.0 333.0,2214.0 335.6,2209.3 337.0,2215.0 339.0,2205.0 341.5,2202.5 343.0,2212.0 345.0,2222.0 349.3,2250.5 352.0,2225.0 354.0,2240.0 357.2,2198.6 361.1,2238.7 365.0,2211.3 368.0,2215.0 371.0,2195.0 374.8,2169.2 377.7,2214.2 381.0,2185.0 385.6,2139.8 389.0,2170.0 392.4,2229.9 395.0,2212.0 397.3,2205.4 400.0,2170.0 403.2,2139.8 404.5,2160.0 406.1,2166.3 408.0,2152.0 410.0,2162.0 412.0,2154.0 414.0,2150.6 415.9,2176.1 418.0,2178.0 420.8,2190.7 423.0,2175.0 425.7,2127.1 428.0,2090.0 430.5,2020.0 431.5,2045.0 432.6,1998.8 434.0,2012.0 435.5,2013.5 437.0,2080.0 438.5,2134.9 439.4,2105.6 440.5,2140.0 443.4,2244.6 445.0,2230.0 447.3,2258.3 449.0,2240.0 451.0,2262.0 453.2,2272.0 455.0,2245.0 457.1,2211.3 459.0,2225.0 461.0,2220.0 463.0,2250.0 464.9,2266.1 466.5,2240.0 468.8,2227.0 470.0,2155.0 473.3,2224.7 477.1,2167.1 480.9,2280.6 483.1,2155.2 486.5,2218.0 489.7,2182.4 493.2,2268.6 497.2,2161.1 501.2,2218.1 503.5,2118.0 506.5,2247.8 509.7,2162.0 513.6,2260.6 515.7,2158.5 519.3,2229.1 522.4,2181.5 524.4,2268.9 526.6,2063.3 528.5,2236.0 532.4,2093.0 534.4,2250.5 536.7,2047.3 539.2,2264.2 541.9,2139.6 545.1,2250.8 548.1,2154.4 552.3,2240.6 554.1,2154.8 557.4,2226.2 560.3,2115.7 561.7,2243.7 564.8,2134.0 566.8,2245.3 569.2,2030.6 571.9,2254.8 574.7,2154.3 576.2,2251.9 579.1,2142.0 581.6,2263.2 583.3,2145.7 586.2,2228.1 589.0,2128.0 590.9,2251.4 592.9,2124.2 594.5,2224.4 597.4,2074.6 599.2,2270.6 601.7,2125.4 603.2,2259.9 606.0,2169.7 609.0,2253.5 610.3,2119.1 612.6,2246.6 615.1,2135.0 617.8,2258.0 620.2,2118.8 623.0,2277.5 625.4,2114.2 627.7,2237.7 630.5,2157.3 632.0,2266.5 633.5,2118.4 636.0,2252.1 637.7,2143.1 639.7,2224.6 641.7,2108.1 643.5,2194.0 645.1,2085.8 646.4,2216.3 647.4,2092.8 648.8,2234.6 650.1,2124.2 652.2,2232.4 654.1,2045.7 656.1,2191.1 657.2,2089.5 658.3,2221.3 660.3,2003.4 661.9,2202.9 663.9,2092.8 665.9,2192.4 667.2,2098.1 668.6,2182.2 669.7,2113.5 670.9,2206.4 672.7,2085.4 673.8,2181.1 676.0,2083.7 677.3,2189.4 678.6,2102.7 680.5,2167.5 682.2,2110.1 683.6,2182.5 685.0,2105.7 686.7,2219.2 688.8,2077.0 690.2,2206.5 691.8,2110.2 694.0,2226.1 695.2,2112.6 697.3,2195.5 698.6,2096.8 700.7,2176.1 702.4,2094.2 704.0,2176.3 706.1,2091.4 708.0,2168.6 710.1,2119.0 712.0,2173.7 713.8,2073.2 715.6,2205.6 717.2,2091.9 718.4,2175.9 719.6,2066.2 720.7,2170.8 722.0,2078.5 722.9,2153.2 724.4,2084.4 725.5,2188.1 726.7,2098.8 727.8,2172.3 728.8,2075.8 729.7,2197.5 730.6,2083.7 732.0,2191.3 733.1,2084.0 734.1,2188.1 735.5,2074.5 736.8,2179.4 738.2,2098.3 739.6,2143.5 741.0,2069.2 742.2,2151.6 743.5,2057.6 744.4,2176.1 745.2,2085.5 746.8,2168.7 748.2,2103.1 749.6,2171.3 751.1,2063.9 752.3,2144.0 753.0,2095.7 754.3,2176.4 755.3,2076.7 756.9,2167.9 758.0,2009.7 759.4,2147.0 760.3,2090.9 761.1,2158.5 762.3,2103.2 763.7,2147.0 764.8,2099.6 765.9,2148.0 767.0,2103.1 768.5,2167.7 769.5,2078.4 770.5,2163.7 772.2,2066.3 773.1,2141.0 774.4,2057.4 775.9,2206.9 776.7,2055.1 777.7,2160.3 778.8,2062.5 780.2,2148.0 781.4,2037.8 782.9,2165.5 783.8,2040.2 785.0,2131.3 785.7,2064.8 786.7,2156.5 788.2,2023.2 789.3,2156.6 790.4,2050.6 791.2,2169.9 791.9,1994.7 793.6,2130.1 794.7,2031.4 795.6,2127.1 797.1,2102.6 798.7,2137.0 799.6,2030.6 801.2,2133.8 802.3,2080.7 803.3,2139.6 804.7,2067.3 805.9,2169.5 803.5,2010.0 804.5,1917.0 805.5,2040.0 806.5,1990.0" fill="none" stroke="#7B9DF0" stroke-width="1.1" stroke-linejoin="round"/>
<path d="M133.3,2352.0H189.5V2347.3H227.4V2340.3H260.1V2328.0H290.6V2310.8H319.6V2304.6H346.3V2306.4H374.8V2310.3H399.6V2315.3H425.6V2316.3H451.8V2311.0H476.1V2296.1H500.4V2267.6H524.6V2223.7H548.9V2177.5H573.2V2140.7H597.5V2115.6H621.0V2088.2H645.3V2046.6H669.1V1980.3H692.8V1905.3H717.0V1836.2H740.0V1805.9H764.2V1860.4H799.3" fill="none" stroke="#00E5E5" stroke-width="7.6"/>
<path d="M134.0,2353.2H190.2V2348.5H228.1V2341.5H260.8V2329.2H291.3V2315.5H320.3V2309.3H347.0V2311.1H375.5V2315.0H400.3V2320.0H426.3V2321.0H452.5V2315.7H476.8V2300.8H501.1V2272.3H525.3V2228.4H549.6V2182.2H573.9V2145.4H598.2V2120.3H621.7V2092.9H646.0V2051.3H669.8V1985.0H693.5V1910.0H717.7V1842.2H740.7V1815.6H764.9V1872.7H800.0" fill="none" stroke="#00B000" stroke-width="7.6"/>
<path d="M133.5,2352.0H189.7V2347.3H227.6V2340.3H260.3V2328.0H290.8V2314.3H319.8V2308.1H346.5V2309.9H375.0V2313.8H399.8V2318.8H425.8V2319.8H452.0V2314.5H476.3V2299.6H500.6V2271.1H524.8V2227.2H549.1V2181.0H573.4V2144.2H597.7V2119.1H621.2V2091.7H645.5V2050.1H669.3V1983.8H693.0V1908.8H717.2V1841.0H740.2V1814.4H764.4V1867.7H799.5" fill="none" stroke="#B000F0" stroke-width="7.6"/>
<path d="M133.5,2352.0H189.7V2347.3H227.6V2340.3H260.3V2328.0H290.8V2317.3H319.8V2311.1H346.5V2312.9H375.0V2316.8H399.8V2321.8H425.8V2322.8H452.0V2317.5H476.3V2302.6H500.6V2274.1H524.8V2230.2H549.1V2184.0H573.4V2147.2H597.7V2122.1H621.2V2094.7H645.5V2056.6H669.3V1989.8H693.0V1915.8H717.2V1851.0H740.2V1825.4H764.4V1878.7H799.5" fill="none" stroke="#0A7CF0" stroke-width="7.6"/>
<path d="M132.5,2352.0H188.7V2347.3H226.6V2340.3H259.3V2328.0H289.8V2314.3H318.8V2308.1H345.5V2309.9H374.0V2313.8H398.8V2318.8H424.8V2319.8H451.0V2314.5H475.3V2299.6H499.6V2271.1H523.8V2227.2H548.1V2181.0H572.4V2144.2H596.7V2119.1H620.2V2091.7H644.5V2050.1H668.3V1983.8H692.0V1908.8H716.2V1841.0H739.2V1814.4H763.4V1867.7H798.5" fill="none" stroke="#FF0000" stroke-width="7.6"/>
<rect x="133.6" y="1789.3" width="810.0" height="568.8999999999999" fill="none" stroke="#000" stroke-width="4.2"/>
<path d="M214.9,2358.2V2352.7M214.9,1789.3V1794.8M262.4,2358.2V2352.7M262.4,1789.3V1794.8M296.2,2358.2V2352.7M296.2,1789.3V1794.8M322.3,2358.2V2352.7M322.3,1789.3V1794.8M343.7,2358.2V2352.7M343.7,1789.3V1794.8M361.8,2358.2V2352.7M361.8,1789.3V1794.8M377.4,2358.2V2352.7M377.4,1789.3V1794.8M391.2,2358.2V2352.7M391.2,1789.3V1794.8M403.6,2358.2V2348.2M403.6,1789.3V1799.3M484.9,2358.2V2352.7M484.9,1789.3V1794.8M532.4,2358.2V2352.7M532.4,1789.3V1794.8M566.2,2358.2V2352.7M566.2,1789.3V1794.8M592.3,2358.2V2352.7M592.3,1789.3V1794.8M613.7,2358.2V2352.7M613.7,1789.3V1794.8M631.8,2358.2V2352.7M631.8,1789.3V1794.8M647.4,2358.2V2352.7M647.4,1789.3V1794.8M661.2,2358.2V2352.7M661.2,1789.3V1794.8M673.6,2358.2V2348.2M673.6,1789.3V1799.3M754.9,2358.2V2352.7M754.9,1789.3V1794.8M802.4,2358.2V2352.7M802.4,1789.3V1794.8M836.2,2358.2V2352.7M836.2,1789.3V1794.8M862.3,2358.2V2352.7M862.3,1789.3V1794.8M883.7,2358.2V2352.7M883.7,1789.3V1794.8M901.8,2358.2V2352.7M901.8,1789.3V1794.8M917.4,2358.2V2352.7M917.4,1789.3V1794.8M931.2,2358.2V2352.7M931.2,1789.3V1794.8M133.6,2346.8H137.79999999999998M133.6,2335.4H137.79999999999998M133.6,2324.1H137.79999999999998M133.6,2312.7H137.79999999999998M133.6,2301.3H137.79999999999998M133.6,2289.9H137.79999999999998M133.6,2278.6H137.79999999999998M133.6,2267.2H137.79999999999998M133.6,2255.8H137.79999999999998M133.6,2244.4H141.6M133.6,2233.0H137.79999999999998M133.6,2221.7H137.79999999999998M133.6,2210.3H137.79999999999998M133.6,2198.9H137.79999999999998M133.6,2187.5H137.79999999999998M133.6,2176.2H137.79999999999998M133.6,2164.8H137.79999999999998M133.6,2153.4H137.79999999999998M133.6,2142.0H137.79999999999998M133.6,2130.6H141.6M133.6,2119.3H137.79999999999998M133.6,2107.9H137.79999999999998M133.6,2096.5H137.79999999999998M133.6,2085.1H137.79999999999998M133.6,2073.8H137.79999999999998M133.6,2062.4H137.79999999999998M133.6,2051.0H137.79999999999998M133.6,2039.6H137.79999999999998M133.6,2028.2H137.79999999999998M133.6,2016.9H141.6M133.6,2005.5H137.79999999999998M133.6,1994.1H137.79999999999998M133.6,1982.7H137.79999999999998M133.6,1971.3H137.79999999999998M133.6,1960.0H137.79999999999998M133.6,1948.6H137.79999999999998M133.6,1937.2H137.79999999999998M133.6,1925.8H137.79999999999998M133.6,1914.5H137.79999999999998M133.6,1903.1H141.6M133.6,1891.7H137.79999999999998M133.6,1880.3H137.79999999999998M133.6,1868.9H137.79999999999998M133.6,1857.6H137.79999999999998M133.6,1846.2H137.79999999999998M133.6,1834.8H137.79999999999998M133.6,1823.4H137.79999999999998M133.6,1812.1H137.79999999999998M133.6,1800.7H137.79999999999998" stroke="#000" stroke-width="3.2" fill="none"/>
<path d="M943.6,2358.2H957.6M943.6,2341.9H951.6M943.6,2325.7H951.6M943.6,2309.4H951.6M943.6,2293.2H951.6M943.6,2276.9H957.6M943.6,2260.7H951.6M943.6,2244.4H951.6M943.6,2228.2H951.6M943.6,2211.9H951.6M943.6,2195.7H957.6M943.6,2179.4H951.6M943.6,2163.1H951.6M943.6,2146.9H951.6M943.6,2130.6H951.6M943.6,2114.4H957.6M943.6,2098.1H951.6M943.6,2081.9H951.6M943.6,2065.6H951.6M943.6,2049.4H951.6M943.6,2033.1H957.6M943.6,2016.9H951.6M943.6,2000.6H951.6M943.6,1984.4H951.6M943.6,1968.1H951.6M943.6,1951.8H957.6M943.6,1935.6H951.6M943.6,1919.3H951.6M943.6,1903.1H951.6M943.6,1886.8H951.6M943.6,1870.6H957.6M943.6,1854.3H951.6M943.6,1838.1H951.6M943.6,1821.8H951.6M943.6,1805.6H951.6M943.6,1789.3H957.6" stroke="#000" stroke-width="2.2" fill="none"/>
<text x="118.4" y="2372.2" font-size="33" text-anchor="end">0</text>
<text x="118.4" y="2258.4" font-size="33" text-anchor="end">0.36</text>
<text x="118.4" y="2144.6" font-size="33" text-anchor="end">0.72</text>
<text x="118.4" y="2030.9" font-size="33" text-anchor="end">1.08</text>
<text x="118.4" y="1917.1" font-size="33" text-anchor="end">1.44</text>
<text x="118.4" y="1803.3" font-size="33" text-anchor="end">1.80</text>
<text x="962" y="2370.2" font-size="33.5">−20</text>
<text x="962" y="2288.9" font-size="33.5">−15</text>
<text x="962" y="2207.7" font-size="33.5">−10</text>
<text x="962" y="2126.4" font-size="33.5">−5</text>
<text x="962" y="2045.1" font-size="33.5">0</text>
<text x="962" y="1963.8" font-size="33.5">5</text>
<text x="962" y="1882.6" font-size="33.5">10</text>
<text x="962" y="1801.3" font-size="33.5">15</text>
<text x="111.2" y="2399.5" font-size="35" textLength="36.1" lengthAdjust="spacingAndGlyphs">10</text><text x="148.0" y="2389" font-size="20">4</text>
<text x="374.6" y="2399.5" font-size="35" textLength="36.1" lengthAdjust="spacingAndGlyphs">10</text><text x="411.4" y="2389" font-size="20">5</text>
<text x="645.1" y="2399.5" font-size="35" textLength="36.1" lengthAdjust="spacingAndGlyphs">10</text><text x="681.9" y="2389" font-size="20">6</text>
<text x="905.3" y="2399.5" font-size="35" textLength="36.1" lengthAdjust="spacingAndGlyphs">10</text><text x="942.1" y="2389" font-size="20">7</text>
<text x="532.5" y="2434.2" font-size="35.5" text-anchor="middle">Years ago</text>
<text transform="translate(44.1,2062) rotate(-90)" font-size="36.5" text-anchor="middle">Effective population size (x10<tspan font-size="25" dy="-16">4</tspan><tspan dy="16">)</tspan></text>
<text transform="translate(1037.6,2057) rotate(-90)" font-size="38.8" text-anchor="middle" xml:space="preserve">T<tspan font-size="29">surf</tspan>  (°C)</text>
<line x1="144" y1="1812.6" x2="202.8" y2="1812.6" stroke="#FF0000" stroke-width="8.5"/>
<text x="210" y="1822.8" font-size="28.4">MS_MIDDLE</text>
<line x1="144" y1="1841.5" x2="202.8" y2="1841.5" stroke="#00C000" stroke-width="8.5"/>
<text x="210" y="1851.7" font-size="28.4">MS_SOUTH-A</text>
<line x1="144" y1="1870.4" x2="202.8" y2="1870.4" stroke="#0A7CF0" stroke-width="8.5"/>
<text x="210" y="1880.6" font-size="28.4">MS_SOUTH-B</text>
<line x1="144" y1="1899.3" x2="202.8" y2="1899.3" stroke="#B000F0" stroke-width="8.5"/>
<text x="210" y="1909.5" font-size="28.4">MS_EAST</text>
<line x1="144" y1="1928.2" x2="202.8" y2="1928.2" stroke="#00E5E5" stroke-width="8.5"/>
<text x="210" y="1938.4" font-size="28.4">MS_WEST</text>
</g><g id="pf">
<rect x="1185.9" y="1784.2" width="284.89999999999986" height="566.6000000000001" fill="#E8F4FA"/>
<path d="M1187.9,2247.5 L1726.7,2247.5 L1738.4,2073.0 L1942.0,2073.0 L1953.0,1793.0" fill="none" stroke="#B026FF" stroke-width="7.8" stroke-linejoin="round" stroke-linecap="round"/>
<path d="M1187.9,2251.5 L1716.2,2251.5 L1727.9,2063.7 L1942.0,2063.7 L1953.0,1793.0" fill="none" stroke="#E8262D" stroke-width="7.8" stroke-linejoin="round" stroke-linecap="round"/>
<path d="M1187.9,2259.8 L1715.0,2259.8 L1726.5,2072.5 L1943.0,2072.5 L1954.0,1793.0" fill="none" stroke="#1DB82E" stroke-width="7.8" stroke-linejoin="round" stroke-linecap="round"/>
<path d="M1187.9,2256.8 L1716.2,2256.8 L1727.9,2069.6 L1944.4,2069.6 L1956.0,1792.0" fill="none" stroke="#1E88FF" stroke-width="7.8" stroke-linejoin="round" stroke-linecap="round"/>
<path d="M1187.9,2279.1 L1682.8,2279.1 L1694.9,2065.3 L1951.6,2065.3 L1961.4,1792.5" fill="none" stroke="#00E8EE" stroke-width="7.8" stroke-linejoin="round" stroke-linecap="round"/>
<rect x="1185.9" y="1784.2" width="781.1999999999998" height="566.6000000000001" fill="none" stroke="#262626" stroke-width="4.2"/>
<path d="M1185.9,2350.8V2361.8M1251.5,2350.8V2356.8M1289.9,2350.8V2356.8M1317.1,2350.8V2356.8M1338.3,2350.8V2356.8M1355.5,2350.8V2356.8M1370.1,2350.8V2356.8M1382.8,2350.8V2356.8M1393.9,2350.8V2356.8M1403.9,2350.8V2361.8M1469.5,2350.8V2356.8M1507.9,2350.8V2356.8M1535.1,2350.8V2356.8M1556.3,2350.8V2356.8M1573.5,2350.8V2356.8M1588.1,2350.8V2356.8M1600.8,2350.8V2356.8M1611.9,2350.8V2356.8M1621.9,2350.8V2361.8M1687.5,2350.8V2356.8M1725.9,2350.8V2356.8M1753.1,2350.8V2356.8M1774.3,2350.8V2356.8M1791.5,2350.8V2356.8M1806.1,2350.8V2356.8M1818.8,2350.8V2356.8M1829.9,2350.8V2356.8M1839.9,2350.8V2361.8M1905.5,2350.8V2356.8M1943.9,2350.8V2356.8M1185.9,2343.2H1175.9M1185.9,2270.9H1180.4M1185.9,2228.6H1180.4M1185.9,2198.6H1180.4M1185.9,2175.3H1180.4M1185.9,2156.3H1180.4M1185.9,2140.2H1180.4M1185.9,2126.3H1180.4M1185.9,2114.0H1180.4M1185.9,2103.0H1175.9M1185.9,2030.8H1180.4M1185.9,1988.5H1180.4M1185.9,1958.5H1180.4M1185.9,1935.2H1180.4M1185.9,1916.2H1180.4M1185.9,1900.1H1180.4M1185.9,1886.2H1180.4M1185.9,1873.9H1180.4M1185.9,1862.9H1175.9M1185.9,1790.6H1180.4" stroke="#262626" stroke-width="3.4" fill="none"/>
<text x="1163.2" y="2392" font-size="35.5" textLength="36.2" lengthAdjust="spacingAndGlyphs">10</text><text x="1199.9" y="2381" font-size="20">2</text>
<text x="1381.2" y="2392" font-size="35.5" textLength="36.2" lengthAdjust="spacingAndGlyphs">10</text><text x="1417.9" y="2381" font-size="20">3</text>
<text x="1599.2" y="2392" font-size="35.5" textLength="36.2" lengthAdjust="spacingAndGlyphs">10</text><text x="1635.9" y="2381" font-size="20">4</text>
<text x="1817.2" y="2392" font-size="35.5" textLength="36.2" lengthAdjust="spacingAndGlyphs">10</text><text x="1853.9" y="2381" font-size="20">5</text>
<text x="1125.6" y="2348.1" font-size="35.5" textLength="36.2" lengthAdjust="spacingAndGlyphs">10</text><text x="1162.2" y="2336.9" font-size="20">2</text>
<text x="1125.6" y="2107.9" font-size="35.5" textLength="36.2" lengthAdjust="spacingAndGlyphs">10</text><text x="1162.2" y="2096.7" font-size="20">3</text>
<text x="1125.6" y="1867.8" font-size="35.5" textLength="36.2" lengthAdjust="spacingAndGlyphs">10</text><text x="1162.2" y="1856.6" font-size="20">4</text>
<text x="1577" y="2434" font-size="35.5" text-anchor="middle">Years ago</text>
<text transform="translate(1113,2083) rotate(-90)" font-size="37.2" text-anchor="middle">Effective population size</text>
<line x1="1222.5" y1="1819.1" x2="1281.5" y2="1819.1" stroke="#E8262D" stroke-width="8.5" stroke-linecap="round"/>
<text x="1295.9" y="1827.3" font-size="28.5">MS_MIDDLE</text>
<line x1="1222.5" y1="1847.8" x2="1281.5" y2="1847.8" stroke="#1DB82E" stroke-width="8.5" stroke-linecap="round"/>
<text x="1295.9" y="1856.0" font-size="28.5">MS_SOUTH-A</text>
<line x1="1222.5" y1="1876.5" x2="1281.5" y2="1876.5" stroke="#1E88FF" stroke-width="8.5" stroke-linecap="round"/>
<text x="1295.9" y="1884.7" font-size="28.5">MS_SOUTH-B</text>
<line x1="1222.5" y1="1905.2" x2="1281.5" y2="1905.2" stroke="#B026FF" stroke-width="8.5" stroke-linecap="round"/>
<text x="1295.9" y="1913.4" font-size="28.5">MS_EAST</text>
<line x1="1222.5" y1="1933.9" x2="1281.5" y2="1933.9" stroke="#1EE8EE" stroke-width="8.5" stroke-linecap="round"/>
<text x="1295.9" y="1942.1" font-size="28.5">MS_WEST</text>
</g>

<text x="10" y="41" font-size="52">a</text>
<text x="915" y="41.2" font-size="50">b</text>
<text x="-1" y="941.6" font-size="52">c</text>
<text x="970" y="941.8" font-size="52">d</text>
<text x="14" y="1774.6" font-size="52">e</text>
<text x="1064.5" y="1774" font-size="52">f</text>

</svg>
</body></html>
